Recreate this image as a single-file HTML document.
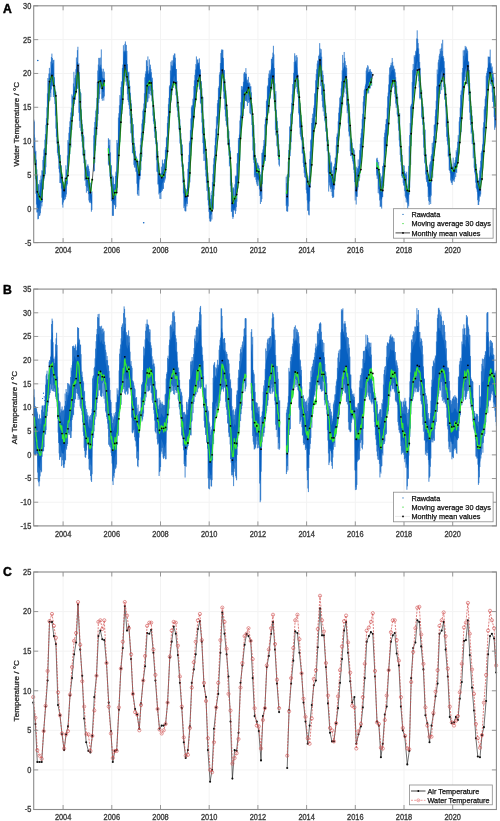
<!DOCTYPE html>
<html><head><meta charset="utf-8"><title>Temperature time series</title>
<style>html,body{margin:0;padding:0;background:#fff;}body{width:500px;height:821px;overflow:hidden;font-family:"Liberation Sans",sans-serif;}svg{display:block;filter:blur(0.35px);}</style>
</head><body>
<svg width="500" height="821" viewBox="0 0 500 821">
<rect width="500" height="821" fill="#fff"/>
<line x1="63.10" y1="5.80" x2="63.10" y2="242.60" stroke="#f3f3f3" stroke-width="1"/>
<line x1="111.80" y1="5.80" x2="111.80" y2="242.60" stroke="#f3f3f3" stroke-width="1"/>
<line x1="160.50" y1="5.80" x2="160.50" y2="242.60" stroke="#f3f3f3" stroke-width="1"/>
<line x1="209.20" y1="5.80" x2="209.20" y2="242.60" stroke="#f3f3f3" stroke-width="1"/>
<line x1="257.90" y1="5.80" x2="257.90" y2="242.60" stroke="#f3f3f3" stroke-width="1"/>
<line x1="306.60" y1="5.80" x2="306.60" y2="242.60" stroke="#f3f3f3" stroke-width="1"/>
<line x1="355.30" y1="5.80" x2="355.30" y2="242.60" stroke="#f3f3f3" stroke-width="1"/>
<line x1="404.00" y1="5.80" x2="404.00" y2="242.60" stroke="#f3f3f3" stroke-width="1"/>
<line x1="452.70" y1="5.80" x2="452.70" y2="242.60" stroke="#f3f3f3" stroke-width="1"/>
<line x1="33.70" y1="242.60" x2="496.40" y2="242.60" stroke="#f3f3f3" stroke-width="1"/>
<line x1="33.70" y1="208.77" x2="496.40" y2="208.77" stroke="#f3f3f3" stroke-width="1"/>
<line x1="33.70" y1="174.94" x2="496.40" y2="174.94" stroke="#f3f3f3" stroke-width="1"/>
<line x1="33.70" y1="141.11" x2="496.40" y2="141.11" stroke="#f3f3f3" stroke-width="1"/>
<line x1="33.70" y1="107.29" x2="496.40" y2="107.29" stroke="#f3f3f3" stroke-width="1"/>
<line x1="33.70" y1="73.46" x2="496.40" y2="73.46" stroke="#f3f3f3" stroke-width="1"/>
<line x1="33.70" y1="39.63" x2="496.40" y2="39.63" stroke="#f3f3f3" stroke-width="1"/>
<line x1="33.70" y1="5.80" x2="496.40" y2="5.80" stroke="#f3f3f3" stroke-width="1"/>
<line x1="63.10" y1="289.10" x2="63.10" y2="525.90" stroke="#f3f3f3" stroke-width="1"/>
<line x1="111.80" y1="289.10" x2="111.80" y2="525.90" stroke="#f3f3f3" stroke-width="1"/>
<line x1="160.50" y1="289.10" x2="160.50" y2="525.90" stroke="#f3f3f3" stroke-width="1"/>
<line x1="209.20" y1="289.10" x2="209.20" y2="525.90" stroke="#f3f3f3" stroke-width="1"/>
<line x1="257.90" y1="289.10" x2="257.90" y2="525.90" stroke="#f3f3f3" stroke-width="1"/>
<line x1="306.60" y1="289.10" x2="306.60" y2="525.90" stroke="#f3f3f3" stroke-width="1"/>
<line x1="355.30" y1="289.10" x2="355.30" y2="525.90" stroke="#f3f3f3" stroke-width="1"/>
<line x1="404.00" y1="289.10" x2="404.00" y2="525.90" stroke="#f3f3f3" stroke-width="1"/>
<line x1="452.70" y1="289.10" x2="452.70" y2="525.90" stroke="#f3f3f3" stroke-width="1"/>
<line x1="33.70" y1="525.90" x2="496.40" y2="525.90" stroke="#f3f3f3" stroke-width="1"/>
<line x1="33.70" y1="502.22" x2="496.40" y2="502.22" stroke="#f3f3f3" stroke-width="1"/>
<line x1="33.70" y1="478.54" x2="496.40" y2="478.54" stroke="#f3f3f3" stroke-width="1"/>
<line x1="33.70" y1="454.86" x2="496.40" y2="454.86" stroke="#f3f3f3" stroke-width="1"/>
<line x1="33.70" y1="431.18" x2="496.40" y2="431.18" stroke="#f3f3f3" stroke-width="1"/>
<line x1="33.70" y1="407.50" x2="496.40" y2="407.50" stroke="#f3f3f3" stroke-width="1"/>
<line x1="33.70" y1="383.82" x2="496.40" y2="383.82" stroke="#f3f3f3" stroke-width="1"/>
<line x1="33.70" y1="360.14" x2="496.40" y2="360.14" stroke="#f3f3f3" stroke-width="1"/>
<line x1="33.70" y1="336.46" x2="496.40" y2="336.46" stroke="#f3f3f3" stroke-width="1"/>
<line x1="33.70" y1="312.78" x2="496.40" y2="312.78" stroke="#f3f3f3" stroke-width="1"/>
<line x1="33.70" y1="289.10" x2="496.40" y2="289.10" stroke="#f3f3f3" stroke-width="1"/>
<line x1="63.10" y1="572.00" x2="63.10" y2="809.50" stroke="#f3f3f3" stroke-width="1"/>
<line x1="111.80" y1="572.00" x2="111.80" y2="809.50" stroke="#f3f3f3" stroke-width="1"/>
<line x1="160.50" y1="572.00" x2="160.50" y2="809.50" stroke="#f3f3f3" stroke-width="1"/>
<line x1="209.20" y1="572.00" x2="209.20" y2="809.50" stroke="#f3f3f3" stroke-width="1"/>
<line x1="257.90" y1="572.00" x2="257.90" y2="809.50" stroke="#f3f3f3" stroke-width="1"/>
<line x1="306.60" y1="572.00" x2="306.60" y2="809.50" stroke="#f3f3f3" stroke-width="1"/>
<line x1="355.30" y1="572.00" x2="355.30" y2="809.50" stroke="#f3f3f3" stroke-width="1"/>
<line x1="404.00" y1="572.00" x2="404.00" y2="809.50" stroke="#f3f3f3" stroke-width="1"/>
<line x1="452.70" y1="572.00" x2="452.70" y2="809.50" stroke="#f3f3f3" stroke-width="1"/>
<line x1="33.70" y1="809.50" x2="496.40" y2="809.50" stroke="#f3f3f3" stroke-width="1"/>
<line x1="33.70" y1="769.92" x2="496.40" y2="769.92" stroke="#f3f3f3" stroke-width="1"/>
<line x1="33.70" y1="730.33" x2="496.40" y2="730.33" stroke="#f3f3f3" stroke-width="1"/>
<line x1="33.70" y1="690.75" x2="496.40" y2="690.75" stroke="#f3f3f3" stroke-width="1"/>
<line x1="33.70" y1="651.17" x2="496.40" y2="651.17" stroke="#f3f3f3" stroke-width="1"/>
<line x1="33.70" y1="611.58" x2="496.40" y2="611.58" stroke="#f3f3f3" stroke-width="1"/>
<line x1="33.70" y1="572.00" x2="496.40" y2="572.00" stroke="#f3f3f3" stroke-width="1"/>
<path d="M33.90,134.02 34.40,134.75 34.90,144.16 35.40,153.56 35.90,163.17 36.40,173.52 36.90,182.66 37.40,188.35 37.90,193.19 38.40,194.61 38.90,193.96 39.40,192.17 39.90,190.19 40.40,188.19 40.90,185.03 41.40,181.59 41.90,178.22 42.40,175.56 42.90,172.67 43.40,166.56 43.90,160.45 44.40,154.37 44.90,147.92 45.40,140.86 45.90,134.32 46.40,127.79 46.90,117.05 47.40,104.06 47.90,91.98 48.40,84.77 48.90,78.23 49.40,77.92 49.90,77.60 50.40,77.73 50.90,72.18 51.40,65.94 51.90,64.26 52.40,63.32 52.90,64.69 53.40,68.37 53.90,74.58 54.40,82.72 54.90,90.87 55.40,95.50 55.90,101.61 56.40,111.17 56.90,121.82 57.40,131.90 57.90,139.17 58.40,146.29 58.90,150.54 59.40,154.61 59.90,159.16 60.40,164.11 60.90,168.70 61.40,171.86 61.90,175.72 62.40,180.72 62.90,184.98 63.40,189.24 63.90,189.76 64.40,186.62 64.90,183.45 65.40,181.78 65.90,180.10 66.40,175.44 66.90,169.63 67.40,163.72 67.90,156.80 68.40,149.77 68.90,143.40 69.40,137.32 69.90,131.14 70.40,125.41 70.90,120.21 71.40,115.58 71.90,110.89 72.40,104.79 72.90,97.28 73.40,90.13 73.90,89.22 74.40,88.31 74.90,86.52 75.40,81.35 75.90,75.76 76.40,69.09 76.90,62.47 77.40,61.46 77.90,62.16 78.40,68.04 78.90,75.61 79.40,84.76 79.90,93.85 80.40,102.94 80.90,110.02 81.40,117.24 81.90,123.57 82.40,129.33 82.90,134.95 83.40,140.43 83.90,146.00 84.40,151.78 84.90,157.23 85.40,162.31 85.90,164.90 86.40,167.25 86.90,168.85 87.40,170.56 87.90,172.53 88.40,174.56 88.90,176.59 89.40,180.34 89.90,184.30 90.40,188.13 90.90,190.89 91.40,193.65 91.90,195.11 91.90,204.47 91.40,203.85 90.90,202.38 90.40,200.91 89.90,197.12 89.40,193.27 88.90,189.91 88.40,187.90 87.90,185.89 87.40,183.28 86.90,180.78 86.40,179.04 85.90,177.43 85.40,175.28 84.90,170.24 84.40,165.05 83.90,158.98 83.40,152.81 82.90,146.86 82.40,141.54 81.90,136.17 81.40,130.55 80.90,124.55 80.40,118.85 79.90,112.64 79.40,106.44 78.90,95.54 78.40,85.32 77.90,79.03 77.40,77.40 76.90,79.76 76.40,84.85 75.90,90.04 75.40,94.53 74.90,98.49 74.40,100.99 73.90,103.12 73.40,105.25 72.90,111.09 72.40,117.79 71.90,123.61 71.40,127.78 70.90,131.92 70.40,137.79 69.90,144.89 69.40,151.95 68.90,158.03 68.40,164.24 67.90,169.81 67.40,175.11 66.90,180.20 66.40,185.60 65.90,190.50 65.40,191.75 64.90,192.99 64.40,195.36 63.90,198.44 63.40,199.96 62.90,198.13 62.40,196.31 61.90,189.52 61.40,183.22 60.90,179.67 60.40,177.13 59.90,173.74 59.40,167.72 58.90,161.90 58.40,157.12 57.90,151.39 57.40,145.32 56.90,136.95 56.40,128.34 55.90,117.38 55.40,107.19 54.90,100.43 54.40,96.37 53.90,92.30 53.40,85.57 52.90,79.92 52.40,77.02 51.90,79.22 51.40,83.15 50.90,87.45 50.40,90.40 49.90,90.92 49.40,91.65 48.90,92.38 48.40,100.86 47.90,110.91 47.40,122.58 46.90,133.96 46.40,144.37 45.90,151.45 45.40,158.54 44.90,165.07 44.40,170.17 43.90,175.10 43.40,181.20 42.90,187.30 42.40,191.33 41.90,194.80 41.40,198.34 40.90,200.99 40.40,203.51 39.90,205.44 39.40,207.34 38.90,208.95 38.40,209.23 37.90,208.62 37.40,206.55 36.90,204.11 36.40,194.16 35.90,182.17 35.40,171.91 34.90,163.83 34.40,155.75 33.90,154.03Z M93.80,144.41 94.30,139.36 94.80,132.67 95.30,126.63 95.80,121.21 96.30,115.88 96.80,106.89 97.30,95.23 97.80,84.54 98.30,79.27 98.80,74.11 99.30,70.58 99.80,67.32 100.30,66.72 100.80,67.52 101.30,68.99 101.80,73.16 102.30,77.33 102.80,78.03 103.30,78.73 103.80,78.99 104.30,78.53 104.30,89.18 103.80,91.53 103.30,92.25 102.80,91.95 102.30,91.65 101.80,88.69 101.30,85.74 100.80,83.37 100.30,81.51 99.80,82.92 99.30,87.79 98.80,92.78 98.30,99.42 97.80,106.35 97.30,115.01 96.80,123.22 96.30,130.28 95.80,136.46 95.30,142.86 94.80,150.27 94.30,159.10 93.80,161.26Z M108.40,145.46 108.90,146.93 109.40,150.79 109.90,156.33 110.40,163.72 110.90,171.11 111.40,175.03 111.90,179.20 112.40,183.35 112.90,186.18 113.40,188.73 113.90,188.63 114.40,189.34 114.90,189.53 115.40,184.93 115.90,180.24 116.40,171.93 116.90,162.99 117.40,151.81 117.90,140.43 118.40,130.03 118.90,123.22 119.40,116.40 119.90,109.40 120.40,102.70 120.90,96.11 121.40,89.39 121.90,82.80 122.40,75.70 122.90,67.88 123.40,60.07 123.90,55.62 124.40,51.47 124.90,49.95 125.40,51.11 125.90,53.21 126.40,55.79 126.90,62.81 127.40,71.97 127.90,79.42 128.40,80.67 128.90,82.07 129.40,86.69 129.90,92.42 130.40,98.37 130.90,105.94 131.40,113.69 131.90,121.51 132.40,128.73 132.90,135.38 133.40,140.55 133.90,145.73 134.40,149.26 134.90,152.65 135.40,155.55 135.90,158.45 136.40,161.36 136.90,164.79 137.40,168.96 137.90,172.51 138.40,172.91 138.90,170.05 139.40,164.76 139.90,159.46 140.40,153.71 140.90,146.66 141.40,139.44 141.90,132.14 142.40,124.89 142.90,119.14 143.40,115.18 143.90,111.47 144.40,103.15 144.90,94.82 145.40,86.89 145.90,79.25 146.40,72.96 146.90,71.14 147.40,71.02 147.90,73.15 148.40,74.54 148.90,73.53 149.40,72.40 149.90,71.44 150.40,72.94 150.90,75.28 151.40,78.42 151.90,82.08 152.40,87.45 152.90,96.00 153.40,104.56 153.90,111.94 154.40,119.04 154.90,124.29 155.40,129.02 155.90,133.76 156.40,140.18 156.90,146.61 157.40,152.72 157.90,159.02 158.40,165.61 158.90,172.09 159.40,178.26 159.90,179.89 160.40,179.21 160.90,177.89 161.40,175.36 161.90,172.94 162.40,171.89 162.90,171.19 163.40,170.24 163.90,168.20 164.40,166.16 164.90,162.35 165.40,157.55 165.90,151.59 166.40,144.24 166.90,136.69 167.40,128.66 167.90,120.63 168.40,111.72 168.90,102.07 169.40,92.70 169.90,87.31 170.40,81.91 170.90,77.39 171.40,73.43 171.90,70.35 172.40,68.30 172.90,66.20 173.40,64.21 173.90,62.30 174.40,61.90 174.90,62.85 175.40,64.62 175.90,72.85 176.40,81.14 176.90,88.57 177.40,95.78 177.90,102.14 178.40,107.53 178.90,112.91 179.40,119.08 179.90,125.31 180.40,131.75 180.90,138.18 181.40,144.61 181.90,150.37 182.40,156.38 182.90,163.42 183.40,171.76 183.90,180.24 184.40,186.72 184.90,192.55 185.40,194.83 185.90,195.27 186.40,193.76 186.90,189.39 187.40,184.43 187.90,178.27 188.40,171.46 188.90,164.64 189.40,156.39 189.90,148.14 190.40,139.00 190.90,129.87 191.40,121.68 191.90,115.98 192.40,110.35 192.90,105.18 193.40,100.07 193.90,95.10 194.40,89.44 194.90,83.81 195.40,78.30 195.90,72.79 196.40,68.47 196.90,66.24 197.40,64.14 197.90,62.93 198.40,63.55 198.90,64.75 199.40,66.16 199.90,70.72 200.40,77.50 200.90,84.27 201.40,91.51 201.90,99.24 202.40,107.44 202.90,116.18 203.40,124.78 203.90,130.87 204.40,136.47 204.90,142.03 205.40,148.26 205.90,154.63 206.40,161.09 206.90,167.51 207.40,174.11 207.90,180.59 208.40,186.23 208.90,191.23 209.40,196.23 209.90,201.15 210.40,205.41 210.90,207.97 211.40,204.25 211.90,198.75 212.40,191.37 212.90,183.71 213.40,175.43 213.90,167.34 214.40,158.98 214.90,150.27 215.40,141.56 215.90,134.48 216.40,127.67 216.90,120.53 217.40,112.70 217.90,104.88 218.40,98.98 218.90,93.56 219.40,87.87 219.90,79.77 220.40,71.52 220.90,64.95 221.40,58.95 221.90,57.07 222.40,56.82 222.90,58.05 223.40,64.77 223.90,71.50 224.40,79.17 224.90,86.54 225.40,94.04 225.90,101.16 226.40,108.28 226.90,112.90 227.40,117.89 227.90,124.03 228.40,130.54 228.90,136.34 229.40,140.97 229.90,146.03 230.40,157.84 230.90,171.20 231.40,182.92 231.90,189.97 232.40,196.39 232.90,196.63 233.40,196.63 233.90,197.35 234.40,198.48 234.90,193.89 235.40,189.57 235.90,185.83 236.40,181.33 236.90,174.41 237.40,167.26 237.90,159.46 238.40,151.75 238.90,144.10 239.40,136.17 239.90,128.19 240.40,120.65 240.90,113.25 241.40,105.84 241.90,98.42 242.40,91.36 242.90,88.41 243.40,85.45 243.90,82.79 244.40,79.91 244.90,77.24 245.40,76.72 245.90,77.34 246.40,80.22 246.90,83.05 247.40,82.79 247.90,82.60 248.40,82.91 248.90,85.38 249.40,88.02 249.90,90.29 250.40,92.01 250.90,94.72 251.40,100.66 251.90,107.03 252.40,114.03 252.90,121.64 253.40,129.82 253.90,137.94 254.40,146.07 254.90,154.07 255.40,161.18 255.90,164.89 256.40,166.96 256.90,168.88 257.40,169.12 257.90,169.21 258.40,170.55 258.90,172.50 259.40,174.77 259.90,179.03 260.40,183.28 260.90,180.71 261.40,173.62 261.90,165.81 262.40,159.39 262.90,153.64 263.40,150.72 263.90,147.84 264.40,143.62 264.90,134.67 265.40,125.47 265.90,118.06 266.40,111.36 266.90,104.62 267.40,97.49 267.90,90.61 268.40,86.96 268.90,83.30 269.40,79.95 269.90,76.40 270.40,72.89 270.90,69.92 271.40,66.95 271.90,64.77 272.40,63.16 272.90,62.42 273.40,64.62 273.90,68.37 274.40,79.18 274.90,90.05 275.40,99.81 275.90,108.61 276.40,116.66 276.90,123.71 277.40,130.78 277.90,136.83 278.40,142.31 278.90,147.80 279.40,152.09 279.40,160.38 278.90,158.54 278.40,153.86 277.90,149.17 277.40,143.56 276.90,137.06 276.40,130.61 275.90,123.95 275.40,116.97 274.90,108.02 274.40,97.55 273.90,87.23 273.40,80.38 272.90,75.25 272.40,76.96 271.90,79.39 271.40,82.07 270.90,84.94 270.40,87.82 269.90,90.98 269.40,94.24 268.90,97.42 268.40,101.89 267.90,106.36 267.40,112.91 266.90,120.04 266.40,127.11 265.90,134.63 265.40,142.44 264.90,149.04 264.40,155.03 263.90,158.91 263.40,161.88 262.90,164.87 262.40,174.18 261.90,185.05 261.40,191.65 260.90,194.68 260.40,195.79 259.90,189.92 259.40,184.04 258.90,181.91 258.40,179.90 257.90,178.86 257.40,178.82 256.90,178.43 256.40,176.15 255.90,174.04 255.40,172.45 254.90,169.40 254.40,164.29 253.90,156.16 253.40,148.04 252.90,138.15 252.40,128.51 251.90,120.17 251.40,112.80 250.90,106.43 250.40,104.71 249.90,103.43 249.40,100.85 248.90,97.41 248.40,94.39 247.90,93.66 247.40,94.09 246.90,94.21 246.40,93.00 245.90,91.65 245.40,90.22 244.90,91.43 244.40,93.91 243.90,96.89 243.40,99.76 242.90,103.94 242.40,108.11 241.90,115.08 241.40,122.90 240.90,130.72 240.40,138.53 239.90,146.41 239.40,154.19 238.90,161.87 238.40,169.51 237.90,177.46 237.40,185.44 236.90,191.30 236.40,196.60 235.90,200.62 235.40,203.96 234.90,207.55 234.40,210.09 233.90,210.18 233.40,209.87 232.90,209.87 232.40,209.31 231.90,205.42 231.40,200.19 230.90,188.73 230.40,176.57 229.90,164.74 229.40,155.60 228.90,147.45 228.40,142.06 227.90,136.36 227.40,129.91 226.90,123.73 226.40,118.39 225.90,113.00 225.40,107.62 224.90,101.19 224.40,94.83 223.90,87.76 223.40,80.23 222.90,72.71 222.40,69.85 221.90,70.42 221.40,74.02 220.90,81.23 220.40,88.69 219.90,95.72 219.40,102.41 218.90,108.22 218.40,114.62 217.90,121.22 217.40,128.64 216.90,136.07 216.40,142.96 215.90,149.36 215.40,155.87 214.90,165.41 214.40,174.95 213.90,183.57 213.40,191.57 212.90,199.22 212.40,204.93 211.90,210.52 211.40,213.84 210.90,216.03 210.40,214.93 209.90,213.11 209.40,209.73 208.90,203.51 208.40,197.30 207.90,191.98 207.40,186.29 206.90,180.22 206.40,173.99 205.90,167.69 205.40,161.20 204.90,154.77 204.40,150.19 203.90,146.62 203.40,141.91 202.90,132.42 202.40,122.87 201.90,114.02 201.40,105.49 200.90,98.10 200.40,92.29 199.90,86.48 199.40,81.85 198.90,78.56 198.40,75.74 197.90,74.31 197.40,77.14 196.90,80.70 196.40,84.56 195.90,89.20 195.40,93.90 194.90,98.59 194.40,103.62 193.90,108.73 193.40,113.70 192.90,119.36 192.40,125.05 191.90,131.42 191.40,137.93 190.90,145.97 190.40,155.10 189.90,164.23 189.40,171.27 188.90,178.30 188.40,184.71 187.90,191.11 187.40,196.79 186.90,200.26 186.40,203.48 185.90,204.49 185.40,204.30 184.90,203.32 184.40,200.53 183.90,196.25 183.40,186.24 182.90,176.29 182.40,168.26 181.90,161.02 181.40,154.36 180.90,148.13 180.40,141.89 179.90,135.38 179.40,128.95 178.90,122.66 178.40,116.87 177.90,111.09 177.40,105.46 176.90,99.46 176.40,93.38 175.90,86.92 175.40,80.60 174.90,77.54 174.40,75.30 173.90,76.25 173.40,78.80 172.90,81.40 172.40,83.58 171.90,85.62 171.40,89.03 170.90,94.20 170.40,99.62 169.90,105.43 169.40,111.24 168.90,119.55 168.40,128.49 167.90,137.13 167.40,144.64 166.90,152.15 166.40,158.92 165.90,165.24 165.40,170.39 164.90,174.18 164.40,177.55 163.90,179.60 163.40,181.64 162.90,182.51 162.40,182.81 161.90,183.90 161.40,188.15 160.90,192.44 160.40,193.01 159.90,193.30 159.40,192.50 158.90,187.54 158.40,181.87 157.90,173.81 157.40,165.87 156.90,158.95 156.40,152.12 155.90,145.31 155.40,139.23 154.90,133.15 154.40,128.22 153.90,122.50 153.40,116.10 152.90,108.36 152.40,100.62 151.90,95.41 151.40,90.94 150.90,87.39 150.40,84.65 149.90,83.87 149.40,86.12 148.90,88.76 148.40,90.69 147.90,90.09 147.40,89.18 146.90,89.44 146.40,93.70 145.90,99.41 145.40,105.02 144.90,110.75 144.40,116.63 143.90,122.51 143.40,127.11 142.90,132.28 142.40,138.39 141.90,145.80 141.40,153.24 140.90,160.14 140.40,166.64 139.90,172.81 139.40,179.72 138.90,186.64 138.40,187.86 137.90,187.69 137.40,182.93 136.90,175.93 136.40,170.63 135.90,167.65 135.40,164.66 134.90,162.35 134.40,159.81 133.90,156.96 133.40,153.00 132.90,149.05 132.40,143.27 131.90,137.25 131.40,129.60 130.90,121.06 130.40,112.95 129.90,106.92 129.40,100.99 128.90,96.17 128.40,92.89 127.90,89.97 127.40,85.62 126.90,80.52 126.40,74.50 125.90,69.92 125.40,65.67 124.90,62.95 124.40,66.51 123.90,73.51 123.40,81.23 122.90,89.13 122.40,95.17 121.90,100.89 121.40,107.49 120.90,114.42 120.40,121.54 119.90,129.08 119.40,136.74 118.90,143.14 118.40,149.54 117.90,160.26 117.40,173.25 116.90,184.97 116.40,190.96 115.90,196.67 115.40,198.84 114.90,200.81 114.40,200.73 113.90,201.81 113.40,204.76 112.90,203.67 112.40,202.46 111.90,197.09 111.40,190.09 110.90,183.65 110.40,176.41 109.90,169.17 109.40,164.12 108.90,159.78 108.40,156.35Z M286.20,189.25 286.70,191.46 287.20,189.99 287.70,182.90 288.20,172.26 288.70,160.35 289.20,148.93 289.70,138.03 290.20,130.58 290.70,124.03 291.20,117.11 291.70,109.00 292.20,100.88 292.70,93.88 293.20,87.18 293.70,80.61 294.20,73.01 294.70,64.92 295.20,62.48 295.70,61.17 296.20,62.64 296.70,64.50 297.20,68.09 297.70,74.91 298.20,81.72 298.70,89.97 299.20,98.70 299.70,106.64 300.20,112.82 300.70,118.71 301.20,123.44 301.70,128.16 302.20,133.75 302.70,139.75 303.20,145.40 303.70,150.62 304.20,155.85 304.70,160.31 305.20,164.20 305.70,167.51 306.20,171.48 306.70,175.59 307.20,181.21 307.70,187.08 308.20,189.27 308.70,186.05 309.20,182.12 309.70,172.27 310.20,161.78 310.70,152.13 311.20,143.39 311.70,134.89 312.20,128.88 312.70,122.87 313.20,117.91 313.70,113.23 314.20,108.43 314.70,101.97 315.20,95.47 315.70,89.41 316.20,83.74 316.70,77.88 317.20,73.32 317.70,68.93 318.20,65.84 318.70,62.88 319.20,60.14 319.70,57.83 320.20,56.61 320.70,58.29 321.20,59.98 321.70,66.97 322.20,74.04 322.70,79.87 323.20,82.61 323.70,85.36 324.20,92.20 324.70,99.42 325.20,106.27 325.70,113.09 326.20,119.77 326.70,125.86 327.20,131.94 327.70,139.01 328.20,147.52 328.70,155.63 329.20,158.91 329.70,162.20 330.20,163.84 330.70,165.85 331.20,169.67 331.70,172.83 332.20,175.99 332.70,178.82 333.20,178.25 333.70,174.67 334.20,170.50 334.70,166.42 335.20,162.10 335.70,157.41 336.20,152.02 336.70,145.24 337.20,138.45 337.70,132.78 338.20,127.38 338.70,121.40 339.20,114.20 339.70,106.99 340.20,102.18 340.70,97.37 341.20,92.28 341.70,86.58 342.20,81.09 342.70,75.21 343.20,69.34 343.70,67.82 344.20,66.29 344.70,65.27 345.20,67.89 345.70,71.45 346.20,74.24 346.70,77.41 347.20,85.56 347.70,94.80 348.20,102.25 348.70,107.03 349.20,111.80 349.70,120.38 350.20,128.82 350.70,135.07 351.20,138.65 351.70,142.41 352.20,147.52 352.70,152.12 353.20,153.22 353.70,154.63 354.20,157.09 354.70,164.99 355.20,173.52 355.70,178.25 356.20,180.82 356.70,179.40 357.20,176.66 357.70,173.92 358.20,171.59 358.70,168.12 359.20,163.94 359.70,158.14 360.20,152.24 360.70,146.59 361.20,141.35 361.70,135.58 362.20,128.03 362.70,120.24 363.20,111.51 363.70,102.78 364.20,96.25 364.70,92.41 365.20,89.43 365.70,84.51 366.20,79.59 366.70,75.70 367.20,74.12 367.70,72.77 368.20,72.47 368.70,72.17 369.20,71.86 369.70,71.54 370.20,72.71 370.70,74.87 371.20,76.48 371.70,75.88 371.70,81.72 371.20,83.12 370.70,82.66 370.20,81.73 369.70,81.47 369.20,82.20 368.70,82.93 368.20,83.63 367.70,84.33 367.20,86.10 366.70,88.38 366.20,91.65 365.70,94.36 365.20,97.06 364.70,101.36 364.20,107.65 363.70,115.32 363.20,124.85 362.70,134.37 362.20,141.67 361.70,148.41 361.20,154.26 360.70,159.72 360.20,165.35 359.70,170.38 359.20,175.20 358.70,178.86 358.20,181.52 357.70,183.68 357.20,190.07 356.70,196.46 356.20,197.07 355.70,195.97 355.20,190.80 354.70,178.42 354.20,167.53 353.70,163.79 353.20,160.51 352.70,157.95 352.20,154.29 351.70,150.74 351.20,149.08 350.70,147.50 350.20,142.03 349.70,134.93 349.20,127.53 348.70,121.39 348.20,115.25 347.70,108.01 347.20,100.00 346.70,92.10 346.20,86.10 345.70,80.96 345.20,78.31 344.70,78.93 344.20,81.57 343.70,85.13 343.20,88.69 342.70,92.94 342.20,97.20 341.70,101.86 341.20,106.98 340.70,111.84 340.20,116.81 339.70,121.78 339.20,127.76 338.70,133.72 338.20,139.29 337.70,145.11 337.20,151.04 336.70,157.43 336.20,163.81 335.70,169.07 335.20,173.23 334.70,177.23 334.20,181.74 333.70,186.43 333.20,189.48 332.70,189.72 332.20,188.51 331.70,186.58 331.20,184.66 330.70,179.52 330.20,177.49 329.70,177.05 329.20,175.64 328.70,174.23 328.20,162.71 327.70,151.02 327.20,142.69 326.70,136.61 326.20,130.52 325.70,124.15 325.20,117.73 324.70,111.77 324.20,105.77 323.70,100.63 323.20,98.29 322.70,95.94 322.20,89.97 321.70,83.46 321.20,77.15 320.70,73.22 320.20,69.29 319.70,68.07 319.20,69.41 318.70,72.56 318.20,76.73 317.70,80.96 317.20,87.14 316.70,93.74 316.20,100.10 315.70,105.21 315.20,110.49 314.70,115.66 314.20,120.74 313.70,125.57 313.20,131.06 312.70,136.66 312.20,143.90 311.70,151.14 311.20,160.14 310.70,169.69 310.20,179.76 309.70,190.67 309.20,201.31 308.70,203.00 308.20,204.38 307.70,202.53 307.20,194.23 306.70,186.49 306.20,181.23 305.70,176.03 305.20,173.45 304.70,171.22 304.20,167.65 303.70,162.13 303.20,156.60 302.70,151.08 302.20,145.42 301.70,140.38 301.20,136.03 300.70,131.67 300.20,126.81 299.70,121.83 299.20,113.31 298.70,103.76 298.20,95.35 297.70,88.95 297.20,82.55 296.70,78.70 296.20,75.60 295.70,73.40 295.20,76.45 294.70,82.14 294.20,88.85 293.70,94.41 293.20,100.01 292.70,107.55 292.20,115.21 291.70,123.32 291.20,131.42 290.70,138.88 290.20,146.00 289.70,153.50 289.20,166.46 288.70,180.63 288.20,192.91 287.70,201.47 287.20,204.51 286.70,205.14 286.20,200.00Z M376.70,163.26 377.20,163.88 377.70,165.95 378.20,168.52 378.70,171.78 379.20,175.03 379.70,178.37 380.20,181.80 380.70,185.03 381.20,187.05 381.70,186.23 382.20,183.40 382.70,176.46 383.20,168.95 383.70,159.95 384.20,150.57 384.70,142.17 385.20,137.66 385.70,133.15 386.20,127.79 386.70,121.42 387.20,114.77 387.70,107.66 388.20,100.54 388.70,92.58 389.20,84.27 389.70,77.77 390.20,75.60 390.70,73.38 391.20,71.82 391.70,70.48 392.20,70.06 392.70,69.86 393.20,69.80 393.70,70.25 394.20,71.81 394.70,75.94 395.20,80.33 395.70,84.65 396.20,88.72 396.70,93.07 397.20,98.55 397.70,104.03 398.20,109.37 398.70,115.17 399.20,121.40 399.70,128.17 400.20,134.91 400.70,141.93 401.20,149.01 401.70,156.10 402.20,162.02 402.70,167.93 403.20,169.18 403.70,170.18 404.20,171.42 404.70,173.56 405.20,176.07 405.70,179.79 406.20,183.32 406.70,186.90 407.20,190.22 407.70,193.11 408.20,186.13 408.70,175.49 409.20,163.69 409.70,152.55 410.20,140.62 410.70,129.48 411.20,118.35 411.70,107.61 412.20,95.68 412.70,83.89 413.20,78.01 413.70,72.13 414.20,68.62 414.70,65.66 415.20,62.51 415.70,57.34 416.20,52.17 416.70,48.68 417.20,47.77 417.70,47.51 418.20,51.32 418.70,57.83 419.20,64.24 419.70,70.66 420.20,77.28 420.70,83.79 421.20,90.30 421.70,96.82 422.20,103.33 422.70,109.29 423.20,115.86 423.70,123.58 424.20,131.56 424.70,139.44 425.20,146.66 425.70,153.71 426.20,160.81 426.70,167.14 427.20,172.61 427.70,175.62 428.20,178.88 428.70,181.74 429.20,182.94 429.70,182.45 430.20,178.49 430.70,174.53 431.20,167.65 431.70,161.86 432.20,157.06 432.70,152.28 433.20,147.51 433.70,142.01 434.20,136.23 434.70,129.97 435.20,121.83 435.70,113.80 436.20,106.91 436.70,100.18 437.20,91.85 437.70,83.01 438.20,74.55 438.70,71.30 439.20,68.04 439.70,64.55 440.20,60.49 440.70,57.52 441.20,56.92 441.70,56.32 442.20,56.40 442.70,56.49 443.20,58.63 443.70,62.49 444.20,68.92 444.70,78.97 445.20,89.03 445.70,97.24 446.20,105.57 446.70,113.53 447.20,120.93 447.70,128.33 448.20,136.08 448.70,143.60 449.20,150.07 449.70,155.24 450.20,160.12 450.70,163.86 451.20,167.61 451.70,169.64 452.20,171.07 452.70,171.92 453.20,170.22 453.70,168.22 454.20,166.73 454.70,165.73 455.20,164.72 455.70,162.28 456.20,159.84 456.70,156.69 457.20,153.26 457.70,149.17 458.20,143.69 458.70,138.09 459.20,130.15 459.70,121.76 460.20,113.66 460.70,106.32 461.20,98.83 461.70,91.28 462.20,83.87 462.70,76.46 463.20,69.06 463.70,62.16 464.20,60.94 464.70,59.73 465.20,57.84 465.70,55.10 466.20,53.30 466.70,52.88 467.20,53.45 467.70,57.75 468.20,62.80 468.70,70.90 469.20,80.85 469.70,90.36 470.20,98.17 470.70,105.99 471.20,112.42 471.70,118.20 472.20,123.98 472.70,130.37 473.20,136.75 473.70,142.87 474.20,148.81 474.70,154.95 475.20,160.75 475.70,166.55 476.20,171.33 476.70,176.10 477.20,179.63 477.70,182.56 478.20,185.78 478.70,188.63 479.20,184.40 479.70,179.61 480.20,174.46 480.70,168.79 481.20,162.62 481.70,156.52 482.20,150.93 482.70,144.76 483.20,138.10 483.70,129.97 484.20,121.84 484.70,114.33 485.20,106.82 485.70,98.95 486.20,90.87 486.70,82.78 487.20,76.05 487.70,69.65 488.20,64.80 488.70,63.11 489.20,61.77 489.70,62.98 490.20,64.33 490.70,66.32 491.20,68.64 491.70,71.25 492.20,74.92 492.70,78.60 493.20,83.49 493.70,88.76 494.20,94.84 494.70,101.35 495.20,108.06 495.70,113.31 495.70,127.99 495.20,125.74 494.70,118.58 494.20,111.50 493.70,104.32 493.20,97.43 492.70,91.39 492.20,86.93 491.70,82.48 491.20,79.62 490.70,76.89 490.20,74.64 489.70,72.90 489.20,71.44 488.70,74.59 488.20,78.52 487.70,84.09 487.20,91.48 486.70,99.01 486.20,107.10 485.70,115.18 485.20,122.71 484.70,129.41 484.20,136.10 483.70,144.23 483.20,152.36 482.70,158.45 482.20,163.41 481.70,168.62 481.20,176.07 480.70,183.55 480.20,189.30 479.70,193.81 479.20,197.13 478.70,198.95 478.20,197.72 477.70,193.44 477.20,189.28 476.70,185.34 476.20,180.98 475.70,176.62 475.20,171.80 474.70,166.98 474.20,161.14 473.70,155.38 473.20,149.22 472.70,142.43 472.20,135.65 471.70,130.27 471.20,124.88 470.70,118.54 470.20,111.14 469.70,103.75 469.20,95.62 468.70,87.31 468.20,79.31 467.70,72.51 467.20,67.45 466.70,66.13 466.20,67.12 465.70,69.05 465.20,71.39 464.70,73.37 464.20,76.20 463.70,79.03 463.20,85.70 462.70,93.51 462.20,101.32 461.70,109.12 461.20,116.97 460.70,123.67 460.20,130.03 459.70,136.76 459.20,143.84 458.70,150.71 458.20,155.68 457.70,160.36 457.20,163.97 456.70,166.58 456.20,169.07 455.70,170.72 455.20,172.36 454.70,173.37 454.20,174.37 453.70,175.68 453.20,177.61 452.70,179.42 452.20,179.05 451.70,178.44 451.20,176.96 450.70,173.62 450.20,170.28 449.70,166.44 449.20,162.49 448.70,156.59 448.20,149.89 447.70,142.63 447.20,134.81 446.70,127.00 446.20,118.95 445.70,110.73 445.20,102.80 444.70,94.22 444.20,85.65 443.70,78.25 443.20,71.95 442.70,69.42 442.20,70.55 441.70,71.67 441.20,73.08 440.70,74.48 440.20,77.37 439.70,81.44 439.20,85.27 438.70,90.15 438.20,95.02 437.70,103.21 437.20,112.28 436.70,120.42 436.20,125.02 435.70,129.69 435.20,135.79 434.70,142.19 434.20,147.77 433.70,153.16 433.20,158.42 432.70,162.77 432.20,167.13 431.70,174.29 431.20,183.74 430.70,193.66 430.20,195.35 429.70,197.05 429.20,195.52 428.70,193.27 428.20,189.26 427.70,184.39 427.20,180.09 426.70,176.57 426.20,172.70 425.70,166.64 425.20,160.14 424.70,153.24 424.20,145.55 423.70,137.83 423.20,129.02 422.70,120.43 422.20,113.24 421.70,107.54 421.20,101.84 420.70,96.15 420.20,90.45 419.70,84.37 419.20,78.14 418.70,71.97 418.20,65.95 417.70,61.08 417.20,61.68 416.70,63.81 416.20,67.04 415.70,70.99 415.20,74.95 414.70,78.50 414.20,82.67 413.70,87.08 413.20,95.41 412.70,103.74 412.20,114.99 411.70,126.54 411.20,137.58 410.70,151.04 410.20,164.50 409.70,176.06 409.20,185.79 408.70,194.63 408.20,199.19 407.70,202.18 407.20,200.06 406.70,197.76 406.20,194.66 405.70,191.41 405.20,187.70 404.70,183.94 404.20,180.34 403.70,178.82 403.20,177.82 402.70,176.24 402.20,171.94 401.70,167.64 401.20,160.56 400.70,153.47 400.20,146.40 399.70,139.44 399.20,132.43 398.70,125.47 398.20,118.70 397.70,113.30 397.20,108.62 396.70,103.94 396.20,99.76 395.70,95.71 395.20,91.07 394.70,86.29 394.20,82.08 393.70,79.67 393.20,79.85 392.70,80.67 392.20,81.14 391.70,82.11 391.20,85.07 390.70,88.12 390.20,91.07 389.70,93.90 389.20,99.70 388.70,107.93 388.20,116.00 387.70,123.10 387.20,130.20 386.70,136.28 386.20,141.69 385.70,146.66 385.20,150.93 384.70,155.20 384.20,163.92 383.70,174.91 383.20,185.04 382.70,191.74 382.20,198.19 381.70,199.40 381.20,199.76 380.70,198.65 380.20,196.10 379.70,193.08 379.20,189.51 378.70,185.99 378.20,181.36 377.70,176.77 377.20,173.31 376.70,171.88Z" fill="#0962c2"/><path d="M33.90,119.66V163.49M34.40,121.45V160.69M34.90,137.66V154.33M35.40,151.91V179.10M35.90,150.88V193.75M36.40,159.65V204.54M36.90,169.37V212.41M37.40,175.26V212.36M37.90,186.24V219.34M38.40,183.94V218.88M38.90,184.74V211.23M39.40,196.03V215.98M39.90,179.97V215.39M40.40,182.61V213.26M40.90,175.54V208.48M41.40,179.25V202.84M41.90,170.30V206.35M42.40,170.76V202.21M42.90,159.95V180.95M43.40,156.36V189.43M43.90,149.46V180.64M44.40,148.04V178.51M44.90,139.66V175.50M45.40,134.05V173.98M45.90,124.83V167.20M46.40,118.21V155.10M46.90,107.37V144.35M47.40,93.41V127.86M47.90,78.02V119.16M48.40,83.11V104.66M48.90,73.62V98.40M49.40,67.89V101.41M49.90,73.44V100.52M50.40,79.87V93.07M50.90,61.67V97.10M51.40,57.04V89.46M51.90,53.61V85.58M52.40,58.09V86.22M52.90,62.99V85.59M53.40,60.15V97.06M53.90,59.76V95.05M54.40,77.23V94.46M54.90,85.87V104.04M55.40,92.95V115.78M55.90,91.62V128.63M56.40,108.81V136.98M56.90,129.38V143.61M57.40,122.62V152.92M57.90,138.73V155.52M58.40,140.49V158.42M58.90,143.78V168.82M59.40,145.59V172.50M59.90,161.91V183.00M60.40,154.84V182.76M60.90,165.30V183.34M61.40,165.42V188.53M61.90,175.80V197.68M62.40,174.44V204.68M62.90,191.56V207.64M63.40,181.86V202.47M63.90,183.73V200.36M64.40,184.79V200.14M64.90,177.56V196.60M65.40,182.50V199.22M65.90,165.30V196.91M66.40,169.50V194.43M66.90,172.43V185.72M67.40,155.45V184.24M67.90,140.05V172.00M68.40,142.40V158.60M68.90,132.78V158.30M69.40,127.02V157.08M69.90,121.35V154.05M70.40,117.35V143.24M70.90,112.53V147.40M71.40,107.69V124.23M71.90,94.35V129.82M72.40,95.82V119.23M72.90,97.01V115.64M73.40,83.49V116.25M73.90,71.80V106.04M74.40,86.53V104.09M74.90,77.86V99.68M75.40,75.23V99.77M75.90,69.17V91.57M76.40,57.48V92.47M76.90,66.92V88.95M77.40,50.13V88.75M77.90,46.77V84.25M78.40,71.20V87.73M78.90,63.27V112.84M79.40,72.10V120.80M79.90,88.96V127.88M80.40,91.83V116.18M80.90,93.16V130.86M81.40,109.36V136.24M81.90,119.62V141.67M82.40,124.23V147.54M82.90,128.89V155.43M83.40,134.87V155.17M83.90,136.52V163.20M84.40,150.17V158.41M84.90,149.84V180.64M85.40,163.48V179.89M85.90,159.77V185.96M86.40,167.13V192.68M86.90,170.60V187.13M87.40,165.64V191.02M87.90,164.31V187.71M88.40,166.21V194.16M88.90,168.84V200.46M89.40,171.24V202.03M89.90,182.73V203.06M90.40,194.52V196.37M90.90,182.72V203.07M91.40,198.75V211.71M91.90,191.30V209.96M93.80,135.37V171.66M94.30,127.35V171.00M94.80,121.98V162.71M95.30,117.21V150.77M95.80,110.67V145.66M96.30,108.66V134.65M96.80,97.92V135.03M97.30,82.17V126.74M97.80,70.56V120.41M98.30,64.58V114.03M98.80,57.87V102.99M99.30,58.14V98.86M99.80,65.75V94.24M100.30,57.55V86.80M100.80,64.73V88.65M101.30,49.43V88.02M101.80,68.63V98.88M102.30,71.52V100.78M102.80,78.88V97.94M103.30,68.75V97.69M103.80,78.10V100.65M104.30,71.65V96.44M108.40,138.20V164.63M108.90,139.68V165.67M109.40,145.26V157.45M109.90,139.70V176.62M110.40,152.40V181.03M110.90,165.01V186.53M111.40,165.45V201.14M111.90,174.54V188.86M112.40,184.45V215.83M112.90,175.84V215.53M113.40,177.42V215.86M113.90,184.40V203.73M114.40,183.95V205.18M114.90,187.94V205.15M115.40,175.94V209.03M115.90,171.67V206.97M116.40,172.96V181.74M116.90,140.00V192.06M117.40,142.98V187.74M117.90,147.43V173.33M118.40,117.59V163.63M118.90,113.22V155.09M119.40,105.27V149.89M119.90,95.10V142.07M120.40,99.46V130.65M120.90,87.06V123.11M121.40,81.33V113.60M121.90,90.62V113.95M122.40,68.01V109.51M122.90,64.53V103.84M123.40,45.22V95.14M123.90,51.39V75.48M124.40,51.88V76.22M124.90,43.84V72.20M125.40,41.44V76.73M125.90,51.31V81.77M126.40,44.88V85.65M126.90,50.90V81.13M127.40,64.15V94.23M127.90,71.99V100.08M128.40,72.70V102.04M128.90,71.68V105.22M129.40,80.44V109.00M129.90,85.85V115.66M130.40,92.74V123.63M130.90,99.82V133.32M131.40,103.42V132.83M131.90,113.95V142.59M132.40,118.10V153.17M132.90,130.44V153.09M133.40,124.22V154.36M133.90,137.89V164.89M134.40,143.07V166.85M134.90,146.57V168.01M135.40,150.90V160.10M135.90,155.67V171.74M136.40,156.74V171.58M136.90,159.08V183.71M137.40,171.07V194.10M137.90,162.66V195.50M138.40,171.46V190.28M138.90,160.89V195.85M139.40,160.90V172.24M139.90,153.55V179.49M140.40,144.80V175.81M140.90,138.17V170.08M141.40,132.64V161.19M141.90,123.60V156.88M142.40,119.49V139.81M142.90,110.64V140.39M143.40,108.67V134.80M143.90,103.50V130.86M144.40,93.25V124.97M144.90,77.35V123.00M145.40,73.73V111.80M145.90,71.21V101.09M146.40,60.06V108.21M146.90,61.14V98.70M147.40,66.05V102.30M147.90,56.45V101.57M148.40,73.66V93.68M148.90,70.44V98.32M149.40,59.45V94.04M149.90,67.22V77.65M150.40,64.67V90.81M150.90,68.96V95.30M151.40,72.23V95.32M151.90,80.74V101.35M152.40,77.70V97.63M152.90,89.76V115.65M153.40,101.00V121.37M153.90,107.18V124.11M154.40,112.55V131.52M154.90,118.93V137.88M155.40,121.50V138.08M155.90,129.18V144.08M156.40,131.39V160.21M156.90,140.22V171.64M157.40,142.37V172.08M157.90,150.92V184.52M158.40,163.08V184.13M158.90,162.80V194.43M159.40,170.28V192.89M159.90,173.90V198.88M160.40,173.46V191.60M160.90,175.19V199.05M161.40,166.68V191.90M161.90,172.90V189.76M162.40,159.64V190.81M162.90,163.35V188.81M163.40,163.54V188.91M163.90,173.90V174.20M164.40,159.46V182.69M164.90,159.07V180.44M165.40,149.74V178.52M165.90,147.08V173.33M166.40,137.76V168.11M166.90,136.73V152.65M167.40,122.97V148.11M167.90,116.35V133.74M168.40,104.20V140.00M168.90,97.88V128.17M169.40,86.34V117.23M169.90,85.07V106.36M170.40,70.46V110.87M170.90,61.73V102.56M171.40,65.43V100.42M171.90,60.44V95.24M172.40,65.74V90.05M172.90,60.35V80.95M173.40,55.28V87.97M173.90,57.37V83.32M174.40,53.54V82.58M174.90,53.60V84.08M175.40,57.72V88.63M175.90,69.13V95.28M176.40,68.97V88.86M176.90,81.02V107.27M177.40,92.30V110.76M177.90,96.17V117.19M178.40,105.76V119.92M178.90,106.25V129.40M179.40,116.85V131.75M179.90,119.31V143.49M180.40,125.82V141.18M180.90,133.07V154.55M181.40,139.47V161.31M181.90,148.19V166.81M182.40,144.54V169.12M182.90,163.50V182.74M183.40,164.63V193.38M183.90,171.42V208.07M184.40,178.92V206.28M184.90,184.68V210.80M185.40,188.20V211.35M185.90,189.68V211.33M186.40,195.01V201.16M186.90,188.97V206.43M187.40,190.61V203.88M187.90,168.80V193.26M188.40,162.07V194.60M188.90,154.87V187.61M189.40,142.67V180.68M189.90,140.92V182.37M190.40,130.18V162.85M190.90,118.45V155.76M191.40,107.28V142.51M191.90,105.46V140.25M192.40,105.39V133.29M192.90,98.75V127.67M193.40,104.16V119.50M193.90,86.12V118.91M194.40,80.36V105.63M194.90,74.83V106.94M195.40,69.53V97.86M195.90,64.05V99.23M196.40,56.45V95.99M196.90,65.26V92.20M197.40,59.74V80.67M197.90,59.28V76.92M198.40,62.84V82.31M198.90,62.62V78.29M199.40,58.34V89.55M199.90,70.66V89.17M200.40,69.27V102.84M200.90,82.63V104.16M201.40,81.17V112.82M201.90,88.26V122.44M202.40,96.31V133.49M202.90,97.00V143.08M203.40,118.85V153.79M203.90,119.27V160.96M204.40,128.10V151.62M204.90,138.80V160.60M205.40,141.00V169.78M205.90,151.33V176.40M206.40,152.32V182.81M206.90,158.13V190.91M207.40,166.39V187.39M207.90,172.57V200.24M208.40,181.76V205.47M208.90,187.92V211.87M209.40,187.05V218.60M209.90,192.58V221.27M210.40,198.74V221.66M210.90,202.21V221.26M211.40,195.09V214.37M211.90,190.81V219.47M212.40,182.10V208.39M212.90,173.87V207.87M213.40,164.44V209.49M213.90,158.20V196.31M214.40,156.07V186.77M214.90,145.31V182.38M215.40,137.80V165.73M215.90,128.76V160.28M216.40,116.36V138.05M216.90,128.30V144.51M217.40,103.25V123.46M217.90,100.02V125.21M218.40,88.06V122.77M218.90,86.35V119.27M219.40,74.58V107.83M219.90,72.23V107.69M220.40,63.06V93.84M220.90,53.05V89.64M221.40,50.35V84.22M221.90,49.17V79.16M222.40,49.99V78.19M222.90,49.82V65.64M223.40,57.95V91.59M223.90,70.55V98.76M224.40,69.96V98.63M224.90,79.24V109.52M225.40,91.01V116.53M225.90,90.56V120.95M226.40,101.58V125.29M226.90,105.35V126.82M227.40,109.71V137.81M227.90,117.42V145.27M228.40,129.41V143.96M228.90,131.06V155.63M229.40,139.55V166.39M229.90,147.18V163.38M230.40,150.75V185.74M230.90,168.84V191.95M231.40,191.56V211.80M231.90,182.73V211.51M232.40,195.63V216.72M232.90,187.95V218.93M233.40,187.33V217.17M233.90,188.74V206.98M234.40,196.18V210.63M234.90,184.30V208.25M235.40,175.66V213.93M235.90,176.86V211.10M236.40,175.65V207.17M236.90,163.34V201.71M237.40,153.28V192.28M237.90,152.99V188.41M238.40,138.00V180.27M238.90,140.33V166.81M239.40,134.65V164.26M239.90,120.53V160.95M240.40,115.54V139.84M240.90,102.24V137.70M241.40,86.05V126.98M241.90,89.72V117.08M242.40,86.38V120.39M242.90,89.71V104.25M243.40,81.78V116.38M243.90,73.59V106.76M244.40,72.03V108.81M244.90,72.78V99.36M245.40,73.73V100.94M245.90,68.12V100.91M246.40,73.78V100.75M246.90,80.56V101.95M247.40,79.58V105.96M247.90,83.21V88.13M248.40,76.87V102.97M248.90,88.49V99.91M249.40,82.42V101.66M249.90,83.66V113.16M250.40,86.50V114.29M250.90,86.23V108.53M251.40,92.38V107.25M251.90,103.11V125.06M252.40,109.00V136.56M252.90,115.84V150.47M253.40,122.20V159.82M253.90,124.83V162.83M254.40,138.06V177.33M254.90,143.23V175.20M255.40,155.06V176.88M255.90,160.44V179.79M256.40,158.29V182.28M256.90,166.43V184.40M257.40,162.64V186.08M257.90,163.38V180.11M258.40,165.26V176.07M258.90,165.71V185.73M259.40,168.23V189.36M259.90,171.88V196.00M260.40,174.74V203.99M260.90,174.30V192.43M261.40,176.29V201.90M261.90,152.99V199.08M262.40,152.51V184.23M262.90,149.48V166.13M263.40,145.91V170.23M263.90,140.01V166.11M264.40,144.15V156.96M264.90,124.34V159.32M265.40,119.18V160.97M265.90,117.10V146.22M266.40,101.02V135.12M266.90,99.45V125.39M267.40,86.44V123.60M267.90,85.35V111.77M268.40,77.92V110.95M268.90,73.61V113.18M269.40,70.43V104.58M269.90,74.80V93.87M270.40,77.01V98.42M270.90,69.44V90.42M271.40,58.93V87.49M271.90,58.77V89.84M272.40,56.91V83.88M272.90,52.70V83.24M273.40,45.80V89.49M273.90,54.43V99.35M274.40,68.02V103.58M274.90,83.41V110.83M275.40,94.15V129.83M275.90,91.08V135.45M276.40,109.72V134.68M276.90,117.49V146.26M277.40,121.12V145.59M277.90,128.10V155.98M278.40,134.20V159.75M278.90,144.24V164.74M279.40,150.12V166.47M286.20,176.71V205.90M286.70,183.11V211.09M287.20,175.21V211.65M287.70,173.98V211.54M288.20,161.64V206.43M288.70,149.93V181.07M289.20,144.14V177.37M289.70,126.72V153.38M290.20,125.97V156.14M290.70,113.81V149.58M291.20,112.25V142.13M291.70,102.85V130.28M292.20,94.29V124.15M292.70,84.09V109.18M293.20,90.50V109.43M293.70,72.87V102.29M294.20,61.88V93.19M294.70,53.26V87.12M295.20,55.70V88.55M295.70,61.32V80.79M296.20,60.23V79.59M296.70,55.10V86.94M297.20,57.29V92.23M297.70,78.85V93.88M298.20,74.65V96.98M298.70,80.03V113.32M299.20,91.31V114.97M299.70,109.14V127.68M300.20,103.18V134.33M300.70,116.53V136.66M301.20,115.06V139.38M301.70,122.36V140.28M302.20,130.36V153.44M302.70,137.48V153.32M303.20,137.39V163.06M303.70,143.65V167.03M304.20,151.05V173.20M304.70,153.14V177.24M305.20,165.12V171.87M305.70,162.47V178.14M306.20,168.54V189.83M306.70,173.35V193.39M307.20,187.72V200.31M307.70,177.92V210.71M308.20,184.49V210.73M308.70,180.21V214.68M309.20,175.79V215.43M309.70,159.14V201.40M310.20,151.38V187.89M310.70,140.18V181.66M311.20,138.89V165.90M311.70,122.99V160.17M312.20,118.06V150.47M312.70,113.72V146.78M313.20,122.80V139.22M313.70,107.92V133.22M314.20,105.39V128.79M314.70,93.24V125.43M315.20,94.06V116.91M315.70,80.34V116.49M316.20,73.99V109.63M316.70,69.25V101.99M317.20,63.51V92.84M317.70,60.47V82.76M318.20,61.06V84.37M318.70,55.93V86.82M319.20,54.68V75.97M319.70,43.14V76.97M320.20,48.54V76.01M320.70,52.66V86.15M321.20,49.24V76.59M321.70,56.68V94.81M322.20,79.92V101.16M322.70,70.55V107.20M323.20,74.96V111.51M323.70,85.19V108.26M324.20,83.82V115.89M324.70,93.47V120.70M325.20,107.55V122.52M325.70,105.43V131.62M326.20,113.05V129.01M326.70,118.85V141.49M327.20,128.41V151.16M327.70,136.86V149.28M328.20,139.99V172.48M328.70,152.51V191.59M329.20,153.53V182.51M329.70,152.59V185.46M330.20,155.42V187.40M330.70,162.85V189.12M331.20,161.49V192.04M331.70,162.76V187.29M332.20,170.32V196.08M332.70,177.05V197.89M333.20,176.54V197.72M333.70,166.57V196.95M334.20,166.45V189.60M334.70,163.69V185.67M335.20,157.72V181.21M335.70,157.88V170.00M336.20,145.41V171.53M336.70,136.79V162.98M337.20,133.50V146.71M337.70,135.12V153.28M338.20,121.40V153.21M338.70,112.72V140.63M339.20,107.58V136.33M339.70,97.62V128.73M340.20,103.80V126.20M340.70,96.25V120.04M341.20,88.34V111.15M341.70,81.41V113.20M342.20,70.36V94.29M342.70,54.92V105.21M343.20,62.81V93.68M343.70,76.47V97.31M344.20,51.99V92.55M344.70,57.90V87.31M345.20,61.16V88.57M345.70,67.16V83.84M346.20,65.03V94.05M346.70,68.11V105.41M347.20,79.12V113.25M347.70,88.00V110.82M348.20,101.72V123.25M348.70,106.28V131.60M349.20,103.74V136.47M349.70,112.18V135.47M350.20,128.60V151.19M350.70,127.10V156.10M351.20,138.13V155.79M351.70,139.21V153.55M352.20,142.67V158.65M352.70,147.92V161.31M353.20,148.08V163.70M353.70,148.76V169.78M354.20,150.18V173.13M354.70,155.53V182.02M355.20,167.30V200.44M355.70,181.93V190.49M356.20,172.28V204.53M356.70,166.74V195.98M357.20,168.17V196.95M357.70,168.51V189.84M358.20,159.43V187.20M358.70,166.13V180.08M359.20,169.57V181.19M359.70,150.15V177.68M360.20,143.80V173.13M360.70,137.77V166.36M361.20,133.17V159.03M361.70,128.75V156.90M362.20,119.17V149.15M362.70,113.75V143.87M363.20,101.76V130.68M363.70,96.05V127.59M364.20,90.20V112.49M364.70,88.78V105.74M365.20,86.28V102.39M365.70,84.49V100.01M366.20,70.67V85.62M366.70,67.66V91.06M367.20,69.35V91.27M367.70,65.17V93.43M368.20,66.43V91.45M368.70,71.86V93.37M369.20,75.21V87.86M369.70,69.54V88.81M370.20,69.04V88.34M370.70,70.95V85.25M371.20,71.95V83.00M371.70,72.11V85.80M376.70,158.50V175.51M377.20,157.75V178.89M377.70,160.04V171.36M378.20,166.03V193.11M378.70,161.92V189.25M379.20,171.59V194.42M379.70,173.83V200.49M380.20,173.18V206.97M380.70,178.77V206.20M381.20,181.03V206.68M381.70,176.59V208.63M382.20,175.44V196.93M382.70,166.15V197.05M383.20,165.79V188.15M383.70,163.19V185.95M384.20,136.99V172.43M384.70,132.76V162.01M385.20,129.65V155.34M385.70,124.17V150.95M386.20,119.30V151.57M386.70,118.90V146.82M387.20,107.89V140.60M387.70,96.31V131.58M388.20,92.59V134.60M388.70,84.42V119.23M389.20,74.55V109.13M389.70,67.63V93.74M390.20,67.10V106.04M390.70,65.25V95.01M391.20,62.74V90.51M391.70,65.37V89.44M392.20,57.97V88.07M392.70,61.87V84.44M393.20,66.45V87.00M393.70,65.63V83.43M394.20,68.55V80.78M394.70,69.11V93.95M395.20,72.33V97.26M395.70,77.15V103.57M396.20,81.42V107.86M396.70,85.76V105.11M397.20,93.73V114.49M397.70,96.60V116.59M398.20,105.29V123.38M398.70,108.92V130.65M399.20,120.50V140.35M399.70,113.13V146.54M400.20,139.32V154.93M400.70,135.17V161.79M401.20,154.78V165.39M401.70,149.14V176.12M402.20,154.96V177.77M402.70,169.89V177.72M403.20,169.31V182.91M403.70,165.03V185.33M404.20,165.84V185.94M404.70,171.05V191.19M405.20,173.29V196.27M405.70,173.68V197.70M406.20,174.91V202.25M406.70,171.75V199.36M407.20,185.64V202.84M407.70,190.03V208.38M408.20,183.87V204.41M408.70,165.90V206.34M409.20,146.19V194.62M409.70,135.02V187.62M410.20,123.03V152.56M410.70,106.32V164.90M411.20,104.71V146.09M411.70,103.86V132.84M412.20,82.06V124.86M412.70,70.14V118.05M413.20,63.99V107.07M413.70,69.03V97.76M414.20,55.42V93.06M414.70,57.08V86.06M415.20,55.04V84.81M415.70,50.79V75.29M416.20,52.15V73.29M416.70,38.51V70.12M417.20,30.33V69.72M417.70,38.95V67.82M418.20,43.08V75.95M418.70,48.43V81.25M419.20,53.85V87.45M419.70,61.97V98.28M420.20,67.84V99.54M420.70,82.62V97.99M421.20,90.58V96.07M421.70,89.95V117.42M422.20,98.24V119.01M422.70,103.95V124.79M423.20,106.71V134.76M423.70,116.27V147.66M424.20,122.43V155.17M424.70,138.99V162.77M425.20,129.64V163.88M425.70,148.90V174.44M426.20,154.28V179.52M426.70,165.55V182.12M427.20,167.16V181.26M427.70,171.51V186.56M428.20,175.82V197.05M428.70,174.25V200.83M429.20,182.83V204.85M429.70,164.50V202.02M430.20,162.45V197.12M430.70,161.24V204.04M431.20,155.92V195.67M431.70,154.24V182.04M432.20,143.01V167.21M432.70,147.06V177.64M433.20,141.70V165.76M433.70,136.13V156.88M434.20,124.86V156.01M434.70,124.42V147.71M435.20,116.19V140.57M435.70,109.46V130.89M436.20,100.73V138.61M436.70,86.30V130.85M437.20,69.53V126.11M437.70,74.16V112.46M438.20,62.35V108.90M438.70,59.65V98.58M439.20,55.71V97.66M439.70,53.78V93.48M440.20,49.04V94.09M440.70,51.08V85.58M441.20,47.92V71.22M441.70,43.47V90.19M442.20,51.06V78.72M442.70,39.80V77.73M443.20,55.98V81.51M443.70,57.78V87.01M444.20,61.23V89.41M444.70,67.96V99.52M445.20,84.26V99.88M445.70,87.57V106.54M446.20,97.02V126.85M446.70,104.78V136.88M447.20,118.25V140.94M447.70,119.00V144.76M448.20,128.13V156.57M448.70,135.08V155.94M449.20,137.81V170.14M449.70,147.49V170.79M450.20,152.57V173.11M450.70,158.06V180.55M451.20,163.50V182.47M451.70,164.02V182.95M452.20,166.48V184.91M452.70,166.74V181.29M453.20,157.67V180.54M453.70,166.87V180.29M454.20,162.63V181.89M454.70,163.27V178.77M455.20,159.91V171.81M455.70,157.23V177.00M456.20,150.25V171.99M456.70,152.10V172.99M457.20,147.88V167.06M457.70,141.84V160.96M458.20,135.17V160.87M458.70,144.40V155.34M459.20,121.49V153.59M459.70,117.05V142.71M460.20,107.77V121.85M460.70,94.80V135.33M461.20,90.50V132.09M461.70,98.50V120.08M462.20,72.37V112.28M462.70,68.00V94.82M463.20,50.41V97.51M463.70,55.82V90.67M464.20,49.75V80.88M464.70,50.60V80.21M465.20,45.93V76.96M465.70,47.82V68.57M466.20,46.74V78.68M466.70,48.62V75.88M467.20,49.51V82.27M467.70,51.09V84.08M468.20,61.48V86.32M468.70,61.62V94.80M469.20,69.94V101.12M469.70,83.00V112.64M470.20,91.60V119.95M470.70,100.63V125.05M471.20,106.06V133.65M471.70,109.92V131.96M472.20,115.75V144.02M472.70,132.85V141.65M473.20,130.53V158.25M473.70,133.49V149.13M474.20,142.02V167.68M474.70,143.30V172.40M475.20,157.00V174.41M475.70,159.24V182.66M476.20,163.91V187.92M476.70,170.41V189.36M477.20,173.33V191.79M477.70,180.86V200.21M478.20,180.29V205.02M478.70,183.47V204.97M479.20,177.79V201.60M479.70,170.51V195.91M480.20,167.53V196.71M480.70,160.79V194.43M481.20,152.96V176.89M481.70,151.31V173.23M482.20,149.50V169.32M482.70,144.35V168.23M483.20,127.52V157.72M483.70,122.29V154.34M484.20,109.31V145.18M484.70,106.39V122.61M485.20,98.78V132.11M485.70,96.26V114.37M486.20,75.75V119.19M486.70,72.95V110.73M487.20,71.08V101.93M487.70,67.77V91.36M488.20,56.51V85.97M488.70,56.95V77.54M489.20,56.86V73.02M489.70,56.79V76.16M490.20,49.59V80.66M490.70,63.24V84.00M491.20,63.30V85.91M491.70,67.63V84.26M492.20,66.52V92.42M492.70,71.42V101.98M493.20,73.48V99.68M493.70,77.43V108.42M494.20,93.36V117.01M494.70,95.38V129.86M495.20,95.68V127.55M495.70,103.19V125.26" stroke="#0962c2" stroke-width="0.75" fill="none"/>
<circle cx="37.8" cy="60.5" r="0.8" fill="#0962c2"/>
<circle cx="143.7" cy="222.7" r="0.8" fill="#0962c2"/>
<path d="M34.00,153.69 L34.25,154.01 L34.50,155.80 L34.75,158.73 L35.00,162.25 L35.25,164.08 L35.50,166.72 L35.75,168.89 L36.00,173.80 L36.25,176.21 L36.50,180.43 L36.75,182.02 L37.00,186.02 L37.25,188.62 L37.50,190.72 L37.75,191.59 L38.00,192.54 L38.25,193.58 L38.50,194.22 L38.75,195.21 L39.00,196.63 L39.25,197.30 L39.50,197.61 L39.75,198.29 L40.00,199.48 L40.25,199.68 L40.50,199.50 L40.75,200.26 L41.00,200.14 L41.25,198.47 L41.50,196.90 L41.75,196.24 L42.00,194.93 L42.25,192.17 L42.50,189.28 L42.75,186.22 L43.00,183.04 L43.25,180.04 L43.50,178.03 L43.75,175.59 L44.00,172.39 L44.25,168.22 L44.50,166.46 L44.75,164.23 L45.00,162.62 L45.25,159.87 L45.50,156.17 L45.75,151.94 L46.00,147.85 L46.25,143.45 L46.50,139.58 L46.75,134.93 L47.00,131.72 L47.25,127.47 L47.50,124.38 L47.75,119.54 L48.00,114.82 L48.25,109.88 L48.50,104.56 L48.75,99.53 L49.00,92.91 L49.25,89.26 L49.50,85.64 L49.75,83.19 L50.00,81.45 L50.25,79.71 L50.50,79.40 L50.75,77.86 L51.00,78.01 L51.25,76.60 L51.50,76.19 L51.75,75.91 L52.00,76.44 L52.25,76.50 L52.50,75.94 L52.75,78.49 L53.00,80.08 L53.25,82.31 L53.50,82.63 L53.75,85.22 L54.00,85.99 L54.25,88.07 L54.50,88.29 L54.75,89.54 L55.00,91.04 L55.25,93.14 L55.50,97.03 L55.75,98.52 L56.00,100.64 L56.25,102.35 L56.50,108.30 L56.75,114.90 L57.00,121.35 L57.25,124.64 L57.50,129.08 L57.75,134.73 L58.00,139.82 L58.25,143.90 L58.50,146.88 L58.75,150.47 L59.00,152.65 L59.25,154.76 L59.50,156.70 L59.75,159.42 L60.00,162.74 L60.25,165.16 L60.50,166.29 L60.75,167.57 L61.00,170.16 L61.25,172.01 L61.50,173.41 L61.75,172.84 L62.00,175.47 L62.25,177.85 L62.50,181.90 L62.75,182.64 L63.00,182.12 L63.25,183.22 L63.50,185.82 L63.75,187.99 L64.00,188.39 L64.25,188.10 L64.50,188.26 L64.75,186.66 L65.00,184.39 L65.25,182.62 L65.50,180.70 L65.75,180.47 L66.00,179.17 L66.25,180.32 L66.50,180.26 L66.75,179.36 L67.00,177.89 L67.25,176.16 L67.50,175.47 L67.75,172.81 L68.00,170.78 L68.25,168.08 L68.50,166.17 L68.75,163.81 L69.00,161.10 L69.25,157.47 L69.50,154.00 L69.75,150.25 L70.00,146.49 L70.25,142.20 L70.50,138.83 L70.75,136.98 L71.00,134.24 L71.25,130.90 L71.50,125.94 L71.75,122.63 L72.00,120.39 L72.25,118.82 L72.50,115.11 L72.75,111.46 L73.00,107.07 L73.25,104.34 L73.50,102.90 L73.75,101.63 L74.00,100.78 L74.25,98.12 L74.50,96.55 L74.75,95.51 L75.00,94.82 L75.25,95.36 L75.50,94.54 L75.75,93.72 L76.00,90.79 L76.25,88.80 L76.50,85.31 L76.75,81.89 L77.00,78.04 L77.25,74.78 L77.50,72.89 L77.75,72.10 L78.00,72.22 L78.25,73.51 L78.50,74.91 L78.75,77.86 L79.00,81.28 L79.25,86.59 L79.50,90.15 L79.75,95.16 L80.00,98.83 L80.25,103.60 L80.50,107.46 L80.75,110.72 L81.00,114.89 L81.25,119.13 L81.50,123.76 L81.75,126.19 L82.00,129.00 L82.25,132.63 L82.50,136.78 L82.75,140.98 L83.00,141.95 L83.25,145.83 L83.50,147.29 L83.75,150.95 L84.00,153.69 L84.25,156.58 L84.50,159.01 L84.75,160.44 L85.00,163.17 L85.25,165.89 L85.50,168.79 L85.75,171.12 L86.00,173.85 L86.25,175.14 L86.50,177.24 L86.75,177.46 L87.00,178.69 L87.25,178.87 L87.50,179.16 L87.75,177.77 L88.00,176.74 L88.25,177.94 L88.50,179.48 L88.75,181.55 L89.00,182.66 L89.25,184.69 L89.50,187.73 L89.75,189.10 L90.00,190.94 L90.25,190.43 L90.50,191.65 L90.75,191.57 L91.00,190.84 L91.25,187.89 L91.50,184.04 L91.75,181.62 L92.00,179.48 L92.25,178.69 M93.75,163.60 L94.00,161.02 L94.25,159.24 L94.50,156.71 L94.75,153.10 L95.00,149.07 L95.25,144.89 L95.50,140.19 L95.75,136.85 L96.00,133.29 L96.25,129.67 L96.50,124.38 L96.75,119.23 L97.00,114.84 L97.25,109.15 L97.50,102.44 L97.75,95.91 L98.00,91.96 L98.25,88.88 L98.50,85.37 L98.75,82.35 L99.00,81.63 L99.25,80.77 L99.50,81.69 L99.75,80.87 L100.00,81.98 L100.25,82.17 L100.50,82.07 L100.75,82.38 L101.00,83.08 L101.25,84.38 L101.50,85.88 L101.75,87.14 L102.00,88.50 L102.25,88.25 L102.50,86.47 L102.75,85.56 L103.00,85.11 L103.25,84.35 L103.50,83.67 L103.75,82.56 L104.00,83.15 L104.25,83.91 L104.50,86.17 M108.25,148.28 L108.50,151.90 L108.75,154.22 L109.00,158.11 L109.25,160.61 L109.50,161.06 L109.75,163.77 L110.00,166.42 L110.25,171.71 L110.50,173.36 L110.75,177.47 L111.00,180.73 L111.25,183.25 L111.50,184.78 L111.75,185.64 L112.00,189.19 L112.25,191.40 L112.50,192.39 L112.75,193.78 L113.00,195.36 L113.25,197.70 L113.50,197.06 L113.75,195.21 L114.00,194.34 L114.25,194.15 L114.50,194.01 L114.75,191.86 L115.00,190.14 L115.25,191.92 L115.50,193.67 L115.75,195.10 L116.00,192.68 L116.25,191.98 L116.50,188.75 L116.75,186.61 L117.00,183.35 L117.25,181.39 L117.50,178.30 L117.75,174.44 L118.00,169.47 L118.25,164.85 L118.50,161.11 L118.75,156.92 L119.00,152.97 L119.25,148.61 L119.50,145.84 L119.75,142.20 L120.00,138.44 L120.25,135.71 L120.50,130.72 L120.75,126.15 L121.00,120.80 L121.25,117.34 L121.50,114.14 L121.75,110.62 L122.00,109.98 L122.25,107.27 L122.50,103.82 L122.75,97.55 L123.00,92.47 L123.25,88.02 L123.50,85.87 L123.75,84.41 L124.00,80.76 L124.25,76.36 L124.50,71.41 L124.75,69.87 L125.00,68.52 L125.25,69.75 L125.50,69.72 L125.75,71.32 L126.00,71.37 L126.25,72.67 L126.50,73.77 L126.75,75.14 L127.00,76.81 L127.25,77.60 L127.50,78.86 L127.75,80.63 L128.00,82.97 L128.25,83.61 L128.50,84.96 L128.75,85.70 L129.00,88.57 L129.25,91.01 L129.50,94.47 L129.75,97.10 L130.00,99.08 L130.25,100.70 L130.50,104.36 L130.75,107.96 L131.00,111.78 L131.25,113.49 L131.50,118.64 L131.75,122.55 L132.00,128.57 L132.25,131.21 L132.50,135.96 L132.75,139.04 L133.00,141.55 L133.25,143.83 L133.50,146.22 L133.75,149.05 L134.00,151.56 L134.25,153.26 L134.50,155.29 L134.75,156.75 L135.00,158.35 L135.25,159.35 L135.50,159.07 L135.75,159.63 L136.00,160.17 L136.25,159.95 L136.50,159.62 L136.75,158.95 L137.00,160.25 L137.25,161.91 L137.50,164.15 L137.75,166.03 L138.00,166.78 L138.25,167.96 L138.50,170.31 L138.75,171.97 L139.00,173.33 L139.25,171.87 L139.50,171.63 L139.75,169.82 L140.00,167.48 L140.25,163.67 L140.50,160.87 L140.75,157.49 L141.00,153.13 L141.25,150.28 L141.50,146.95 L141.75,146.38 L142.00,143.33 L142.25,142.30 L142.50,140.41 L142.75,136.75 L143.00,133.80 L143.25,130.77 L143.50,129.23 L143.75,127.93 L144.00,124.94 L144.25,121.36 L144.50,118.69 L144.75,115.89 L145.00,113.49 L145.25,108.63 L145.50,104.37 L145.75,101.65 L146.00,99.67 L146.25,97.07 L146.50,94.04 L146.75,91.20 L147.00,88.64 L147.25,85.53 L147.50,83.84 L147.75,83.81 L148.00,84.09 L148.25,85.24 L148.50,84.82 L148.75,85.65 L149.00,82.53 L149.25,81.84 L149.50,80.89 L149.75,82.54 L150.00,84.68 L150.25,84.28 L150.50,83.12 L150.75,82.36 L151.00,83.20 L151.25,85.01 L151.50,87.13 L151.75,88.90 L152.00,90.79 L152.25,92.20 L152.50,95.49 L152.75,98.50 L153.00,102.33 L153.25,104.87 L153.50,107.34 L153.75,109.81 L154.00,111.89 L154.25,115.59 L154.50,118.86 L154.75,122.34 L155.00,125.54 L155.25,126.83 L155.50,130.55 L155.75,132.27 L156.00,136.15 L156.25,138.37 L156.50,142.79 L156.75,145.81 L157.00,148.47 L157.25,151.00 L157.50,153.99 L157.75,158.44 L158.00,160.45 L158.25,162.20 L158.50,163.95 L158.75,166.88 L159.00,170.11 L159.25,172.34 L159.50,174.55 L159.75,174.83 L160.00,174.88 L160.25,175.48 L160.50,175.61 L160.75,175.66 L161.00,175.41 L161.25,175.46 L161.50,176.34 L161.75,176.59 L162.00,176.93 L162.25,176.60 L162.50,175.73 L162.75,176.56 L163.00,175.23 L163.25,175.89 L163.50,174.70 L163.75,176.08 L164.00,174.59 L164.25,173.00 L164.50,170.67 L164.75,169.80 L165.00,170.87 L165.25,171.05 L165.50,170.63 L165.75,168.69 L166.00,165.66 L166.25,163.25 L166.50,160.44 L166.75,158.59 L167.00,156.89 L167.25,154.70 L167.50,152.54 L167.75,148.16 L168.00,143.60 L168.25,138.59 L168.50,133.86 L168.75,130.55 L169.00,126.86 L169.25,123.20 L169.50,119.13 L169.75,115.26 L170.00,111.04 L170.25,105.97 L170.50,101.68 L170.75,99.35 L171.00,97.36 L171.25,94.77 L171.50,92.74 L171.75,90.35 L172.00,88.45 L172.25,87.00 L172.50,86.48 L172.75,86.46 L173.00,84.90 L173.25,83.40 L173.50,82.68 L173.75,82.24 L174.00,83.33 L174.25,83.83 L174.50,84.06 L174.75,83.69 L175.00,84.10 L175.25,85.36 L175.50,86.02 L175.75,86.21 L176.00,87.39 L176.25,88.24 L176.50,88.92 L176.75,90.60 L177.00,92.23 L177.25,95.57 L177.50,98.76 L177.75,102.46 L178.00,106.12 L178.25,107.79 L178.50,111.47 L178.75,113.13 L179.00,116.56 L179.25,120.45 L179.50,124.13 L179.75,126.79 L180.00,129.30 L180.25,132.52 L180.50,138.15 L180.75,140.82 L181.00,145.99 L181.25,147.82 L181.50,152.56 L181.75,156.57 L182.00,159.96 L182.25,160.53 L182.50,162.47 L182.75,165.47 L183.00,170.24 L183.25,173.22 L183.50,176.34 L183.75,178.10 L184.00,181.33 L184.25,183.81 L184.50,186.95 L184.75,189.16 L185.00,190.44 L185.25,191.04 L185.50,192.10 L185.75,193.09 L186.00,195.14 L186.25,195.08 L186.50,195.40 L186.75,195.21 L187.00,194.80 L187.25,194.56 L187.50,193.20 L187.75,191.78 L188.00,192.32 L188.25,192.42 L188.50,190.03 L188.75,187.07 L189.00,183.03 L189.25,181.55 L189.50,177.84 L189.75,175.36 L190.00,169.84 L190.25,166.49 L190.50,161.54 L190.75,158.38 L191.00,152.33 L191.25,148.88 L191.50,144.70 L191.75,141.86 L192.00,136.99 L192.25,133.37 L192.50,130.52 L192.75,127.96 L193.00,125.82 L193.25,122.53 L193.50,120.16 L193.75,117.80 L194.00,115.64 L194.25,112.89 L194.50,108.53 L194.75,106.52 L195.00,104.25 L195.25,102.52 L195.50,101.35 L195.75,100.53 L196.00,100.15 L196.25,96.69 L196.50,91.75 L196.75,88.61 L197.00,85.64 L197.25,85.44 L197.50,85.58 L197.75,86.37 L198.00,84.13 L198.25,81.14 L198.50,79.46 L198.75,78.60 L199.00,79.09 L199.25,76.97 L199.50,76.79 L199.75,76.83 L200.00,79.43 L200.25,81.43 L200.50,83.77 L200.75,85.06 L201.00,89.38 L201.25,91.17 L201.50,94.94 L201.75,97.85 L202.00,102.59 L202.25,106.27 L202.50,111.20 L202.75,114.90 L203.00,119.48 L203.25,121.89 L203.50,126.39 L203.75,128.48 L204.00,132.36 L204.25,135.17 L204.50,137.97 L204.75,138.89 L205.00,140.19 L205.25,143.68 L205.50,147.06 L205.75,149.98 L206.00,152.50 L206.25,154.68 L206.50,157.49 L206.75,161.04 L207.00,166.05 L207.25,170.47 L207.50,173.96 L207.75,177.41 L208.00,181.26 L208.25,185.25 L208.50,187.54 L208.75,190.18 L209.00,193.45 L209.25,196.77 L209.50,199.88 L209.75,202.93 L210.00,205.89 L210.25,208.13 L210.50,208.94 L210.75,209.99 L211.00,209.89 L211.25,210.32 L211.50,210.86 L211.75,210.59 L212.00,208.19 L212.25,206.69 L212.50,204.54 L212.75,201.29 L213.00,198.01 L213.25,193.23 L213.50,190.33 L213.75,186.68 L214.00,185.26 L214.25,182.47 L214.50,178.52 L214.75,173.53 L215.00,170.40 L215.25,166.66 L215.50,163.01 L215.75,160.52 L216.00,157.23 L216.25,155.01 L216.50,151.76 L216.75,150.12 L217.00,146.26 L217.25,142.59 L217.50,140.92 L217.75,139.25 L218.00,136.91 L218.25,132.49 L218.50,129.36 L218.75,126.49 L219.00,121.81 L219.25,117.95 L219.50,113.06 L219.75,109.93 L220.00,105.74 L220.25,101.00 L220.50,96.43 L220.75,92.56 L221.00,89.93 L221.25,86.82 L221.50,82.06 L221.75,78.26 L222.00,75.43 L222.25,74.67 L222.50,74.01 L222.75,73.82 L223.00,75.37 L223.25,75.34 L223.50,77.41 L223.75,77.93 L224.00,79.69 L224.25,80.78 L224.50,82.33 L224.75,85.79 L225.00,89.35 L225.25,91.79 L225.50,93.33 L225.75,95.62 L226.00,97.76 L226.25,102.61 L226.50,106.10 L226.75,110.62 L227.00,114.13 L227.25,117.77 L227.50,123.56 L227.75,129.33 L228.00,135.66 L228.25,140.11 L228.50,143.80 L228.75,146.69 L229.00,148.39 L229.25,150.35 L229.50,152.51 L229.75,152.81 L230.00,155.30 L230.25,157.78 L230.50,162.19 L230.75,165.01 L231.00,169.71 L231.25,176.91 L231.50,184.34 L231.75,188.39 L232.00,192.27 L232.25,195.87 L232.50,199.46 L232.75,200.31 L233.00,201.65 L233.25,201.91 L233.50,203.13 L233.75,200.18 L234.00,198.15 L234.25,196.04 L234.50,197.08 L234.75,197.34 L235.00,198.89 L235.25,198.09 L235.50,198.94 L235.75,197.90 L236.00,197.96 L236.25,196.54 L236.50,194.34 L236.75,192.32 L237.00,190.68 L237.25,190.32 L237.50,188.80 L237.75,187.46 L238.00,183.86 L238.25,182.22 L238.50,180.74 L238.75,178.03 L239.00,171.57 L239.25,164.44 L239.50,158.76 L239.75,154.12 L240.00,148.99 L240.25,143.83 L240.50,140.45 L240.75,136.81 L241.00,133.44 L241.25,130.38 L241.50,128.42 L241.75,125.72 L242.00,121.89 L242.25,117.99 L242.50,115.06 L242.75,112.71 L243.00,108.75 L243.25,106.28 L243.50,103.30 L243.75,101.11 L244.00,98.84 L244.25,97.29 L244.50,96.17 L244.75,93.67 L245.00,92.57 L245.25,92.31 L245.50,93.00 L245.75,93.77 L246.00,92.98 L246.25,92.87 L246.50,92.83 L246.75,93.24 L247.00,93.74 L247.25,92.71 L247.50,91.99 L247.75,90.82 L248.00,89.05 L248.25,89.97 L248.50,89.33 L248.75,90.12 L249.00,88.83 L249.25,89.35 L249.50,90.80 L249.75,92.96 L250.00,94.88 L250.25,95.62 L250.50,97.57 L250.75,98.73 L251.00,101.23 L251.25,102.38 L251.50,104.77 L251.75,105.21 L252.00,107.86 L252.25,110.07 L252.50,114.40 L252.75,117.12 L253.00,121.08 L253.25,125.58 L253.50,130.43 L253.75,137.28 L254.00,142.75 L254.25,148.89 L254.50,151.81 L254.75,156.17 L255.00,158.99 L255.25,161.64 L255.50,161.81 L255.75,162.46 L256.00,163.91 L256.25,165.41 L256.50,167.72 L256.75,170.38 L257.00,172.44 L257.25,172.58 L257.50,170.69 L257.75,169.08 L258.00,169.88 L258.25,169.36 L258.50,170.36 L258.75,169.81 L259.00,172.44 L259.25,173.36 L259.50,175.67 L259.75,178.34 L260.00,182.04 L260.25,185.17 L260.50,185.92 L260.75,186.71 L261.00,185.41 L261.25,184.58 L261.50,183.55 L261.75,180.44 L262.00,178.17 L262.25,173.76 L262.50,172.91 L262.75,169.43 L263.00,168.32 L263.25,165.23 L263.50,164.21 L263.75,163.69 L264.00,163.21 L264.25,161.25 L264.50,157.37 L264.75,155.13 L265.00,153.63 L265.25,151.15 L265.50,146.30 L265.75,140.78 L266.00,135.94 L266.25,130.77 L266.50,125.68 L266.75,121.07 L267.00,119.16 L267.25,117.09 L267.50,115.50 L267.75,114.05 L268.00,111.81 L268.25,109.90 L268.50,107.49 L268.75,105.32 L269.00,103.01 L269.25,100.21 L269.50,98.43 L269.75,96.48 L270.00,95.93 L270.25,95.02 L270.50,92.88 L270.75,90.67 L271.00,88.57 L271.25,87.24 L271.50,84.07 L271.75,81.60 L272.00,79.73 L272.25,79.31 L272.50,78.72 L272.75,78.79 L273.00,79.25 L273.25,80.09 L273.50,81.91 L273.75,84.78 L274.00,87.97 L274.25,91.61 L274.50,93.92 L274.75,99.13 L275.00,102.39 L275.25,106.95 L275.50,110.19 L275.75,115.18 L276.00,116.90 L276.25,120.15 L276.50,122.37 L276.75,126.62 L277.00,130.02 L277.25,133.12 L277.50,137.95 L277.75,140.76 L278.00,144.29 L278.25,145.93 L278.50,148.70 L278.75,151.88 L279.00,155.76 L279.25,158.62 L279.50,159.00 M286.25,193.76 L286.50,193.00 L286.75,191.00 L287.00,193.03 L287.25,192.86 L287.50,189.42 L287.75,186.74 L288.00,181.83 L288.25,177.17 L288.50,170.33 L288.75,164.94 L289.00,161.16 L289.25,155.39 L289.50,152.56 L289.75,149.55 L290.00,147.35 L290.25,142.13 L290.50,137.75 L290.75,133.82 L291.00,131.83 L291.25,129.37 L291.50,125.99 L291.75,121.52 L292.00,116.73 L292.25,115.05 L292.50,113.97 L292.75,112.85 L293.00,109.74 L293.25,105.56 L293.50,101.40 L293.75,99.16 L294.00,96.34 L294.25,93.57 L294.50,89.49 L294.75,86.97 L295.00,84.81 L295.25,82.53 L295.50,80.86 L295.75,79.37 L296.00,79.41 L296.25,78.69 L296.50,78.38 L296.75,78.99 L297.00,79.02 L297.25,79.66 L297.50,78.60 L297.75,80.49 L298.00,82.27 L298.25,85.11 L298.50,87.63 L298.75,90.53 L299.00,94.64 L299.25,96.24 L299.50,99.96 L299.75,102.03 L300.00,105.99 L300.25,107.91 L300.50,110.60 L300.75,113.83 L301.00,116.50 L301.25,119.88 L301.50,121.57 L301.75,126.18 L302.00,129.24 L302.25,134.39 L302.50,136.94 L302.75,139.75 L303.00,141.24 L303.25,143.94 L303.50,147.08 L303.75,149.91 L304.00,151.26 L304.25,151.53 L304.50,153.27 L304.75,155.43 L305.00,158.94 L305.25,161.47 L305.50,163.75 L305.75,166.47 L306.00,168.65 L306.25,170.71 L306.50,172.01 L306.75,174.39 L307.00,175.16 L307.25,176.36 L307.50,177.05 L307.75,180.02 L308.00,182.39 L308.25,184.21 L308.50,184.42 L308.75,184.59 L309.00,184.88 L309.25,184.31 L309.50,183.36 L309.75,182.93 L310.00,182.47 L310.25,181.27 L310.50,178.20 L310.75,176.24 L311.00,173.46 L311.25,170.45 L311.50,166.72 L311.75,164.05 L312.00,161.52 L312.25,157.78 L312.50,152.91 L312.75,147.75 L313.00,143.70 L313.25,141.07 L313.50,137.31 L313.75,134.12 L314.00,130.54 L314.25,129.36 L314.50,128.80 L314.75,128.31 L315.00,127.46 L315.25,124.96 L315.50,123.07 L315.75,123.18 L316.00,121.34 L316.25,117.90 L316.50,111.14 L316.75,106.19 L317.00,100.11 L317.25,95.56 L317.50,90.86 L317.75,87.83 L318.00,85.86 L318.25,82.53 L318.50,79.30 L318.75,75.45 L319.00,72.40 L319.25,69.29 L319.50,66.85 L319.75,65.78 L320.00,65.52 L320.25,65.16 L320.50,66.31 L320.75,67.55 L321.00,71.63 L321.25,74.15 L321.50,78.09 L321.75,79.35 L322.00,80.84 L322.25,81.52 L322.50,82.91 L322.75,84.65 L323.00,84.85 L323.25,86.89 L323.50,88.01 L323.75,92.08 L324.00,93.93 L324.25,97.01 L324.50,99.46 L324.75,102.20 L325.00,105.20 L325.25,108.81 L325.50,112.37 L325.75,116.47 L326.00,120.32 L326.25,123.73 L326.50,127.33 L326.75,128.42 L327.00,132.19 L327.25,133.80 L327.50,138.40 L327.75,139.84 L328.00,144.00 L328.25,146.73 L328.50,150.92 L328.75,154.11 L329.00,156.94 L329.25,159.78 L329.50,163.63 L329.75,167.98 L330.00,173.05 L330.25,174.70 L330.50,174.52 L330.75,173.17 L331.00,173.08 L331.25,174.08 L331.50,175.17 L331.75,175.98 L332.00,176.16 L332.25,177.74 L332.50,178.01 L332.75,180.37 L333.00,180.53 L333.25,182.53 L333.50,182.43 L333.75,183.25 L334.00,183.38 L334.25,182.64 L334.50,181.59 L334.75,177.64 L335.00,175.99 L335.25,173.94 L335.50,174.10 L335.75,172.49 L336.00,171.47 L336.25,168.86 L336.50,165.33 L336.75,161.91 L337.00,158.78 L337.25,156.78 L337.50,152.79 L337.75,149.59 L338.00,145.52 L338.25,142.31 L338.50,140.17 L338.75,137.08 L339.00,134.89 L339.25,131.38 L339.50,128.75 L339.75,125.93 L340.00,124.36 L340.25,121.77 L340.50,119.71 L340.75,116.87 L341.00,115.50 L341.25,111.63 L341.50,108.60 L341.75,106.83 L342.00,104.34 L342.25,100.27 L342.50,94.97 L342.75,93.28 L343.00,92.05 L343.25,90.35 L343.50,86.95 L343.75,84.86 L344.00,84.10 L344.25,82.64 L344.50,80.97 L344.75,80.14 L345.00,80.20 L345.25,79.84 L345.50,78.66 L345.75,78.29 L346.00,78.69 L346.25,79.59 L346.50,81.81 L346.75,85.56 L347.00,88.33 L347.25,90.33 L347.50,91.10 L347.75,94.53 L348.00,98.49 L348.25,101.81 L348.50,103.77 L348.75,106.45 L349.00,109.87 L349.25,114.28 L349.50,117.05 L349.75,121.13 L350.00,123.83 L350.25,127.52 L350.50,130.58 L350.75,135.30 L351.00,139.25 L351.25,142.26 L351.50,144.33 L351.75,147.01 L352.00,149.43 L352.25,150.92 L352.50,151.59 L352.75,153.45 L353.00,154.45 L353.25,155.40 L353.50,155.61 L353.75,157.04 L354.00,157.93 L354.25,159.62 L354.50,159.48 L354.75,162.44 L355.00,165.61 L355.25,171.58 L355.50,174.88 L355.75,179.27 L356.00,182.11 L356.25,186.00 L356.50,186.65 L356.75,186.86 L357.00,184.99 L357.25,184.35 L357.50,182.65 L357.75,180.61 L358.00,178.45 L358.25,177.17 L358.50,177.62 L358.75,177.96 L359.00,176.98 L359.25,174.80 L359.50,172.71 L359.75,173.25 L360.00,173.23 L360.25,172.09 L360.50,169.05 L360.75,167.16 L361.00,165.60 L361.25,163.87 L361.50,163.23 L361.75,159.47 L362.00,156.58 L362.25,151.55 L362.50,148.42 L362.75,145.50 L363.00,143.03 L363.25,140.95 L363.50,138.69 L363.75,135.14 L364.00,130.90 L364.25,126.66 L364.50,122.49 L364.75,118.90 L365.00,114.20 L365.25,111.53 L365.50,109.08 L365.75,105.13 L366.00,100.55 L366.25,96.28 L366.50,94.43 L366.75,92.86 L367.00,91.20 L367.25,90.07 L367.50,90.54 L367.75,89.61 L368.00,89.97 L368.25,88.51 L368.50,88.89 L368.75,87.29 L369.00,87.71 L369.25,86.20 L369.50,85.41 L369.75,83.23 L370.00,82.59 L370.25,82.96 L370.50,84.93 L370.75,84.84 L371.00,82.63 L371.25,78.88 L371.50,78.58 L371.75,78.58 L372.00,78.19 M376.75,162.23 L377.00,163.96 L377.25,165.88 L377.50,166.87 L377.75,167.34 L378.00,166.47 L378.25,166.25 L378.50,167.19 L378.75,170.12 L379.00,171.59 L379.25,173.86 L379.50,174.86 L379.75,178.75 L380.00,182.59 L380.25,185.65 L380.50,186.98 L380.75,188.40 L381.00,189.55 L381.25,190.95 L381.50,190.35 L381.75,190.30 L382.00,190.07 L382.25,189.35 L382.50,188.65 L382.75,186.98 L383.00,186.98 L383.25,184.48 L383.50,182.30 L383.75,178.51 L384.00,176.01 L384.25,173.77 L384.50,171.12 L384.75,168.19 L385.00,163.91 L385.25,160.24 L385.50,157.93 L385.75,155.44 L386.00,153.62 L386.25,149.74 L386.50,147.75 L386.75,145.68 L387.00,142.58 L387.25,139.23 L387.50,136.35 L387.75,135.61 L388.00,133.54 L388.25,130.64 L388.50,126.59 L388.75,122.65 L389.00,117.56 L389.25,114.12 L389.50,110.03 L389.75,106.55 L390.00,102.91 L390.25,101.41 L390.50,98.40 L390.75,94.81 L391.00,89.54 L391.25,86.94 L391.50,84.95 L391.75,83.86 L392.00,84.21 L392.25,83.42 L392.50,83.75 L392.75,81.06 L393.00,80.20 L393.25,81.67 L393.50,81.69 L393.75,82.64 L394.00,80.05 L394.25,81.55 L394.50,81.34 L394.75,82.33 L395.00,83.08 L395.25,85.41 L395.50,86.74 L395.75,88.76 L396.00,90.34 L396.25,93.00 L396.50,95.78 L396.75,96.62 L397.00,99.03 L397.25,100.48 L397.50,103.54 L397.75,106.31 L398.00,109.35 L398.25,111.54 L398.50,113.07 L398.75,114.01 L399.00,116.77 L399.25,120.93 L399.50,124.94 L399.75,128.41 L400.00,130.89 L400.25,134.88 L400.50,140.08 L400.75,143.72 L401.00,148.13 L401.25,150.54 L401.50,155.96 L401.75,158.45 L402.00,162.84 L402.25,164.20 L402.50,166.30 L402.75,167.35 L403.00,170.86 L403.25,174.29 L403.50,176.87 L403.75,176.45 L404.00,176.31 L404.25,176.35 L404.50,177.37 L404.75,178.06 L405.00,178.65 L405.25,178.70 L405.50,180.19 L405.75,181.63 L406.00,185.23 L406.25,187.32 L406.50,189.16 L406.75,189.81 L407.00,189.70 L407.25,189.30 L407.50,189.40 L407.75,190.32 L408.00,191.66 L408.25,191.39 L408.50,191.52 L408.75,190.10 L409.00,188.10 L409.25,184.52 L409.50,180.23 L409.75,175.25 L410.00,169.13 L410.25,161.11 L410.50,153.72 L410.75,146.46 L411.00,141.41 L411.25,136.12 L411.50,132.01 L411.75,128.27 L412.00,124.24 L412.25,121.13 L412.50,117.68 L412.75,113.80 L413.00,110.55 L413.25,106.70 L413.50,104.67 L413.75,101.46 L414.00,100.24 L414.25,98.01 L414.50,94.50 L414.75,91.22 L415.00,88.34 L415.25,87.65 L415.50,85.32 L415.75,84.48 L416.00,82.90 L416.25,80.88 L416.50,77.22 L416.75,74.86 L417.00,73.54 L417.25,72.92 L417.50,71.67 L417.75,71.57 L418.00,71.83 L418.25,71.61 L418.50,71.89 L418.75,71.86 L419.00,72.99 L419.25,73.73 L419.50,74.56 L419.75,76.53 L420.00,78.44 L420.25,82.31 L420.50,85.62 L420.75,88.29 L421.00,90.39 L421.25,93.20 L421.50,96.26 L421.75,99.29 L422.00,101.75 L422.25,103.76 L422.50,107.01 L422.75,109.78 L423.00,113.78 L423.25,117.13 L423.50,121.93 L423.75,125.73 L424.00,129.63 L424.25,133.31 L424.50,138.42 L424.75,143.08 L425.00,147.85 L425.25,151.43 L425.50,156.06 L425.75,158.49 L426.00,162.34 L426.25,163.63 L426.50,165.18 L426.75,166.29 L427.00,168.17 L427.25,169.97 L427.50,171.50 L427.75,172.83 L428.00,174.69 L428.25,174.59 L428.50,174.95 L428.75,175.43 L429.00,178.18 L429.25,178.99 L429.50,180.80 L429.75,180.14 L430.00,181.62 L430.25,179.58 L430.50,181.04 L430.75,179.46 L431.00,179.86 L431.25,179.16 L431.50,179.01 L431.75,177.05 L432.00,173.17 L432.25,171.84 L432.50,170.50 L432.75,169.43 L433.00,166.45 L433.25,164.06 L433.50,159.64 L433.75,156.56 L434.00,154.07 L434.25,153.42 L434.50,150.98 L434.75,148.29 L435.00,146.59 L435.25,143.92 L435.50,142.97 L435.75,140.35 L436.00,138.83 L436.25,134.70 L436.50,132.47 L436.75,130.30 L437.00,128.06 L437.25,124.51 L437.50,120.65 L437.75,117.16 L438.00,113.34 L438.25,109.23 L438.50,104.49 L438.75,99.70 L439.00,94.69 L439.25,92.94 L439.50,90.46 L439.75,88.12 L440.00,84.68 L440.25,83.32 L440.50,83.51 L440.75,82.52 L441.00,81.92 L441.25,81.06 L441.50,81.24 L441.75,80.26 L442.00,80.11 L442.25,78.51 L442.50,78.38 L442.75,77.73 L443.00,77.29 L443.25,77.11 L443.50,78.19 L443.75,79.02 L444.00,79.46 L444.25,80.25 L444.50,82.81 L444.75,86.14 L445.00,86.78 L445.25,90.32 L445.50,92.81 L445.75,98.66 L446.00,101.26 L446.25,102.99 L446.50,105.14 L446.75,107.61 L447.00,112.12 L447.25,114.17 L447.50,117.84 L447.75,121.88 L448.00,126.23 L448.25,130.36 L448.50,133.01 L448.75,137.47 L449.00,141.10 L449.25,145.21 L449.50,149.37 L449.75,153.67 L450.00,155.88 L450.25,157.79 L450.50,158.68 L450.75,161.41 L451.00,164.38 L451.25,166.97 L451.50,167.05 L451.75,167.35 L452.00,167.69 L452.25,170.37 L452.50,170.74 L452.75,171.08 L453.00,170.54 L453.25,170.55 L453.50,170.91 L453.75,171.21 L454.00,171.12 L454.25,170.30 L454.50,169.72 L454.75,168.12 L455.00,167.66 L455.25,166.92 L455.50,168.02 L455.75,166.94 L456.00,167.22 L456.25,167.35 L456.50,168.20 L456.75,166.57 L457.00,165.75 L457.25,163.58 L457.50,163.08 L457.75,162.08 L458.00,161.55 L458.25,158.46 L458.50,155.84 L458.75,154.09 L459.00,152.28 L459.25,148.10 L459.50,143.76 L459.75,141.51 L460.00,139.39 L460.25,136.93 L460.50,132.94 L460.75,128.58 L461.00,125.82 L461.25,122.64 L461.50,121.15 L461.75,117.44 L462.00,115.64 L462.25,112.54 L462.50,109.21 L462.75,105.66 L463.00,101.01 L463.25,98.12 L463.50,94.36 L463.75,92.33 L464.00,89.94 L464.25,88.08 L464.50,85.90 L464.75,82.61 L465.00,82.97 L465.25,82.87 L465.50,84.24 L465.75,82.98 L466.00,81.69 L466.25,80.64 L466.50,78.32 L466.75,75.69 L467.00,74.35 L467.25,72.34 L467.50,71.88 L467.75,70.96 L468.00,71.37 L468.25,72.83 L468.50,74.62 L468.75,77.14 L469.00,81.74 L469.25,84.54 L469.50,88.98 L469.75,92.28 L470.00,96.30 L470.25,99.84 L470.50,102.04 L470.75,106.39 L471.00,109.74 L471.25,114.06 L471.50,115.33 L471.75,119.17 L472.00,121.25 L472.25,126.48 L472.50,128.36 L472.75,131.91 L473.00,133.09 L473.25,136.42 L473.50,140.38 L473.75,144.52 L474.00,146.11 L474.25,147.70 L474.50,150.41 L474.75,153.96 L475.00,158.00 L475.25,161.19 L475.50,165.65 L475.75,167.12 L476.00,167.82 L476.25,169.91 L476.50,172.53 L476.75,174.95 L477.00,174.47 L477.25,177.81 L477.50,179.81 L477.75,182.13 L478.00,182.75 L478.25,183.71 L478.50,185.05 L478.75,184.50 L479.00,186.10 L479.25,186.87 L479.50,188.37 L479.75,187.84 L480.00,187.96 L480.25,187.43 L480.50,188.09 L480.75,186.06 L481.00,183.70 L481.25,180.79 L481.50,180.68 L481.75,179.66 L482.00,176.78 L482.25,173.16 L482.50,170.51 L482.75,168.29 L483.00,165.04 L483.25,161.01 L483.50,158.22 L483.75,154.14 L484.00,150.42 L484.25,146.87 L484.50,145.87 L484.75,143.89 L485.00,141.07 L485.25,136.72 L485.50,133.71 L485.75,129.80 L486.00,126.84 L486.25,123.35 L486.50,121.95 L486.75,118.51 L487.00,114.40 L487.25,107.87 L487.50,102.33 L487.75,96.22 L488.00,92.32 L488.25,89.88 L488.50,86.14 L488.75,83.19 L489.00,80.22 L489.25,79.76 L489.50,79.13 L489.75,77.23 L490.00,75.99 L490.25,73.65 L490.50,73.46 L490.75,73.72 L491.00,75.01 L491.25,77.00 L491.50,78.90 L491.75,80.74 L492.00,82.32 L492.25,82.99 L492.50,84.02 L492.75,83.51 L493.00,84.19 L493.25,86.03 L493.50,87.50 L493.75,88.03 L494.00,89.94 L494.25,92.89 L494.50,96.71 L494.75,99.70 L495.00,103.35 L495.25,107.29 L495.50,110.69 L495.75,112.96 L496.00,115.23" stroke="#34e834" stroke-width="1.25" fill="none" stroke-linejoin="round"/>
<path d="M33.20,146.53 L35.40,164.12 L37.30,191.86 L39.50,196.59 L41.70,199.30 L43.70,175.62 L45.60,153.97 L47.60,124.20 L49.50,81.58 L52.00,75.49 L53.90,85.64 L55.90,95.78 L58.00,142.47 L60.00,162.09 L62.00,177.65 L64.10,190.50 L66.10,178.33 L68.00,175.62 L70.00,144.50 L72.00,120.82 L74.10,98.49 L76.10,91.72 L78.00,65.34 L80.20,101.87 L82.20,133.00 L84.10,154.65 L86.30,178.33 L88.40,178.33 L90.40,192.53 L92.30,179.68 L94.30,158.03 L96.50,128.26 L98.40,82.25 L100.40,80.90 L102.30,88.34 L104.30,80.90 M108.70,154.65 L110.90,177.65 L112.80,198.62 L114.80,192.53 L116.70,192.53 L118.90,155.32 L120.90,122.17 L122.80,99.17 L124.80,65.34 L127.00,76.84 L128.90,87.67 L131.10,109.99 L132.90,143.82 L135.10,159.38 L137.10,161.41 L139.30,174.94 L141.00,153.29 L143.20,132.32 L145.10,111.35 L147.10,85.64 L149.30,82.93 L151.20,82.93 L153.40,105.93 L155.40,127.58 L157.60,156.68 L159.50,174.27 L161.70,177.65 L163.70,174.94 L165.60,169.53 L167.60,151.26 L169.80,112.02 L171.70,89.69 L173.70,82.25 L175.80,82.93 L177.90,102.55 L179.90,128.94 L181.80,154.65 L183.80,181.03 L185.70,196.59 L187.90,195.92 L189.90,172.91 L191.80,138.41 L193.80,116.76 L195.70,99.17 L197.90,80.90 L199.90,75.49 L201.80,97.81 L204.00,134.35 L206.00,149.91 L207.90,181.71 L210.10,208.77 L212.10,210.80 L214.00,185.09 L216.20,155.32 L218.20,134.35 L220.40,97.81 L222.30,70.07 L224.50,82.25 L226.60,105.26 L228.50,143.82 L230.50,158.03 L232.40,203.36 L234.60,198.62 L236.60,194.56 L238.50,182.39 L240.50,138.41 L242.40,117.43 L244.60,94.43 L246.60,92.40 L248.50,87.67 L250.70,98.49 L252.70,114.05 L254.60,156.00 L256.80,170.88 L258.80,171.56 L261.00,190.50 L262.90,166.15 L264.90,156.00 L266.80,119.46 L268.80,105.93 L271.10,87.67 L273.00,76.16 L275.00,101.20 L277.00,131.64 L279.10,156.00 M287.20,196.59 L289.10,158.71 L291.10,130.29 L293.30,104.58 L295.20,80.90 L297.40,76.16 L299.40,97.14 L301.60,126.23 L303.50,147.88 L305.50,163.44 L307.70,181.71 L309.60,186.44 L311.80,164.79 L313.80,130.97 L315.90,123.52 L317.80,88.34 L320.00,59.93 L322.00,80.90 L323.90,90.37 L325.90,117.43 L328.00,145.17 L330.00,172.91 L332.00,174.94 L333.90,184.41 L336.10,168.85 L338.00,145.85 L340.00,123.52 L342.00,103.23 L344.10,81.58 L346.10,76.84 L348.00,99.84 L350.20,125.55 L352.20,153.97 L354.40,155.32 L356.30,190.50 L358.50,175.62 L360.90,169.53 L362.80,146.53 L364.80,118.11 L366.70,89.69 L368.90,86.99 L370.90,82.25 L372.80,74.81 M377.00,168.18 L378.90,169.53 L380.90,189.83 L382.80,190.50 L384.80,166.15 L386.70,145.17 L388.70,123.52 L390.90,91.05 L392.80,80.90 L394.80,80.90 L396.70,97.81 L398.90,115.40 L400.90,146.53 L402.80,172.91 L405.10,179.68 L407.30,190.50 L409.30,191.18 L411.20,133.67 L413.20,107.96 L415.40,87.67 L417.30,70.07 L419.30,69.40 L421.20,93.08 L423.40,118.11 L425.40,155.32 L427.30,170.88 L429.50,180.36 L431.50,180.36 L433.40,160.06 L435.60,141.79 L437.60,123.52 L439.50,85.64 L441.70,80.90 L443.70,74.13 L445.60,94.43 L447.80,122.17 L449.80,154.65 L451.80,168.18 L454.00,170.88 L455.90,166.82 L457.90,162.76 L459.80,142.47 L461.80,118.11 L464.00,86.99 L465.90,82.93 L467.90,66.01 L469.80,92.40 L472.00,122.85 L474.00,143.82 L475.90,169.53 L477.80,181.71 L480.00,189.83 L482.00,179.00 L483.90,151.26 L486.10,127.58 L488.10,89.69 L490.00,72.78 L491.90,80.90 L494.10,87.67 L496.10,119.46" stroke="#111" stroke-width="0.65" fill="none"/>
<circle cx="33.20" cy="146.53" r="0.9" fill="#000"/>
<circle cx="35.40" cy="164.12" r="0.9" fill="#000"/>
<circle cx="37.30" cy="191.86" r="0.9" fill="#000"/>
<circle cx="39.50" cy="196.59" r="0.9" fill="#000"/>
<circle cx="41.70" cy="199.30" r="0.9" fill="#000"/>
<circle cx="43.70" cy="175.62" r="0.9" fill="#000"/>
<circle cx="45.60" cy="153.97" r="0.9" fill="#000"/>
<circle cx="47.60" cy="124.20" r="0.9" fill="#000"/>
<circle cx="49.50" cy="81.58" r="0.9" fill="#000"/>
<circle cx="52.00" cy="75.49" r="0.9" fill="#000"/>
<circle cx="53.90" cy="85.64" r="0.9" fill="#000"/>
<circle cx="55.90" cy="95.78" r="0.9" fill="#000"/>
<circle cx="58.00" cy="142.47" r="0.9" fill="#000"/>
<circle cx="60.00" cy="162.09" r="0.9" fill="#000"/>
<circle cx="62.00" cy="177.65" r="0.9" fill="#000"/>
<circle cx="64.10" cy="190.50" r="0.9" fill="#000"/>
<circle cx="66.10" cy="178.33" r="0.9" fill="#000"/>
<circle cx="68.00" cy="175.62" r="0.9" fill="#000"/>
<circle cx="70.00" cy="144.50" r="0.9" fill="#000"/>
<circle cx="72.00" cy="120.82" r="0.9" fill="#000"/>
<circle cx="74.10" cy="98.49" r="0.9" fill="#000"/>
<circle cx="76.10" cy="91.72" r="0.9" fill="#000"/>
<circle cx="78.00" cy="65.34" r="0.9" fill="#000"/>
<circle cx="80.20" cy="101.87" r="0.9" fill="#000"/>
<circle cx="82.20" cy="133.00" r="0.9" fill="#000"/>
<circle cx="84.10" cy="154.65" r="0.9" fill="#000"/>
<circle cx="86.30" cy="178.33" r="0.9" fill="#000"/>
<circle cx="88.40" cy="178.33" r="0.9" fill="#000"/>
<circle cx="90.40" cy="192.53" r="0.9" fill="#000"/>
<circle cx="92.30" cy="179.68" r="0.9" fill="#000"/>
<circle cx="94.30" cy="158.03" r="0.9" fill="#000"/>
<circle cx="96.50" cy="128.26" r="0.9" fill="#000"/>
<circle cx="98.40" cy="82.25" r="0.9" fill="#000"/>
<circle cx="100.40" cy="80.90" r="0.9" fill="#000"/>
<circle cx="102.30" cy="88.34" r="0.9" fill="#000"/>
<circle cx="104.30" cy="80.90" r="0.9" fill="#000"/>
<circle cx="108.70" cy="154.65" r="0.9" fill="#000"/>
<circle cx="110.90" cy="177.65" r="0.9" fill="#000"/>
<circle cx="112.80" cy="198.62" r="0.9" fill="#000"/>
<circle cx="114.80" cy="192.53" r="0.9" fill="#000"/>
<circle cx="116.70" cy="192.53" r="0.9" fill="#000"/>
<circle cx="118.90" cy="155.32" r="0.9" fill="#000"/>
<circle cx="120.90" cy="122.17" r="0.9" fill="#000"/>
<circle cx="122.80" cy="99.17" r="0.9" fill="#000"/>
<circle cx="124.80" cy="65.34" r="0.9" fill="#000"/>
<circle cx="127.00" cy="76.84" r="0.9" fill="#000"/>
<circle cx="128.90" cy="87.67" r="0.9" fill="#000"/>
<circle cx="131.10" cy="109.99" r="0.9" fill="#000"/>
<circle cx="132.90" cy="143.82" r="0.9" fill="#000"/>
<circle cx="135.10" cy="159.38" r="0.9" fill="#000"/>
<circle cx="137.10" cy="161.41" r="0.9" fill="#000"/>
<circle cx="139.30" cy="174.94" r="0.9" fill="#000"/>
<circle cx="141.00" cy="153.29" r="0.9" fill="#000"/>
<circle cx="143.20" cy="132.32" r="0.9" fill="#000"/>
<circle cx="145.10" cy="111.35" r="0.9" fill="#000"/>
<circle cx="147.10" cy="85.64" r="0.9" fill="#000"/>
<circle cx="149.30" cy="82.93" r="0.9" fill="#000"/>
<circle cx="151.20" cy="82.93" r="0.9" fill="#000"/>
<circle cx="153.40" cy="105.93" r="0.9" fill="#000"/>
<circle cx="155.40" cy="127.58" r="0.9" fill="#000"/>
<circle cx="157.60" cy="156.68" r="0.9" fill="#000"/>
<circle cx="159.50" cy="174.27" r="0.9" fill="#000"/>
<circle cx="161.70" cy="177.65" r="0.9" fill="#000"/>
<circle cx="163.70" cy="174.94" r="0.9" fill="#000"/>
<circle cx="165.60" cy="169.53" r="0.9" fill="#000"/>
<circle cx="167.60" cy="151.26" r="0.9" fill="#000"/>
<circle cx="169.80" cy="112.02" r="0.9" fill="#000"/>
<circle cx="171.70" cy="89.69" r="0.9" fill="#000"/>
<circle cx="173.70" cy="82.25" r="0.9" fill="#000"/>
<circle cx="175.80" cy="82.93" r="0.9" fill="#000"/>
<circle cx="177.90" cy="102.55" r="0.9" fill="#000"/>
<circle cx="179.90" cy="128.94" r="0.9" fill="#000"/>
<circle cx="181.80" cy="154.65" r="0.9" fill="#000"/>
<circle cx="183.80" cy="181.03" r="0.9" fill="#000"/>
<circle cx="185.70" cy="196.59" r="0.9" fill="#000"/>
<circle cx="187.90" cy="195.92" r="0.9" fill="#000"/>
<circle cx="189.90" cy="172.91" r="0.9" fill="#000"/>
<circle cx="191.80" cy="138.41" r="0.9" fill="#000"/>
<circle cx="193.80" cy="116.76" r="0.9" fill="#000"/>
<circle cx="195.70" cy="99.17" r="0.9" fill="#000"/>
<circle cx="197.90" cy="80.90" r="0.9" fill="#000"/>
<circle cx="199.90" cy="75.49" r="0.9" fill="#000"/>
<circle cx="201.80" cy="97.81" r="0.9" fill="#000"/>
<circle cx="204.00" cy="134.35" r="0.9" fill="#000"/>
<circle cx="206.00" cy="149.91" r="0.9" fill="#000"/>
<circle cx="207.90" cy="181.71" r="0.9" fill="#000"/>
<circle cx="210.10" cy="208.77" r="0.9" fill="#000"/>
<circle cx="212.10" cy="210.80" r="0.9" fill="#000"/>
<circle cx="214.00" cy="185.09" r="0.9" fill="#000"/>
<circle cx="216.20" cy="155.32" r="0.9" fill="#000"/>
<circle cx="218.20" cy="134.35" r="0.9" fill="#000"/>
<circle cx="220.40" cy="97.81" r="0.9" fill="#000"/>
<circle cx="222.30" cy="70.07" r="0.9" fill="#000"/>
<circle cx="224.50" cy="82.25" r="0.9" fill="#000"/>
<circle cx="226.60" cy="105.26" r="0.9" fill="#000"/>
<circle cx="228.50" cy="143.82" r="0.9" fill="#000"/>
<circle cx="230.50" cy="158.03" r="0.9" fill="#000"/>
<circle cx="232.40" cy="203.36" r="0.9" fill="#000"/>
<circle cx="234.60" cy="198.62" r="0.9" fill="#000"/>
<circle cx="236.60" cy="194.56" r="0.9" fill="#000"/>
<circle cx="238.50" cy="182.39" r="0.9" fill="#000"/>
<circle cx="240.50" cy="138.41" r="0.9" fill="#000"/>
<circle cx="242.40" cy="117.43" r="0.9" fill="#000"/>
<circle cx="244.60" cy="94.43" r="0.9" fill="#000"/>
<circle cx="246.60" cy="92.40" r="0.9" fill="#000"/>
<circle cx="248.50" cy="87.67" r="0.9" fill="#000"/>
<circle cx="250.70" cy="98.49" r="0.9" fill="#000"/>
<circle cx="252.70" cy="114.05" r="0.9" fill="#000"/>
<circle cx="254.60" cy="156.00" r="0.9" fill="#000"/>
<circle cx="256.80" cy="170.88" r="0.9" fill="#000"/>
<circle cx="258.80" cy="171.56" r="0.9" fill="#000"/>
<circle cx="261.00" cy="190.50" r="0.9" fill="#000"/>
<circle cx="262.90" cy="166.15" r="0.9" fill="#000"/>
<circle cx="264.90" cy="156.00" r="0.9" fill="#000"/>
<circle cx="266.80" cy="119.46" r="0.9" fill="#000"/>
<circle cx="268.80" cy="105.93" r="0.9" fill="#000"/>
<circle cx="271.10" cy="87.67" r="0.9" fill="#000"/>
<circle cx="273.00" cy="76.16" r="0.9" fill="#000"/>
<circle cx="275.00" cy="101.20" r="0.9" fill="#000"/>
<circle cx="277.00" cy="131.64" r="0.9" fill="#000"/>
<circle cx="279.10" cy="156.00" r="0.9" fill="#000"/>
<circle cx="287.20" cy="196.59" r="0.9" fill="#000"/>
<circle cx="289.10" cy="158.71" r="0.9" fill="#000"/>
<circle cx="291.10" cy="130.29" r="0.9" fill="#000"/>
<circle cx="293.30" cy="104.58" r="0.9" fill="#000"/>
<circle cx="295.20" cy="80.90" r="0.9" fill="#000"/>
<circle cx="297.40" cy="76.16" r="0.9" fill="#000"/>
<circle cx="299.40" cy="97.14" r="0.9" fill="#000"/>
<circle cx="301.60" cy="126.23" r="0.9" fill="#000"/>
<circle cx="303.50" cy="147.88" r="0.9" fill="#000"/>
<circle cx="305.50" cy="163.44" r="0.9" fill="#000"/>
<circle cx="307.70" cy="181.71" r="0.9" fill="#000"/>
<circle cx="309.60" cy="186.44" r="0.9" fill="#000"/>
<circle cx="311.80" cy="164.79" r="0.9" fill="#000"/>
<circle cx="313.80" cy="130.97" r="0.9" fill="#000"/>
<circle cx="315.90" cy="123.52" r="0.9" fill="#000"/>
<circle cx="317.80" cy="88.34" r="0.9" fill="#000"/>
<circle cx="320.00" cy="59.93" r="0.9" fill="#000"/>
<circle cx="322.00" cy="80.90" r="0.9" fill="#000"/>
<circle cx="323.90" cy="90.37" r="0.9" fill="#000"/>
<circle cx="325.90" cy="117.43" r="0.9" fill="#000"/>
<circle cx="328.00" cy="145.17" r="0.9" fill="#000"/>
<circle cx="330.00" cy="172.91" r="0.9" fill="#000"/>
<circle cx="332.00" cy="174.94" r="0.9" fill="#000"/>
<circle cx="333.90" cy="184.41" r="0.9" fill="#000"/>
<circle cx="336.10" cy="168.85" r="0.9" fill="#000"/>
<circle cx="338.00" cy="145.85" r="0.9" fill="#000"/>
<circle cx="340.00" cy="123.52" r="0.9" fill="#000"/>
<circle cx="342.00" cy="103.23" r="0.9" fill="#000"/>
<circle cx="344.10" cy="81.58" r="0.9" fill="#000"/>
<circle cx="346.10" cy="76.84" r="0.9" fill="#000"/>
<circle cx="348.00" cy="99.84" r="0.9" fill="#000"/>
<circle cx="350.20" cy="125.55" r="0.9" fill="#000"/>
<circle cx="352.20" cy="153.97" r="0.9" fill="#000"/>
<circle cx="354.40" cy="155.32" r="0.9" fill="#000"/>
<circle cx="356.30" cy="190.50" r="0.9" fill="#000"/>
<circle cx="358.50" cy="175.62" r="0.9" fill="#000"/>
<circle cx="360.90" cy="169.53" r="0.9" fill="#000"/>
<circle cx="362.80" cy="146.53" r="0.9" fill="#000"/>
<circle cx="364.80" cy="118.11" r="0.9" fill="#000"/>
<circle cx="366.70" cy="89.69" r="0.9" fill="#000"/>
<circle cx="368.90" cy="86.99" r="0.9" fill="#000"/>
<circle cx="370.90" cy="82.25" r="0.9" fill="#000"/>
<circle cx="372.80" cy="74.81" r="0.9" fill="#000"/>
<circle cx="377.00" cy="168.18" r="0.9" fill="#000"/>
<circle cx="378.90" cy="169.53" r="0.9" fill="#000"/>
<circle cx="380.90" cy="189.83" r="0.9" fill="#000"/>
<circle cx="382.80" cy="190.50" r="0.9" fill="#000"/>
<circle cx="384.80" cy="166.15" r="0.9" fill="#000"/>
<circle cx="386.70" cy="145.17" r="0.9" fill="#000"/>
<circle cx="388.70" cy="123.52" r="0.9" fill="#000"/>
<circle cx="390.90" cy="91.05" r="0.9" fill="#000"/>
<circle cx="392.80" cy="80.90" r="0.9" fill="#000"/>
<circle cx="394.80" cy="80.90" r="0.9" fill="#000"/>
<circle cx="396.70" cy="97.81" r="0.9" fill="#000"/>
<circle cx="398.90" cy="115.40" r="0.9" fill="#000"/>
<circle cx="400.90" cy="146.53" r="0.9" fill="#000"/>
<circle cx="402.80" cy="172.91" r="0.9" fill="#000"/>
<circle cx="405.10" cy="179.68" r="0.9" fill="#000"/>
<circle cx="407.30" cy="190.50" r="0.9" fill="#000"/>
<circle cx="409.30" cy="191.18" r="0.9" fill="#000"/>
<circle cx="411.20" cy="133.67" r="0.9" fill="#000"/>
<circle cx="413.20" cy="107.96" r="0.9" fill="#000"/>
<circle cx="415.40" cy="87.67" r="0.9" fill="#000"/>
<circle cx="417.30" cy="70.07" r="0.9" fill="#000"/>
<circle cx="419.30" cy="69.40" r="0.9" fill="#000"/>
<circle cx="421.20" cy="93.08" r="0.9" fill="#000"/>
<circle cx="423.40" cy="118.11" r="0.9" fill="#000"/>
<circle cx="425.40" cy="155.32" r="0.9" fill="#000"/>
<circle cx="427.30" cy="170.88" r="0.9" fill="#000"/>
<circle cx="429.50" cy="180.36" r="0.9" fill="#000"/>
<circle cx="431.50" cy="180.36" r="0.9" fill="#000"/>
<circle cx="433.40" cy="160.06" r="0.9" fill="#000"/>
<circle cx="435.60" cy="141.79" r="0.9" fill="#000"/>
<circle cx="437.60" cy="123.52" r="0.9" fill="#000"/>
<circle cx="439.50" cy="85.64" r="0.9" fill="#000"/>
<circle cx="441.70" cy="80.90" r="0.9" fill="#000"/>
<circle cx="443.70" cy="74.13" r="0.9" fill="#000"/>
<circle cx="445.60" cy="94.43" r="0.9" fill="#000"/>
<circle cx="447.80" cy="122.17" r="0.9" fill="#000"/>
<circle cx="449.80" cy="154.65" r="0.9" fill="#000"/>
<circle cx="451.80" cy="168.18" r="0.9" fill="#000"/>
<circle cx="454.00" cy="170.88" r="0.9" fill="#000"/>
<circle cx="455.90" cy="166.82" r="0.9" fill="#000"/>
<circle cx="457.90" cy="162.76" r="0.9" fill="#000"/>
<circle cx="459.80" cy="142.47" r="0.9" fill="#000"/>
<circle cx="461.80" cy="118.11" r="0.9" fill="#000"/>
<circle cx="464.00" cy="86.99" r="0.9" fill="#000"/>
<circle cx="465.90" cy="82.93" r="0.9" fill="#000"/>
<circle cx="467.90" cy="66.01" r="0.9" fill="#000"/>
<circle cx="469.80" cy="92.40" r="0.9" fill="#000"/>
<circle cx="472.00" cy="122.85" r="0.9" fill="#000"/>
<circle cx="474.00" cy="143.82" r="0.9" fill="#000"/>
<circle cx="475.90" cy="169.53" r="0.9" fill="#000"/>
<circle cx="477.80" cy="181.71" r="0.9" fill="#000"/>
<circle cx="480.00" cy="189.83" r="0.9" fill="#000"/>
<circle cx="482.00" cy="179.00" r="0.9" fill="#000"/>
<circle cx="483.90" cy="151.26" r="0.9" fill="#000"/>
<circle cx="486.10" cy="127.58" r="0.9" fill="#000"/>
<circle cx="488.10" cy="89.69" r="0.9" fill="#000"/>
<circle cx="490.00" cy="72.78" r="0.9" fill="#000"/>
<circle cx="491.90" cy="80.90" r="0.9" fill="#000"/>
<circle cx="494.10" cy="87.67" r="0.9" fill="#000"/>
<circle cx="496.10" cy="119.46" r="0.9" fill="#000"/>
<path d="M33.60,403.12 34.10,403.12 34.60,407.50 35.10,418.43 35.60,419.19 36.10,419.80 36.60,420.30 37.10,424.71 37.60,428.34 38.10,430.90 38.60,431.26 39.10,431.63 39.60,431.66 40.10,430.36 40.60,428.25 41.10,425.94 41.60,423.63 42.10,418.97 42.60,415.99 43.10,416.40 43.60,416.81 44.10,415.88 44.60,412.93 45.10,404.56 45.60,396.19 46.10,387.82 46.60,382.82 47.10,382.10 47.60,384.27 48.10,386.44 48.60,378.02 49.10,369.06 49.60,368.45 50.10,367.84 50.60,362.80 51.10,351.13 51.60,339.45 52.10,332.45 52.60,332.45 53.10,353.68 53.60,366.42 54.10,366.42 54.60,366.42 55.10,362.92 55.60,357.98 56.10,352.06 56.60,349.99 57.10,356.25 57.60,385.60 58.10,397.07 58.60,404.28 59.10,412.40 59.60,414.58 60.10,415.41 60.60,416.42 61.10,418.69 61.60,420.65 62.10,421.66 62.60,422.67 63.10,423.69 63.60,424.70 64.10,418.94 64.60,413.18 65.10,408.26 65.60,406.66 66.10,405.53 66.60,404.26 67.10,401.26 67.60,398.25 68.10,395.65 68.60,394.65 69.10,394.23 69.60,390.75 70.10,387.83 70.60,386.53 71.10,385.22 71.60,380.89 72.10,364.44 72.60,361.15 73.10,361.15 73.60,361.15 74.10,357.51 74.60,355.85 75.10,357.15 75.60,358.46 76.10,359.77 76.60,361.07 77.10,347.90 77.60,342.62 78.10,342.62 78.60,342.62 79.10,347.57 79.60,354.81 80.10,357.97 80.60,360.36 81.10,364.52 81.60,376.57 82.10,382.14 82.60,386.54 83.10,391.63 83.60,396.71 84.10,401.14 84.60,404.57 85.10,411.83 85.60,416.92 86.10,420.57 86.60,419.48 87.10,420.58 87.60,422.54 88.10,422.14 88.60,425.21 89.10,428.27 89.60,427.87 90.10,427.47 90.60,427.96 91.10,429.78 91.60,430.15 92.10,420.02 92.60,394.70 93.10,389.83 93.60,384.97 94.10,380.10 94.60,378.05 95.10,373.24 95.60,366.60 96.10,359.96 96.60,353.31 97.10,346.12 97.60,336.71 98.10,334.42 98.60,333.92 99.10,333.41 99.60,339.00 100.10,342.89 100.60,341.92 101.10,340.27 101.60,340.42 102.10,343.52 102.60,343.78 103.10,344.04 103.60,344.29 104.10,345.90 104.60,351.72 105.10,359.20 105.60,362.18 106.10,365.16 106.60,368.14 107.10,371.11 107.60,374.09 108.10,377.99 108.60,385.54 109.10,390.14 109.60,393.99 110.10,398.51 110.60,406.54 111.10,414.56 111.60,421.46 112.10,426.24 112.60,428.74 113.10,430.45 113.60,431.31 114.10,428.52 114.60,426.52 115.10,425.72 115.60,423.84 116.10,417.65 116.60,411.46 117.10,400.83 117.60,396.57 118.10,396.57 118.60,396.57 119.10,383.26 119.60,365.10 120.10,363.12 120.60,361.14 121.10,355.78 121.60,345.34 122.10,341.79 122.60,340.55 123.10,340.19 123.60,331.95 124.10,327.36 124.60,328.25 125.10,328.25 125.60,334.21 126.10,344.15 126.60,346.11 127.10,348.06 127.60,348.84 128.10,344.93 128.60,345.29 129.10,346.94 129.60,349.56 130.10,361.04 130.60,369.43 131.10,369.84 131.60,375.14 132.10,383.12 132.60,393.30 133.10,394.29 133.60,395.28 134.10,396.27 134.60,398.25 135.10,401.99 135.60,406.36 136.10,408.60 136.60,412.11 137.10,415.86 137.60,417.10 138.10,420.09 138.60,421.67 139.10,415.92 139.60,414.37 140.10,413.87 140.60,413.37 141.10,401.84 141.60,392.91 142.10,391.99 142.60,389.40 143.10,377.73 143.60,359.99 144.10,357.80 144.60,355.62 145.10,351.95 145.60,342.34 146.10,338.32 146.60,338.02 147.10,337.73 147.60,339.08 148.10,340.60 148.60,341.13 149.10,341.65 149.60,342.30 150.10,344.87 150.60,353.15 151.10,355.36 151.60,358.64 152.10,366.21 152.60,368.99 153.10,370.57 153.60,372.15 154.10,373.73 154.60,380.00 155.10,393.30 155.60,395.53 156.10,397.77 156.60,400.00 157.10,404.32 157.60,407.46 158.10,409.35 158.60,409.35 159.10,417.38 159.60,417.38 160.10,417.38 160.60,417.15 161.10,413.12 161.60,413.88 162.10,414.62 162.60,415.38 163.10,416.12 163.60,416.88 164.10,417.02 164.60,416.27 165.10,410.79 165.60,405.30 166.10,399.81 166.60,388.84 167.10,379.97 167.60,373.03 168.10,368.13 168.60,363.24 169.10,356.93 169.60,344.95 170.10,341.35 170.60,339.86 171.10,338.37 171.60,336.87 172.10,334.86 172.60,332.08 173.10,331.72 173.60,331.36 174.10,331.00 174.60,330.64 175.10,338.70 175.60,349.91 176.10,351.37 176.60,352.81 177.10,356.32 177.60,368.05 178.10,373.36 178.60,376.93 179.10,379.96 179.60,387.48 180.10,393.60 180.60,395.93 181.10,399.69 181.60,403.15 182.10,405.64 182.60,413.65 183.10,418.00 183.60,419.91 184.10,425.52 184.60,428.31 185.10,429.22 185.60,430.13 186.10,423.46 186.60,414.17 187.10,414.67 187.60,415.17 188.10,414.18 188.60,407.23 189.10,400.28 189.60,393.57 190.10,385.61 190.60,378.58 191.10,377.01 191.60,375.23 192.10,372.62 192.60,370.81 193.10,369.21 193.60,367.60 194.10,359.93 194.60,353.81 195.10,350.02 195.60,347.28 196.10,344.55 196.60,341.81 197.10,343.12 197.60,342.83 198.10,341.49 198.60,340.14 199.10,333.49 199.60,325.35 200.10,325.35 200.60,325.35 201.10,329.42 201.60,349.78 202.10,357.60 202.60,362.29 203.10,366.98 203.60,383.87 204.10,394.58 204.60,396.02 205.10,397.46 205.60,398.15 206.10,398.35 206.60,407.63 207.10,412.93 207.60,416.90 208.10,426.20 208.60,429.65 209.10,432.22 209.60,437.07 210.10,442.12 210.60,444.98 211.10,444.48 211.60,443.98 212.10,435.27 212.60,414.25 213.10,395.98 213.60,383.93 214.10,381.23 214.60,377.58 215.10,375.62 215.60,375.42 216.10,377.81 216.60,377.22 217.10,374.62 217.60,371.85 218.10,369.12 218.60,366.37 219.10,363.48 219.60,358.15 220.10,352.22 220.60,346.29 221.10,329.07 221.60,328.19 222.10,328.34 222.60,342.96 223.10,349.19 223.60,349.84 224.10,350.49 224.60,351.13 225.10,353.06 225.60,360.09 226.10,364.41 226.60,366.92 227.10,369.43 227.60,371.94 228.10,374.45 228.60,376.96 229.10,380.41 229.60,387.60 230.10,394.37 230.60,399.45 231.10,404.53 231.60,409.99 232.10,416.97 232.60,422.35 233.10,425.66 233.60,427.23 234.10,424.73 234.60,423.67 235.10,424.75 235.60,425.84 236.10,422.27 236.60,416.35 237.10,406.87 237.60,399.70 238.10,392.90 238.60,384.87 239.10,377.40 239.60,371.36 240.10,369.53 240.60,367.10 241.10,364.52 241.60,361.94 242.10,358.77 242.60,353.35 243.10,349.01 243.60,347.49 244.10,345.96 244.60,344.44 245.10,335.35 245.60,335.19 246.10,335.12 246.10,374.38 245.60,374.56 245.10,375.05 244.60,378.92 244.10,380.27 243.60,381.62 243.10,382.96 242.60,385.25 242.10,390.30 241.60,395.82 241.10,399.56 240.60,403.30 240.10,406.99 239.60,410.48 239.10,414.17 238.60,419.05 238.10,425.61 237.60,431.77 237.10,442.60 236.60,461.05 236.10,460.81 235.60,459.79 235.10,457.21 234.60,454.64 234.10,458.51 233.60,466.67 233.10,466.15 232.60,465.05 232.10,462.42 231.60,455.90 231.10,448.05 230.60,439.87 230.10,431.69 229.60,425.35 229.10,419.48 228.60,414.85 228.10,410.54 227.60,406.23 227.10,401.91 226.60,397.60 226.10,393.29 225.60,388.06 225.10,381.47 224.60,379.65 224.10,379.03 223.60,378.41 223.10,377.78 222.60,375.30 222.10,370.02 221.60,369.56 221.10,372.20 220.60,381.55 220.10,384.82 219.60,388.09 219.10,391.15 218.60,393.40 218.10,395.61 217.60,397.84 217.10,400.19 216.60,402.04 216.10,403.12 215.60,403.20 215.10,404.14 214.60,408.66 214.10,418.21 213.60,424.96 213.10,434.82 212.60,446.75 212.10,466.95 211.60,475.12 211.10,475.29 210.60,475.46 210.10,474.11 209.60,471.89 209.10,470.27 208.60,469.42 208.10,464.37 207.60,441.80 207.10,435.18 206.60,431.68 206.10,426.85 205.60,425.58 205.10,422.81 204.60,417.81 204.10,412.80 203.60,400.12 203.10,382.32 202.60,380.76 202.10,379.20 201.60,376.59 201.10,369.81 200.60,368.45 200.10,368.45 199.60,368.45 199.10,371.16 198.60,373.64 198.10,374.75 197.60,375.86 197.10,376.61 196.60,376.83 196.10,378.40 195.60,379.97 195.10,381.54 194.60,386.28 194.10,391.04 193.60,395.81 193.10,398.55 192.60,401.30 192.10,405.06 191.60,412.89 191.10,416.14 190.60,418.25 190.10,421.87 189.60,424.52 189.10,427.51 188.60,431.69 188.10,435.88 187.60,438.08 187.10,439.78 186.60,441.48 186.10,453.30 185.60,461.78 185.10,461.47 184.60,461.17 184.10,455.23 183.60,440.84 183.10,437.55 182.60,433.45 182.10,428.13 181.60,424.64 181.10,418.26 180.60,411.00 180.10,408.01 179.60,403.76 179.10,399.04 178.60,395.82 178.10,390.99 177.60,386.02 177.10,382.11 176.60,380.94 176.10,380.45 175.60,379.97 175.10,376.23 174.60,373.55 174.10,373.67 173.60,373.79 173.10,373.91 172.60,374.02 172.10,373.95 171.60,374.62 171.10,375.79 170.60,376.95 170.10,378.12 169.60,381.24 169.10,392.19 168.60,398.33 168.10,403.28 167.60,408.23 167.10,413.87 166.60,424.66 166.10,442.94 165.60,444.77 165.10,446.60 164.60,448.43 164.10,446.53 163.60,445.02 163.10,443.77 162.60,442.52 162.10,441.27 161.60,440.02 161.10,438.77 160.60,453.94 160.10,457.53 159.60,457.53 159.10,457.53 158.60,433.45 158.10,433.45 157.60,432.82 157.10,429.55 156.60,422.53 156.10,421.79 155.60,421.04 155.10,420.30 154.60,407.53 154.10,400.78 153.60,398.04 153.10,395.30 152.60,392.57 152.10,389.18 151.60,383.17 151.10,380.85 150.60,379.45 150.10,375.96 149.60,374.27 149.10,374.52 148.60,375.14 148.10,375.75 147.60,376.04 147.10,376.38 146.60,377.27 146.10,378.16 145.60,381.43 145.10,388.26 144.60,391.55 144.10,393.96 143.60,396.36 143.10,403.95 142.60,409.52 142.10,412.06 141.60,409.61 141.10,413.07 140.60,419.56 140.10,422.38 139.60,425.20 139.10,431.17 138.60,449.76 138.10,452.56 137.60,451.57 137.10,451.15 136.60,443.24 136.10,436.00 135.60,432.61 135.10,428.50 134.60,424.60 134.10,421.29 133.60,420.96 133.10,420.63 132.60,420.30 132.10,416.91 131.60,403.82 131.10,387.93 130.60,386.68 130.10,382.78 129.60,377.85 129.10,375.87 128.60,376.76 128.10,378.31 127.60,379.61 127.10,379.35 126.60,378.70 126.10,378.05 125.60,374.74 125.10,372.75 124.60,372.75 124.10,370.07 123.60,371.24 123.10,374.96 122.60,376.06 122.10,379.78 121.60,385.29 121.10,390.98 120.60,394.98 120.10,397.85 119.60,400.73 119.10,414.46 118.60,424.32 118.10,424.32 117.60,424.32 117.10,431.02 116.60,447.75 116.10,451.15 115.60,454.55 115.10,456.50 114.60,458.11 114.10,463.31 113.60,470.90 113.10,467.50 112.60,463.81 112.10,458.33 111.60,445.97 111.10,440.08 110.60,435.62 110.10,431.54 109.60,430.23 109.10,428.98 108.60,425.50 108.10,413.27 107.60,408.34 107.10,405.24 106.60,402.14 106.10,399.04 105.60,395.94 105.10,392.84 104.60,388.24 104.10,383.59 103.60,379.43 103.10,379.35 102.60,379.26 102.10,379.18 101.60,378.14 101.10,378.09 100.60,378.18 100.10,376.21 99.60,374.53 99.10,373.54 98.60,374.59 98.10,375.64 97.60,378.35 97.10,387.73 96.60,393.32 96.10,397.98 95.60,402.63 95.10,407.28 94.60,411.74 94.10,415.90 93.60,420.77 93.10,425.63 92.60,430.50 92.10,456.32 91.60,466.65 91.10,465.55 90.60,460.07 90.10,457.96 89.60,458.09 89.10,458.22 88.60,447.97 88.10,437.71 87.60,437.85 87.10,437.19 86.60,440.71 86.10,450.79 85.60,446.66 85.10,442.05 84.60,436.73 84.10,433.48 83.60,427.28 83.10,419.09 82.60,410.91 82.10,404.76 81.60,399.93 81.10,394.93 80.60,392.57 80.10,390.28 79.60,385.65 79.10,382.52 78.60,380.88 78.10,380.88 77.60,380.88 77.10,382.12 76.60,385.23 76.10,385.90 75.60,386.57 75.10,387.24 74.60,387.91 74.10,392.55 73.60,399.85 73.10,399.85 72.60,399.85 72.10,403.03 71.60,418.94 71.10,421.63 70.60,421.02 70.10,420.39 69.60,420.25 69.10,420.70 68.60,421.72 68.10,426.91 67.60,430.52 67.10,433.73 66.60,436.95 66.10,439.58 65.60,442.99 65.10,447.77 64.60,450.26 64.10,452.18 63.60,454.10 63.10,453.76 62.60,453.42 62.10,453.09 61.60,452.75 61.10,449.58 60.60,445.47 60.10,445.14 59.60,444.86 59.10,442.32 58.60,430.57 58.10,421.52 57.60,410.78 57.10,390.57 56.60,385.37 56.10,384.77 55.60,385.45 55.10,383.21 54.60,383.48 54.10,383.48 53.60,383.48 53.10,379.23 52.60,372.15 52.10,372.15 51.60,374.49 51.10,378.38 50.60,382.27 50.10,384.93 49.60,386.76 49.10,388.59 48.60,394.77 48.10,401.04 47.60,403.10 47.10,405.16 46.60,409.85 46.10,418.48 45.60,421.91 45.10,425.34 44.60,428.77 44.10,438.09 43.60,441.35 43.10,440.57 42.60,439.79 42.10,446.38 41.60,456.13 41.10,458.83 40.60,461.54 40.10,464.48 39.60,468.39 39.10,468.30 38.60,467.19 38.10,466.10 37.60,458.42 37.10,451.70 36.60,448.90 36.10,447.40 35.60,445.58 35.10,443.27 34.60,439.63 34.10,438.18 33.60,438.18Z M251.20,346.52 251.70,350.71 252.20,354.98 252.70,362.25 253.20,388.07 253.70,390.19 254.20,392.09 254.70,393.06 255.20,404.26 255.70,412.50 256.20,412.46 256.70,412.43 257.20,412.73 257.70,413.54 258.20,413.84 258.70,414.13 259.20,414.43 259.70,430.34 260.20,436.70 260.70,436.70 261.20,429.95 261.70,422.82 262.20,419.69 262.70,406.52 263.20,401.00 263.70,397.39 264.20,393.77 264.70,389.62 265.20,380.67 265.70,364.71 266.20,360.19 266.70,358.52 267.20,356.86 267.70,355.20 268.20,353.38 268.70,351.32 269.20,350.50 269.70,349.74 270.20,349.07 270.70,347.96 271.20,346.84 271.70,342.15 272.20,332.08 272.70,332.08 273.20,332.08 273.70,334.00 274.20,343.61 274.70,351.68 275.20,358.12 275.70,362.10 276.20,372.66 276.70,382.68 277.20,383.93 277.70,385.43 278.20,392.94 278.70,409.34 279.20,412.62 279.70,412.62 279.70,437.47 279.20,437.47 278.70,436.38 278.20,430.91 277.70,425.90 277.20,421.38 276.70,417.65 276.20,410.99 275.70,404.15 275.20,399.50 274.70,387.47 274.20,377.87 273.70,374.67 273.20,374.02 272.70,374.02 272.20,374.02 271.70,377.10 271.20,378.99 270.70,380.11 270.20,381.23 269.70,378.92 269.20,379.49 268.70,381.98 268.20,386.14 267.70,389.59 267.20,392.58 266.70,395.57 266.20,398.56 265.70,402.50 265.20,410.25 264.70,416.29 264.20,420.79 263.70,423.68 263.20,426.56 262.70,430.08 262.20,436.14 261.70,438.87 261.20,460.25 260.70,480.50 260.20,480.50 259.70,468.09 259.20,437.07 258.70,436.98 258.20,436.88 257.70,436.78 257.20,435.13 256.70,435.00 256.20,435.89 255.70,436.78 255.20,434.92 254.70,431.89 254.20,431.56 253.70,428.48 253.20,424.70 252.70,413.02 252.20,407.52 251.70,394.72 251.20,382.18Z M286.40,427.60 286.90,425.16 287.40,422.73 287.90,420.29 288.40,409.06 288.90,384.66 289.40,379.57 289.90,379.31 290.40,379.05 290.90,371.07 291.40,364.85 291.90,361.29 292.40,357.73 292.90,354.16 293.40,350.60 293.90,343.90 294.40,341.07 294.90,340.82 295.40,340.56 295.90,340.30 296.40,340.26 296.90,341.06 297.40,342.82 297.90,344.81 298.40,346.81 298.90,353.73 299.40,362.83 299.90,373.34 300.40,374.38 300.90,375.41 301.40,376.45 301.90,395.50 302.40,403.72 302.90,404.72 303.40,405.71 303.90,406.70 304.40,408.34 304.90,412.51 305.40,413.35 305.90,413.35 306.40,413.35 306.90,418.98 307.40,422.11 307.90,419.39 308.40,418.85 308.90,414.29 309.40,405.25 309.90,398.37 310.40,391.21 310.90,388.19 311.40,385.99 311.90,379.52 312.40,374.60 312.90,373.61 313.40,372.61 313.90,370.80 314.40,368.45 314.90,363.91 315.40,360.00 315.90,356.51 316.40,353.03 316.90,349.14 317.40,345.77 317.90,345.52 318.40,345.27 318.90,344.29 319.40,340.36 319.90,339.58 320.40,339.58 320.90,339.58 321.40,346.77 321.90,352.17 322.40,352.17 322.90,352.17 323.40,352.17 323.90,352.17 324.40,366.16 324.90,373.94 325.40,377.60 325.90,381.25 326.40,384.90 326.90,390.48 327.40,403.77 327.90,409.26 328.40,412.81 328.90,416.36 329.40,417.05 329.90,417.45 330.40,418.52 330.90,422.96 331.40,425.14 331.90,423.94 332.40,422.74 332.90,419.57 333.40,415.09 333.90,413.23 334.40,409.94 334.90,405.82 335.40,402.23 335.90,397.46 336.40,392.64 336.90,388.77 337.40,379.99 337.90,373.01 338.40,370.55 338.90,368.10 339.40,364.85 339.90,360.42 340.40,358.10 340.90,349.01 341.40,329.77 341.90,329.28 342.40,328.78 342.90,329.11 343.40,332.69 343.90,334.57 344.40,335.47 344.90,336.96 345.40,338.45 345.90,341.20 346.40,348.95 346.90,351.73 347.40,353.26 347.90,354.79 348.40,358.44 348.90,361.27 349.40,363.66 349.90,372.86 350.40,381.29 350.90,388.40 351.40,395.50 351.90,398.38 352.40,399.54 352.90,399.70 353.40,399.86 353.90,400.02 354.40,400.17 354.90,420.53 355.40,428.23 355.90,427.49 356.40,426.75 356.90,425.13 357.40,419.96 357.90,417.96 358.40,416.76 358.90,413.98 359.40,404.89 359.90,394.52 360.40,388.15 360.90,388.27 361.40,388.40 361.90,388.52 362.40,388.65 362.90,379.45 363.40,370.98 363.90,363.00 364.40,363.00 364.90,363.00 365.40,360.15 365.90,348.89 366.40,349.10 366.90,349.20 367.40,350.10 367.90,350.99 368.40,352.69 368.90,355.62 369.40,356.37 369.90,356.57 370.40,356.77 370.90,357.23 371.40,365.64 371.90,386.00 372.40,388.18 372.90,390.35 373.40,392.52 373.90,396.69 374.40,400.03 374.90,402.82 375.40,405.61 375.90,408.40 376.40,411.19 376.90,413.99 377.40,416.13 377.90,418.97 378.40,423.10 378.90,423.11 379.40,425.61 379.90,425.47 380.40,424.45 380.90,422.91 381.40,420.58 381.90,418.64 382.40,416.70 382.90,412.59 383.40,399.81 383.90,392.24 384.40,388.13 384.90,384.02 385.40,379.92 385.90,375.72 386.40,371.18 386.90,365.06 387.40,360.64 387.90,359.38 388.40,358.11 388.90,356.84 389.40,355.58 389.90,351.33 390.40,348.67 390.90,349.55 391.40,350.42 391.90,350.40 392.40,350.25 392.90,350.25 393.40,350.25 393.90,350.64 394.40,351.30 394.90,357.94 395.40,363.75 395.90,368.26 396.40,369.78 396.90,371.89 397.40,375.14 397.90,381.38 398.40,391.86 398.90,401.52 399.40,403.60 399.90,405.68 400.40,408.81 400.90,413.51 401.40,414.17 401.90,413.82 402.40,413.47 402.90,413.12 403.40,413.53 403.90,414.45 404.40,413.56 404.90,413.59 405.40,414.25 405.90,414.91 406.40,418.45 406.90,423.22 407.40,425.22 407.90,427.21 408.40,427.02 408.90,423.54 409.40,409.70 409.90,394.52 410.40,381.22 410.90,366.85 411.40,356.11 411.90,350.81 412.40,349.16 412.90,347.50 413.40,345.85 413.90,345.08 414.40,344.03 414.90,342.78 415.40,341.54 415.90,340.30 416.40,337.41 416.90,327.99 417.40,326.10 417.90,326.10 418.40,326.10 418.90,337.37 419.40,346.23 419.90,347.23 420.40,348.97 420.90,350.71 421.40,352.46 421.90,357.36 422.40,362.68 422.90,368.00 423.40,372.22 423.90,376.45 424.40,382.90 424.90,398.23 425.40,404.93 425.90,408.94 426.40,410.85 426.90,412.76 427.40,415.86 427.90,420.77 428.40,426.80 428.90,430.93 429.40,430.78 429.90,425.70 430.40,418.76 430.90,409.42 431.40,400.07 431.90,390.19 432.40,383.54 432.90,381.96 433.40,380.38 433.90,378.80 434.40,377.23 434.90,373.31 435.40,367.91 435.90,361.51 436.40,355.12 436.90,348.72 437.40,341.16 437.90,328.94 438.40,327.39 438.90,328.51 439.40,329.63 439.90,330.74 440.40,331.00 440.90,329.98 441.40,332.45 441.90,335.14 442.40,336.87 442.90,338.60 443.40,339.81 443.90,340.69 444.40,344.60 444.90,348.50 445.40,352.36 445.90,356.03 446.40,363.50 446.90,372.42 447.40,377.09 447.90,381.75 448.40,386.18 448.90,390.26 449.40,397.46 449.90,403.63 450.40,407.07 450.90,410.51 451.40,412.69 451.90,412.98 452.40,412.60 452.90,412.23 453.40,411.85 453.90,409.40 454.40,408.35 454.90,408.30 455.40,408.55 455.90,409.59 456.40,410.83 456.90,412.07 457.40,412.69 457.90,405.85 458.40,388.03 458.90,381.16 459.40,377.33 459.90,373.96 460.40,370.86 460.90,367.76 461.40,364.66 461.90,354.69 462.40,348.12 462.90,346.11 463.40,344.05 463.90,343.31 464.40,343.95 464.90,345.78 465.40,347.61 465.90,344.95 466.40,335.33 466.90,335.80 467.40,336.20 467.90,337.24 468.40,340.95 468.90,343.58 469.40,346.10 469.90,351.04 470.40,368.29 470.90,384.75 471.40,385.65 471.90,386.56 472.40,388.22 472.90,390.99 473.40,405.04 473.90,415.39 474.40,415.99 474.90,416.59 475.40,418.69 475.90,423.05 476.40,423.73 476.90,424.72 477.40,425.92 477.90,426.42 478.40,432.85 478.90,428.94 479.40,409.39 479.90,407.21 480.40,408.19 480.90,404.34 481.40,390.87 481.90,381.43 482.40,381.68 482.90,381.93 483.40,381.44 483.90,379.85 484.40,374.21 484.90,369.70 485.40,366.89 485.90,362.84 486.40,351.92 486.90,336.41 487.40,336.00 487.90,335.58 488.40,338.75 488.90,356.25 489.40,357.49 489.90,354.67 490.40,351.85 490.90,353.62 491.40,355.37 491.90,355.38 492.40,355.39 492.90,356.02 493.40,357.57 493.90,368.05 494.40,375.30 494.90,377.71 495.40,380.12 495.90,382.54 496.40,384.95 496.40,412.65 495.90,409.41 495.40,406.18 494.90,402.94 494.40,399.70 493.90,394.85 493.40,388.93 492.90,384.93 492.40,383.72 491.90,384.38 491.40,385.03 490.90,385.11 490.40,385.18 489.90,386.77 489.40,388.37 488.90,389.18 488.40,386.82 487.90,387.35 487.40,388.59 486.90,389.83 486.40,396.11 485.90,402.64 485.40,409.56 484.90,412.79 484.40,416.58 483.90,420.75 483.40,426.85 482.90,429.64 482.40,430.20 481.90,430.77 481.40,434.57 480.90,442.79 480.40,460.12 479.90,463.00 479.40,463.73 478.90,470.25 478.40,471.55 477.90,452.27 477.40,450.77 476.90,449.04 476.40,447.38 475.90,445.82 475.40,433.22 474.90,427.40 474.40,426.09 473.90,424.79 473.40,420.23 472.90,413.45 472.40,406.44 471.90,402.79 471.40,401.38 470.90,399.97 470.40,393.38 469.90,385.36 469.40,376.76 468.90,375.41 468.40,375.64 467.90,375.51 467.40,376.27 466.90,377.13 466.40,377.79 465.90,381.65 465.40,382.53 464.90,381.93 464.40,381.32 463.90,381.33 463.40,382.68 462.90,384.48 462.40,386.11 461.90,388.63 461.40,392.77 460.90,396.55 460.40,400.34 459.90,404.12 459.40,408.72 458.90,414.69 458.40,422.50 457.90,433.95 457.40,439.26 456.90,440.02 456.40,438.94 455.90,437.86 455.40,436.85 454.90,436.10 454.40,435.45 453.90,437.61 453.40,443.95 452.90,444.07 452.40,444.20 451.90,444.32 451.40,441.47 450.90,439.37 450.40,437.79 449.90,436.20 449.40,433.71 448.90,430.10 448.40,424.49 447.90,417.84 447.40,410.49 446.90,403.14 446.40,394.37 445.90,388.48 445.40,387.42 444.90,385.80 444.40,384.03 443.90,382.27 443.40,381.51 442.90,380.64 442.40,379.60 441.90,378.57 441.40,374.62 440.90,370.19 440.40,371.51 439.90,372.40 439.40,373.00 438.90,373.61 438.40,374.22 437.90,377.46 437.40,391.24 436.90,396.59 436.40,399.83 435.90,403.07 435.40,406.31 434.90,412.94 434.40,424.67 433.90,424.10 433.40,423.52 432.90,422.94 432.40,422.36 431.90,427.47 431.40,436.36 430.90,445.17 430.40,453.98 429.90,460.57 429.40,464.93 428.90,464.98 428.40,454.83 427.90,441.43 427.40,441.34 426.90,441.85 426.40,442.76 425.90,443.67 425.40,438.28 424.90,431.01 424.40,422.58 423.90,417.12 423.40,412.39 422.90,407.66 422.40,399.66 421.90,392.66 421.40,388.37 420.90,385.14 420.40,381.91 419.90,378.67 419.40,377.67 418.90,374.46 418.40,370.70 417.90,370.70 417.40,370.70 416.90,371.33 416.40,374.47 415.90,375.43 415.40,375.85 414.90,376.26 414.40,376.68 413.90,377.85 413.40,380.15 412.90,382.25 412.40,384.34 411.90,386.44 411.40,389.75 410.90,399.42 410.40,413.34 409.90,424.03 409.40,435.36 408.90,447.90 408.40,463.64 407.90,469.54 407.40,468.87 406.90,468.21 406.40,458.27 405.90,450.13 405.40,448.16 404.90,446.18 404.40,444.41 403.90,442.95 403.40,440.18 402.90,438.95 402.40,440.00 401.90,441.05 401.40,442.11 400.90,440.93 400.40,430.82 399.90,425.43 399.40,423.19 398.90,420.95 398.40,416.19 397.90,409.37 397.40,396.86 396.90,393.35 396.40,392.20 395.90,391.26 395.40,389.31 394.90,385.46 394.40,379.10 393.90,378.88 393.40,378.75 392.90,378.75 392.40,378.75 391.90,379.20 391.40,379.89 390.90,380.34 390.40,380.79 389.90,384.06 389.40,388.68 388.90,391.22 388.40,393.76 387.90,396.30 387.40,398.83 386.90,405.33 386.40,413.26 385.90,416.45 385.40,419.53 384.90,422.58 384.40,425.62 383.90,428.67 383.40,434.14 382.90,443.23 382.40,447.53 381.90,450.63 381.40,453.73 380.90,457.98 380.40,459.88 379.90,460.22 379.40,457.92 378.90,447.70 378.40,447.70 377.90,446.32 377.40,444.15 376.90,440.96 376.40,435.83 375.90,430.70 375.40,425.58 374.90,420.45 374.40,415.33 373.90,408.91 373.40,400.58 372.90,399.85 372.40,399.12 371.90,398.40 371.40,391.61 370.90,388.08 370.40,386.73 369.90,386.11 369.40,385.50 368.90,384.70 368.40,383.18 367.90,382.06 367.40,381.22 366.90,380.38 366.40,381.91 365.90,383.10 365.40,386.85 364.90,387.80 364.40,387.80 363.90,387.80 363.40,411.75 362.90,427.22 362.40,429.95 361.90,429.57 361.40,429.20 360.90,428.82 360.40,428.45 359.90,433.75 359.40,441.88 358.90,446.14 358.40,448.30 357.90,449.93 357.40,453.95 356.90,467.48 356.40,470.38 355.90,470.63 355.40,470.88 354.90,455.80 354.40,417.73 353.90,416.57 353.40,415.41 352.90,414.25 352.40,413.09 351.90,415.60 351.40,419.25 350.90,417.62 350.40,416.00 349.90,412.66 349.40,408.49 348.90,407.69 348.40,401.32 347.90,392.47 347.40,389.99 346.90,387.50 346.40,384.60 345.90,380.05 345.40,377.16 344.90,374.69 344.40,372.22 343.90,371.52 343.40,371.42 342.90,371.54 342.40,372.75 341.90,374.23 341.40,375.71 340.90,383.44 340.40,387.79 339.90,389.87 339.40,398.30 338.90,403.17 338.40,405.67 337.90,408.17 337.40,412.17 336.90,416.78 336.40,419.74 335.90,425.59 335.40,431.26 334.90,433.38 334.40,435.67 333.90,437.69 333.40,439.23 332.90,448.64 332.40,454.11 331.90,453.67 331.40,453.23 330.90,451.67 330.40,449.35 329.90,448.15 329.40,448.94 328.90,448.89 328.40,440.24 327.90,431.59 327.40,421.70 326.90,406.85 326.40,402.02 325.90,399.69 325.40,397.37 324.90,395.04 324.40,389.39 323.90,378.73 323.40,378.73 322.90,378.73 322.40,378.73 321.90,378.73 321.40,376.92 320.90,374.52 320.40,374.52 319.90,374.52 319.40,374.60 318.90,374.95 318.40,375.62 317.90,376.36 317.40,377.10 316.90,378.88 316.40,380.83 315.90,382.65 315.40,384.47 314.90,387.56 314.40,392.55 313.90,395.99 313.40,399.24 312.90,402.22 312.40,405.21 311.90,412.51 311.40,421.17 310.90,423.78 310.40,426.66 309.90,433.19 309.40,438.88 308.90,454.06 308.40,467.75 307.90,467.93 307.40,468.84 306.90,456.54 306.40,439.65 305.90,439.65 305.40,439.65 304.90,439.23 304.40,437.12 303.90,434.31 303.40,431.33 302.90,428.35 302.40,425.36 301.90,418.25 301.40,404.95 300.90,405.71 300.40,406.47 299.90,407.23 299.40,404.83 298.90,392.39 298.40,376.94 297.90,376.27 297.40,375.61 296.90,375.02 296.40,374.75 295.90,374.77 295.40,374.85 294.90,374.94 294.40,375.02 293.90,376.43 293.40,379.80 292.90,382.53 292.40,385.27 291.90,388.00 291.40,390.73 290.90,400.72 290.40,415.55 289.90,416.33 289.40,417.10 288.90,422.52 288.40,446.49 287.90,456.56 287.40,457.38 286.90,458.19 286.40,459.00Z" fill="#0962c2"/><path d="M33.60,395.35V453.09M34.10,389.28V454.20M34.60,397.28V455.00M35.10,407.84V455.03M35.60,406.11V455.24M36.10,407.68V454.68M36.60,408.57V453.58M37.10,411.65V451.60M37.60,413.54V472.52M38.10,418.23V480.69M38.60,418.78V482.31M39.10,419.28V486.34M39.60,414.47V481.30M40.10,423.72V476.35M40.60,418.28V470.23M41.10,418.77V472.40M41.60,409.74V471.60M42.10,405.59V456.74M42.60,405.55V451.66M43.10,406.24V451.43M43.60,411.84V451.03M44.10,404.91V447.16M44.60,405.29V432.17M45.10,396.68V434.09M45.60,384.61V434.65M46.10,375.49V430.13M46.60,373.80V416.16M47.10,370.71V416.10M47.60,379.53V411.63M48.10,379.15V405.67M48.60,374.69V403.08M49.10,361.84V398.27M49.60,360.08V395.03M50.10,360.97V393.06M50.60,356.63V384.13M51.10,339.48V390.54M51.60,324.06V388.98M52.10,318.61V377.48M52.60,320.79V391.02M53.10,342.22V385.30M53.60,358.80V391.17M54.10,358.63V391.82M54.60,362.95V388.53M55.10,356.58V392.05M55.60,344.29V396.77M56.10,338.31V399.02M56.60,332.76V399.89M57.10,345.08V406.74M57.60,376.59V418.74M58.10,387.51V432.61M58.60,393.35V443.00M59.10,403.37V453.37M59.60,400.82V459.89M60.10,402.22V456.84M60.60,412.43V457.28M61.10,408.77V456.66M61.60,410.55V466.20M62.10,406.50V450.39M62.60,410.86V460.25M63.10,410.29V465.16M63.60,410.49V467.70M64.10,409.27V467.84M64.60,405.81V464.22M65.10,393.56V459.79M65.60,401.00V460.37M66.10,389.07V448.29M66.60,391.98V449.68M67.10,394.93V445.94M67.60,383.04V444.00M68.10,392.77V434.82M68.60,383.47V433.07M69.10,384.16V421.09M69.60,385.38V434.82M70.10,386.59V426.98M70.60,377.06V438.04M71.10,367.63V437.86M71.60,370.68V431.30M72.10,364.99V420.00M72.60,346.10V417.51M73.10,346.66V414.52M73.60,345.61V415.16M74.10,348.14V407.34M74.60,347.89V402.99M75.10,346.11V398.96M75.60,344.41V399.36M76.10,350.20V393.12M76.60,350.44V388.86M77.10,346.60V393.19M77.60,327.13V393.94M78.10,327.93V399.96M78.60,328.02V395.85M79.10,338.67V398.25M79.60,340.08V399.57M80.10,344.66V406.42M80.60,344.69V408.49M81.10,354.21V404.05M81.60,375.13V410.85M82.10,371.64V414.88M82.60,377.08V422.36M83.10,380.95V431.82M83.60,382.48V435.82M84.10,392.16V447.81M84.60,390.86V450.92M85.10,401.05V457.16M85.60,405.59V457.80M86.10,414.08V454.88M86.60,408.95V450.50M87.10,412.28V445.36M87.60,415.47V439.16M88.10,415.36V439.89M88.60,431.22V459.13M89.10,419.52V469.29M89.60,416.44V470.30M90.10,419.30V464.73M90.60,415.07V476.00M91.10,420.53V480.48M91.60,413.30V481.96M92.10,408.76V474.24M92.60,378.38V446.21M93.10,376.23V434.79M93.60,375.34V437.94M94.10,368.04V431.32M94.60,366.81V425.07M95.10,358.39V419.48M95.60,348.63V413.89M96.10,341.20V416.62M96.60,334.24V409.78M97.10,328.95V402.93M97.60,317.05V398.57M98.10,314.11V396.07M98.60,317.86V383.63M99.10,313.81V390.32M99.60,326.09V390.31M100.10,327.85V389.54M100.60,326.33V395.89M101.10,329.91V396.40M101.60,325.74V396.94M102.10,333.62V393.40M102.60,328.71V383.17M103.10,328.56V396.18M103.60,332.27V381.32M104.10,330.79V398.78M104.60,341.67V382.91M105.10,344.85V403.44M105.60,349.78V411.39M106.10,352.31V412.85M106.60,359.99V416.93M107.10,356.01V419.01M107.60,360.29V423.54M108.10,365.00V428.92M108.60,365.80V444.75M109.10,370.87V436.90M109.60,377.76V446.64M110.10,389.96V445.01M110.60,399.88V447.56M111.10,402.01V452.75M111.60,413.09V456.07M112.10,416.22V463.50M112.60,423.03V481.31M113.10,417.38V485.02M113.60,419.40V475.89M114.10,413.16V477.77M114.60,415.38V472.90M115.10,416.86V467.58M115.60,411.99V469.16M116.10,402.22V467.67M116.60,402.29V464.55M117.10,388.29V445.05M117.60,394.33V433.40M118.10,390.25V429.61M118.60,396.73V435.76M119.10,370.53V416.52M119.60,353.70V409.73M120.10,348.69V407.96M120.60,344.51V404.91M121.10,338.35V404.72M121.60,327.00V388.36M122.10,325.30V384.86M122.60,323.45V392.39M123.10,331.02V379.45M123.60,313.08V389.19M124.10,306.39V387.07M124.60,308.94V393.48M125.10,323.75V378.73M125.60,317.57V394.67M126.10,334.81V392.01M126.60,332.17V391.14M127.10,336.36V390.16M127.60,334.83V394.60M128.10,336.11V393.67M128.60,330.39V387.66M129.10,342.43V387.88M129.60,336.21V387.38M130.10,351.70V389.09M130.60,364.58V390.13M131.10,361.08V395.66M131.60,366.00V417.64M132.10,367.78V432.39M132.60,380.30V433.25M133.10,381.12V432.43M133.60,382.56V430.37M134.10,385.50V429.18M134.60,388.12V437.14M135.10,389.20V440.24M135.60,398.06V441.25M136.10,397.51V446.49M136.60,397.05V458.45M137.10,408.05V445.63M137.60,415.08V466.00M138.10,404.62V467.19M138.60,413.76V460.12M139.10,411.49V437.58M139.60,411.45V429.94M140.10,411.30V425.29M140.60,410.37V422.51M141.10,397.39V417.45M141.60,384.70V417.40M142.10,383.89V421.38M142.60,382.17V419.52M143.10,370.02V416.65M143.60,346.64V413.47M144.10,355.49V399.20M144.60,348.33V405.11M145.10,339.44V401.14M145.60,330.72V394.16M146.10,323.83V397.30M146.60,326.63V384.37M147.10,319.50V391.27M147.60,323.84V385.83M148.10,324.62V391.75M148.60,325.23V391.03M149.10,328.93V390.77M149.60,332.20V390.11M150.10,329.55V383.06M150.60,342.28V385.54M151.10,345.37V392.78M151.60,348.09V393.25M152.10,356.32V400.39M152.60,364.66V402.92M153.10,359.39V398.37M153.60,363.54V409.93M154.10,363.60V413.66M154.60,366.51V420.59M155.10,381.31V431.22M155.60,387.72V432.26M156.10,389.99V433.48M156.60,389.59V427.97M157.10,398.36V439.19M157.60,398.82V444.52M158.10,405.60V442.47M158.60,408.99V443.57M159.10,397.82V476.02M159.60,404.46V472.08M160.10,400.10V471.10M160.60,402.50V467.01M161.10,407.88V447.90M161.60,403.59V451.61M162.10,401.70V453.83M162.60,404.07V447.81M163.10,405.88V457.49M163.60,404.79V458.92M164.10,405.16V457.84M164.60,405.04V456.00M165.10,394.53V452.73M165.60,393.74V459.30M166.10,378.56V459.15M166.60,373.78V424.90M167.10,371.98V430.43M167.60,357.94V423.23M168.10,355.71V409.95M168.60,359.04V415.53M169.10,345.17V408.63M169.60,339.61V399.30M170.10,326.20V392.27M170.60,324.84V392.13M171.10,324.51V391.69M171.60,326.60V384.48M172.10,320.92V390.63M172.60,312.30V385.87M173.10,328.77V390.99M173.60,312.27V394.10M174.10,310.80V387.27M174.60,316.22V394.68M175.10,322.08V386.01M175.60,335.18V390.00M176.10,338.45V392.92M176.60,342.14V391.00M177.10,351.76V392.78M177.60,361.52V390.21M178.10,372.14V399.48M178.60,367.54V401.16M179.10,372.02V407.09M179.60,379.84V409.27M180.10,395.60V414.72M180.60,388.73V418.52M181.10,391.70V426.88M181.60,392.41V435.22M182.10,395.67V436.40M182.60,404.59V439.07M183.10,412.51V445.68M183.60,412.29V450.19M184.10,417.45V464.15M184.60,411.90V466.00M185.10,413.71V477.56M185.60,414.70V466.07M186.10,415.34V466.76M186.60,401.82V455.00M187.10,402.16V449.73M187.60,409.67V447.35M188.10,404.20V446.00M188.60,399.38V439.45M189.10,397.21V437.93M189.60,379.42V435.86M190.10,379.51V433.67M190.60,361.42V435.06M191.10,364.60V435.41M191.60,361.25V422.16M192.10,357.04V420.71M192.60,360.77V401.41M193.10,360.42V413.11M193.60,354.12V404.03M194.10,348.02V401.97M194.60,338.56V395.94M195.10,335.27V397.04M195.60,341.18V394.65M196.10,329.75V394.41M196.60,326.75V382.97M197.10,327.84V379.74M197.60,326.55V392.34M198.10,328.58V384.78M198.60,324.05V388.50M199.10,320.46V386.99M199.60,311.95V381.31M200.10,307.55V387.84M200.60,305.92V388.78M201.10,314.35V386.73M201.60,345.77V387.09M202.10,347.25V385.07M202.60,354.79V388.32M203.10,360.79V386.87M203.60,376.09V407.96M204.10,388.35V420.91M204.60,387.47V427.22M205.10,387.72V428.05M205.60,388.72V435.00M206.10,384.51V433.24M206.60,399.06V442.74M207.10,409.39V441.55M207.60,406.21V448.71M208.10,412.47V478.24M208.60,410.67V488.62M209.10,421.61V478.26M209.60,423.44V489.29M210.10,426.84V480.01M210.60,434.84V478.75M211.10,431.53V486.22M211.60,429.43V486.53M212.10,425.70V480.17M212.60,402.29V460.42M213.10,377.82V440.91M213.60,365.22V444.08M214.10,363.51V433.43M214.60,362.14V423.41M215.10,367.23V409.06M215.60,381.26V416.04M216.10,367.60V414.27M216.60,368.51V406.35M217.10,364.64V412.52M217.60,359.83V407.92M218.10,367.56V407.47M218.60,364.80V406.61M219.10,349.77V400.12M219.60,345.42V402.99M220.10,339.79V400.84M220.60,337.66V394.24M221.10,308.30V391.59M221.60,308.55V389.51M222.10,315.94V389.47M222.60,332.41V387.00M223.10,342.47V388.84M223.60,339.00V391.67M224.10,338.12V386.52M224.60,338.00V387.66M225.10,342.79V374.63M225.60,350.51V401.79M226.10,354.17V407.12M226.60,351.85V409.70M227.10,353.93V415.00M227.60,358.68V423.24M228.10,359.41V423.73M228.60,359.91V432.65M229.10,363.52V437.10M229.60,373.40V436.59M230.10,381.71V444.45M230.60,379.38V459.02M231.10,387.80V462.62M231.60,388.61V475.38M232.10,406.21V472.05M232.60,410.29V475.12M233.10,414.61V477.13M233.60,409.38V486.11M234.10,419.40V471.81M234.60,414.82V468.70M235.10,411.35V462.67M235.60,409.19V476.17M236.10,407.50V477.87M236.60,394.65V480.26M237.10,390.60V454.96M237.60,390.43V446.62M238.10,377.85V428.25M238.60,369.69V435.55M239.10,377.16V431.72M239.60,361.10V427.28M240.10,353.54V413.99M240.60,349.22V421.06M241.10,347.13V414.12M241.60,352.28V409.16M242.10,344.74V405.74M242.60,341.48V390.40M243.10,358.16V392.97M243.60,336.40V383.75M244.10,328.92V380.14M244.60,328.14V382.69M245.10,318.52V391.43M245.60,318.01V388.99M246.10,318.49V386.56M251.20,332.02V393.48M251.70,329.14V410.45M252.20,344.47V418.37M252.70,336.88V435.99M253.20,369.96V441.72M253.70,372.52V444.47M254.20,374.24V449.50M254.70,383.24V449.13M255.20,391.85V447.18M255.70,402.28V448.28M256.20,402.09V444.53M256.70,402.96V436.97M257.20,403.05V440.89M257.70,408.14V448.33M258.20,406.87V447.87M258.70,411.23V444.89M259.20,406.61V444.15M259.70,428.13V483.51M260.20,417.01V502.19M260.70,430.25V500.44M261.20,424.93V471.69M261.70,415.76V446.69M262.20,411.71V442.31M262.70,411.40V435.96M263.20,391.77V432.96M263.70,385.49V436.70M264.20,388.38V432.81M264.70,380.13V428.15M265.20,368.96V421.57M265.70,348.44V417.11M266.20,371.70V413.42M266.70,350.97V410.77M267.20,342.62V405.49M267.70,339.46V405.74M268.20,338.38V400.28M268.70,344.14V387.74M269.20,337.81V392.39M269.70,337.77V393.27M270.20,336.07V390.91M270.70,336.13V394.06M271.20,347.09V388.33M271.70,327.75V384.59M272.20,318.29V393.62M272.70,312.45V391.91M273.20,314.05V386.98M273.70,317.23V391.57M274.20,329.43V383.83M274.70,334.55V400.73M275.20,339.88V404.71M275.70,355.04V424.70M276.20,365.82V430.06M276.70,380.48V429.67M277.20,366.15V437.12M277.70,371.99V413.76M278.20,378.78V448.89M278.70,396.86V443.15M279.20,400.78V449.88M279.70,400.30V448.47M286.40,412.68V474.08M286.90,409.53V471.97M287.40,406.69V466.15M287.90,402.59V470.30M288.40,396.16V452.28M288.90,367.86V430.83M289.40,371.50V434.96M289.90,371.65V408.73M290.40,361.11V429.15M290.90,357.08V403.85M291.40,354.28V397.89M291.90,356.75V397.30M292.40,346.27V398.58M292.90,343.61V395.30M293.40,338.63V393.61M293.90,329.47V389.74M294.40,326.88V380.47M294.90,340.48V387.71M295.40,325.36V378.84M295.90,338.54V384.94M296.40,328.64V380.10M296.90,332.03V387.00M297.40,329.65V383.41M297.90,334.52V389.89M298.40,332.19V391.26M298.90,336.25V407.73M299.40,343.43V409.76M299.90,359.40V423.97M300.40,360.31V421.67M300.90,366.36V420.00M301.40,369.96V416.97M301.90,386.48V427.17M302.40,396.19V435.31M302.90,396.35V435.54M303.40,395.19V443.00M303.90,401.58V445.12M304.40,398.88V444.13M304.90,412.89V444.37M305.40,401.60V450.05M305.90,402.11V447.97M306.40,400.64V448.69M306.90,405.03V470.84M307.40,410.96V480.11M307.90,398.34V488.48M308.40,402.84V492.10M308.90,396.67V467.98M309.40,389.28V454.78M309.90,382.05V448.83M310.40,382.32V443.84M310.90,370.76V437.93M311.40,376.86V422.30M311.90,367.13V427.72M312.40,366.01V412.38M312.90,363.70V413.97M313.40,359.77V403.06M313.90,359.85V393.64M314.40,357.02V395.22M314.90,352.67V396.74M315.40,348.22V384.81M315.90,343.55V391.34M316.40,346.46V392.01M316.90,349.57V389.26M317.40,331.32V378.14M317.90,333.42V380.27M318.40,333.64V385.28M318.90,329.08V382.68M319.40,324.00V385.33M319.90,323.08V383.90M320.40,322.24V389.11M320.90,323.53V389.25M321.40,331.74V391.63M321.90,339.47V389.54M322.40,339.95V391.21M322.90,342.00V381.02M323.40,355.74V381.90M323.90,343.00V390.69M324.40,357.21V400.19M324.90,364.01V405.32M325.40,371.20V402.53M325.90,372.36V403.90M326.40,376.44V409.65M326.90,383.24V414.43M327.40,395.10V430.08M327.90,404.73V440.56M328.40,400.47V453.40M328.90,412.29V465.07M329.40,406.01V462.63M329.90,402.89V460.71M330.40,408.91V450.82M330.90,415.37V445.81M331.40,411.65V461.99M331.90,415.81V465.89M332.40,421.19V468.80M332.90,418.52V457.50M333.40,404.29V449.68M333.90,402.47V444.66M334.40,400.36V442.92M334.90,394.49V447.06M335.40,394.19V437.01M335.90,385.66V435.81M336.40,381.36V431.61M336.90,379.29V427.63M337.40,367.88V427.33M337.90,357.63V424.06M338.40,353.20V419.49M338.90,350.62V417.87M339.40,361.93V414.89M339.90,349.39V402.10M340.40,349.61V399.75M340.90,332.34V396.93M341.40,309.27V393.10M341.90,311.17V395.83M342.40,309.69V394.14M342.90,308.29V372.10M343.40,331.80V390.75M343.90,323.47V388.47M344.40,323.81V384.46M344.90,321.01V392.53M345.40,323.44V393.44M345.90,326.93V392.39M346.40,332.59V401.73M346.90,337.22V401.82M347.40,337.08V404.47M347.90,348.57V399.19M348.40,337.94V422.14M348.90,344.27V429.58M349.40,347.73V429.83M349.90,356.61V431.59M350.40,374.53V432.24M350.90,374.68V431.38M351.40,388.70V422.88M351.90,390.68V420.22M352.40,394.27V417.39M352.90,394.11V418.71M353.40,395.71V417.80M353.90,393.51V419.65M354.40,396.92V414.78M354.90,406.44V470.30M355.40,407.39V490.08M355.90,416.48V487.22M356.40,407.37V489.70M356.90,407.42V484.95M357.40,408.95V461.78M357.90,403.60V459.74M358.40,402.93V460.67M358.90,403.19V459.27M359.40,387.35V459.59M359.90,380.64V451.08M360.40,375.04V442.83M360.90,379.34V428.44M361.40,373.32V440.26M361.90,368.26V447.94M362.40,368.61V449.40M362.90,358.89V444.65M363.40,351.13V428.77M363.90,350.87V391.83M364.40,350.73V399.20M364.90,360.39V395.76M365.40,346.83V398.52M365.90,334.61V396.68M366.40,346.31V397.08M366.90,344.45V394.78M367.40,335.14V371.88M367.90,337.69V392.61M368.40,342.15V396.46M368.90,348.54V392.43M369.40,342.44V399.34M369.90,342.98V400.24M370.40,346.89V393.30M370.90,342.70V401.75M371.40,354.64V402.69M371.90,380.82V404.45M372.40,383.55V396.01M372.90,387.46V402.38M373.40,392.51V403.53M373.90,392.23V412.22M374.40,395.18V421.97M374.90,396.12V427.15M375.40,398.17V435.18M375.90,397.25V439.53M376.40,402.06V445.12M376.90,401.06V451.56M377.40,404.28V456.13M377.90,414.04V459.44M378.40,413.51V459.96M378.90,421.65V450.46M379.40,411.82V463.86M379.90,409.54V477.49M380.40,409.12V471.81M380.90,409.82V473.59M381.40,416.99V466.52M381.90,402.99V465.98M382.40,404.05V453.36M382.90,399.42V455.46M383.40,384.59V444.48M383.90,374.13V442.03M384.40,369.85V443.96M384.90,367.09V441.29M385.40,365.99V435.09M385.90,375.08V432.70M386.40,356.92V434.22M386.90,345.79V410.46M387.40,342.27V412.64M387.90,342.96V414.30M388.40,343.98V411.24M388.90,342.85V405.21M389.40,339.51V387.89M389.90,336.43V396.96M390.40,335.52V390.79M390.90,334.28V391.61M391.40,337.64V385.34M391.90,337.34V385.80M392.40,336.35V388.76M392.90,337.48V389.41M393.40,341.43V383.08M393.90,338.16V388.96M394.40,341.74V391.41M394.90,361.03V392.50M395.40,351.98V400.40M395.90,365.63V401.67M396.40,360.30V401.41M396.90,362.44V402.57M397.40,365.51V404.80M397.90,367.99V422.05M398.40,386.36V425.57M398.90,393.26V430.08M399.40,393.87V432.72M399.90,399.66V430.02M400.40,401.15V433.80M400.90,403.21V446.11M401.40,401.78V454.47M401.90,401.47V450.51M402.40,406.78V453.18M402.90,410.64V451.60M403.40,401.82V452.64M403.90,400.59V454.86M404.40,404.59V459.11M404.90,397.87V462.23M405.40,401.57V458.38M405.90,400.83V467.69M406.40,406.55V464.40M406.90,407.48V489.80M407.40,412.98V486.34M407.90,434.64V479.04M408.40,409.27V478.65M408.90,412.22V455.58M409.40,397.38V446.13M409.90,381.38V436.82M410.40,372.35V428.61M410.90,352.68V414.40M411.40,340.26V403.30M411.90,339.24V401.26M412.40,342.11V401.05M412.90,335.06V399.45M413.40,331.24V396.63M413.90,334.09V393.61M414.40,332.33V387.68M414.90,326.57V391.50M415.40,326.67V387.49M415.90,331.43V392.30M416.40,320.10V388.70M416.90,308.14V387.92M417.40,326.22V392.08M417.90,314.47V391.45M418.40,309.98V392.15M418.90,322.28V390.55M419.40,332.02V381.24M419.90,331.99V386.69M420.40,341.73V395.32M420.90,337.87V400.98M421.40,339.11V404.37M421.90,340.94V402.48M422.40,345.67V416.89M422.90,354.38V424.76M423.40,366.42V431.71M423.90,378.35V421.67M424.40,378.90V440.40M424.90,388.50V440.40M425.40,393.02V454.68M425.90,404.23V451.24M426.40,395.54V452.66M426.90,399.43V455.86M427.40,403.75V453.01M427.90,420.61V449.85M428.40,412.98V459.93M428.90,418.05V481.77M429.40,419.40V477.70M429.90,424.53V476.43M430.40,413.05V466.80M430.90,400.73V458.43M431.40,386.76V439.25M431.90,379.73V442.22M432.40,366.33V439.89M432.90,366.16V442.40M433.40,360.54V438.36M433.90,361.71V440.58M434.40,363.17V440.78M434.90,358.43V429.27M435.40,355.49V425.47M435.90,356.64V407.71M436.40,341.48V421.91M436.90,331.61V409.69M437.40,318.09V412.04M437.90,314.48V400.12M438.40,308.26V396.67M438.90,307.78V393.72M439.40,309.72V387.70M439.90,327.88V390.34M440.40,314.67V390.54M440.90,311.61V382.34M441.40,316.41V381.96M441.90,320.65V397.14M442.40,324.87V400.85M442.90,334.72V385.89M443.40,320.84V399.51M443.90,325.52V402.75M444.40,324.95V399.58M444.90,331.84V402.10M445.40,339.89V404.28M445.90,341.09V403.31M446.40,348.33V407.68M446.90,360.72V417.67M447.40,367.38V426.24M447.90,367.92V429.38M448.40,367.68V441.58M448.90,371.88V449.27M449.40,381.08V446.84M449.90,390.48V452.22M450.40,400.22V441.68M450.90,400.20V452.18M451.40,404.15V441.83M451.90,401.19V459.29M452.40,398.70V456.67M452.90,398.48V457.34M453.40,396.72V458.13M453.90,396.42V450.54M454.40,399.50V448.95M454.90,395.13V448.10M455.40,396.98V448.29M455.90,396.52V449.86M456.40,397.87V452.92M456.90,398.49V453.91M457.40,416.40V440.14M457.90,403.14V438.51M458.40,376.79V438.18M458.90,376.51V430.88M459.40,364.49V423.41M459.90,361.17V416.67M460.40,357.85V415.04M460.90,361.02V405.55M461.40,360.98V398.27M461.90,341.51V405.22M462.40,344.19V395.92M462.90,328.63V388.15M463.40,334.46V401.43M463.90,324.37V386.78M464.40,328.76V390.65M464.90,328.00V396.96M465.40,334.80V399.95M465.90,340.01V399.00M466.40,315.10V396.67M466.90,318.05V393.85M467.40,316.53V391.36M467.90,324.70V380.26M468.40,326.61V390.89M468.90,328.75V389.39M469.40,334.60V385.25M469.90,335.20V399.04M470.40,355.96V403.73M470.90,377.49V407.30M471.40,379.06V406.40M471.90,381.01V409.80M472.40,380.78V414.57M472.90,381.85V421.58M473.40,398.18V427.55M473.90,416.89V429.46M474.40,410.98V430.82M474.90,413.02V432.78M475.40,416.87V439.44M475.90,416.44V456.46M476.40,413.78V456.67M476.90,413.86V458.60M477.40,414.27V458.25M477.90,416.11V464.67M478.40,421.88V484.89M478.90,421.47V483.17M479.40,385.13V477.37M479.90,396.88V467.01M480.40,396.35V451.37M480.90,414.70V458.46M481.40,371.27V454.60M481.90,363.88V448.80M482.40,358.61V443.59M482.90,366.04V452.72M483.40,359.11V442.86M483.90,368.53V408.48M484.40,357.41V436.18M484.90,354.96V433.88M485.40,351.16V424.86M485.90,351.69V422.36M486.40,332.10V408.43M486.90,313.22V404.83M487.40,312.15V408.38M487.90,312.13V413.14M488.40,332.19V406.53M488.90,346.92V400.64M489.40,356.69V400.00M489.90,341.36V401.43M490.40,339.96V400.19M490.90,346.07V397.53M491.40,340.89V393.79M491.90,342.48V391.59M492.40,342.73V391.24M492.90,348.14V395.17M493.40,354.36V402.51M493.90,354.93V407.19M494.40,372.94V404.44M494.90,380.85V410.71M495.40,372.68V416.78M495.90,370.49V422.07M496.40,375.60V426.09" stroke="#0962c2" stroke-width="0.75" fill="none"/>
<circle cx="42.6" cy="398.5" r="0.6" fill="#0962c2"/>
<circle cx="43.5" cy="393.2" r="0.6" fill="#0962c2"/>
<circle cx="44.8" cy="400.5" r="0.6" fill="#0962c2"/>
<circle cx="45.6" cy="395.5" r="0.6" fill="#0962c2"/>
<circle cx="44.2" cy="396.8" r="0.6" fill="#0962c2"/>
<path d="M34.00,418.30 L34.25,417.20 L34.50,419.09 L34.75,423.04 L35.00,427.57 L35.25,427.85 L35.50,429.66 L35.75,430.07 L36.00,436.53 L36.25,436.83 L36.50,441.15 L36.75,439.81 L37.00,444.72 L37.25,446.96 L37.50,448.67 L37.75,448.09 L38.00,448.33 L38.25,449.38 L38.50,449.60 L38.75,450.66 L39.00,452.81 L39.25,453.27 L39.50,452.95 L39.75,453.59 L40.00,455.50 L40.25,455.18 L40.50,454.03 L40.75,455.10 L41.00,454.24 L41.25,450.54 L41.50,447.83 L41.75,448.01 L42.00,447.43 L42.25,444.21 L42.50,441.47 L42.75,438.91 L43.00,436.10 L43.25,433.71 L43.50,433.66 L43.75,432.62 L44.00,429.82 L44.25,424.77 L44.50,425.37 L44.75,424.88 L45.00,426.00 L45.25,424.77 L45.50,421.59 L45.75,417.49 L46.00,413.97 L46.25,410.04 L46.50,407.62 L46.75,403.51 L47.00,402.88 L47.25,400.11 L47.50,400.26 L47.75,396.61 L48.00,393.46 L48.25,390.07 L48.50,386.03 L48.75,382.77 L49.00,374.79 L49.25,372.74 L49.50,369.74 L49.75,368.45 L50.00,367.83 L50.25,366.19 L50.50,366.90 L50.75,364.74 L51.00,366.51 L51.25,364.63 L51.50,364.61 L51.75,364.39 L52.00,365.59 L52.25,365.19 L52.50,362.89 L52.75,367.33 L53.00,369.05 L53.25,372.23 L53.50,370.91 L53.75,374.83 L54.00,374.45 L54.25,377.08 L54.50,375.31 L54.75,375.88 L55.00,377.00 L55.25,379.18 L55.50,384.64 L55.75,383.61 L56.00,383.16 L56.25,380.84 L56.50,387.52 L56.75,394.84 L57.00,401.26 L57.25,400.30 L57.50,402.56 L57.75,408.17 L58.00,413.01 L58.25,416.00 L58.50,416.93 L58.75,419.84 L59.00,419.97 L59.25,419.93 L59.50,419.78 L59.75,421.70 L60.00,425.26 L60.25,427.03 L60.50,426.01 L60.75,425.61 L61.00,428.53 L61.25,429.75 L61.50,429.99 L61.75,425.73 L62.00,429.03 L62.25,431.85 L62.50,438.68 L62.75,437.85 L63.00,434.20 L63.25,434.34 L63.50,438.38 L63.75,442.09 L64.00,442.38 L64.25,441.72 L64.50,442.82 L64.75,440.49 L65.00,437.28 L65.25,435.51 L65.50,433.22 L65.75,434.56 L66.00,433.10 L66.25,437.03 L66.50,437.84 L66.75,436.37 L67.00,433.27 L67.25,429.44 L67.50,428.98 L67.75,424.85 L68.00,423.14 L68.25,420.81 L68.50,421.24 L68.75,421.56 L69.00,422.01 L69.25,420.30 L69.50,418.81 L69.75,416.50 L70.00,414.00 L70.25,410.08 L70.50,408.16 L70.75,409.61 L71.00,408.82 L71.25,406.62 L71.50,400.52 L71.75,398.08 L72.00,397.98 L72.25,399.31 L72.50,395.47 L72.75,391.62 L73.00,385.90 L73.25,384.02 L73.50,384.88 L73.75,385.66 L74.00,386.90 L74.25,383.45 L74.50,382.04 L74.75,381.39 L75.00,381.07 L75.25,383.41 L75.50,382.92 L75.75,383.01 L76.00,378.77 L76.25,377.27 L76.50,372.85 L76.75,369.18 L77.00,365.09 L77.25,362.57 L77.50,361.59 L77.75,361.53 L78.00,361.89 L78.25,363.29 L78.50,363.31 L78.75,365.23 L79.00,366.60 L79.25,372.37 L79.50,374.03 L79.75,379.03 L80.00,380.81 L80.25,385.08 L80.50,387.16 L80.75,387.78 L81.00,390.46 L81.25,393.21 L81.50,397.00 L81.75,396.22 L82.00,396.86 L82.25,399.97 L82.50,404.82 L82.75,410.35 L83.00,408.89 L83.25,414.67 L83.50,414.68 L83.75,419.63 L84.00,422.26 L84.25,425.04 L84.50,426.59 L84.75,425.59 L85.00,427.44 L85.25,429.21 L85.50,431.35 L85.75,432.74 L86.00,435.78 L86.25,436.23 L86.50,439.27 L86.75,438.70 L87.00,441.21 L87.25,442.04 L87.50,443.31 L87.75,440.40 L88.00,437.66 L88.25,439.48 L88.50,441.41 L88.75,443.94 L89.00,443.55 L89.25,444.67 L89.50,447.73 L89.75,447.27 L90.00,448.87 L90.25,445.94 L90.50,447.99 L90.75,447.98 L91.00,447.39 L91.25,442.57 L91.50,436.24 L91.75,433.30 L92.00,431.16 L92.25,432.26 L92.50,433.07 L92.75,432.15 L93.00,428.41 L93.25,423.21 L93.50,420.07 L93.75,417.13 L94.00,415.29 L94.25,415.78 L94.50,414.91 L94.75,411.98 L95.00,408.50 L95.25,405.10 L95.50,400.59 L95.75,399.24 L96.00,398.00 L96.25,397.31 L96.50,393.36 L96.75,390.41 L97.00,389.87 L97.25,386.95 L97.50,382.29 L97.75,377.44 L98.00,377.02 L98.25,377.06 L98.50,374.53 L98.75,371.56 L99.00,372.37 L99.25,371.28 L99.50,373.42 L99.75,371.39 L100.00,373.66 L100.25,373.53 L100.50,372.52 L100.75,372.22 L101.00,372.61 L101.25,374.18 L101.50,376.10 L101.75,377.87 L102.00,380.43 L102.25,379.77 L102.50,376.11 L102.75,375.02 L103.00,375.53 L103.25,375.87 L103.50,376.52 L103.75,374.96 L104.00,375.92 L104.25,375.78 L104.50,377.66 L104.75,380.65 L105.00,383.54 L105.25,383.50 L105.50,382.86 L105.75,383.75 L106.00,387.34 L106.25,390.52 L106.50,391.67 L106.75,395.47 L107.00,396.64 L107.25,402.10 L107.50,401.64 L107.75,405.58 L108.00,408.25 L108.25,413.27 L108.50,415.50 L108.75,415.11 L109.00,418.80 L109.25,419.72 L109.50,416.26 L109.75,418.41 L110.00,420.44 L110.25,428.62 L110.50,428.33 L110.75,433.83 L111.00,437.34 L111.25,439.16 L111.50,438.68 L111.75,436.67 L112.00,440.94 L112.25,442.66 L112.50,442.24 L112.75,443.46 L113.00,445.82 L113.25,450.67 L113.50,449.26 L113.75,445.77 L114.00,444.68 L114.25,445.06 L114.50,445.43 L114.75,440.95 L115.00,437.33 L115.25,441.75 L115.50,445.95 L115.75,449.25 L116.00,443.74 L116.25,443.27 L116.50,437.93 L116.75,436.15 L117.00,432.80 L117.25,433.50 L117.50,432.60 L117.75,430.72 L118.00,426.23 L118.25,422.56 L118.50,420.84 L118.75,418.01 L119.00,415.64 L119.25,412.26 L119.50,412.52 L119.75,410.67 L120.00,408.47 L120.25,408.63 L120.50,403.35 L120.75,398.87 L121.00,392.43 L121.25,390.22 L121.50,388.47 L121.75,385.80 L122.00,389.74 L122.25,389.00 L122.50,386.74 L122.75,378.07 L123.00,372.35 L123.25,368.28 L123.50,369.77 L123.75,373.05 L124.00,371.27 L124.25,366.80 L124.50,359.91 L124.75,359.80 L125.00,358.96 L125.25,363.01 L125.50,362.95 L125.75,365.53 L126.00,364.28 L126.25,365.93 L126.50,366.79 L126.75,367.95 L127.00,369.52 L127.25,368.67 L127.50,368.63 L127.75,369.44 L128.00,371.26 L128.25,369.13 L128.50,368.62 L128.75,366.68 L129.00,369.72 L129.25,371.72 L129.50,376.10 L129.75,378.52 L130.00,379.43 L130.25,379.49 L130.50,383.94 L130.75,387.65 L131.00,391.23 L131.25,389.27 L131.50,394.71 L131.75,396.63 L132.00,402.86 L132.25,401.24 L132.50,405.23 L132.75,406.06 L133.00,406.25 L133.25,406.63 L133.50,407.97 L133.75,411.04 L134.00,413.81 L134.25,414.65 L134.50,416.54 L134.75,417.52 L135.00,419.24 L135.25,419.98 L135.50,418.13 L135.75,418.67 L136.00,419.60 L136.25,418.90 L136.50,417.74 L136.75,415.44 L137.00,417.40 L137.25,419.83 L137.50,423.28 L137.75,425.53 L138.00,424.80 L138.25,424.93 L138.50,427.80 L138.75,429.96 L139.00,432.52 L139.25,429.61 L139.50,430.68 L139.75,429.22 L140.00,427.61 L140.25,423.70 L140.50,422.19 L140.75,419.16 L141.00,413.68 L141.25,411.55 L141.50,408.10 L141.75,410.95 L142.00,407.83 L142.25,409.42 L142.50,409.07 L142.75,404.75 L143.00,402.27 L143.25,399.82 L143.50,401.01 L143.75,402.94 L144.00,401.13 L144.25,398.10 L144.50,397.17 L144.75,395.88 L145.00,395.50 L145.25,389.31 L145.50,384.47 L145.75,383.21 L146.00,383.63 L146.25,382.56 L146.50,380.14 L146.75,377.56 L147.00,375.02 L147.25,370.60 L147.50,368.87 L147.75,370.43 L148.00,372.10 L148.25,375.56 L148.50,375.34 L148.75,377.92 L149.00,371.13 L149.25,369.87 L149.50,367.83 L149.75,371.71 L150.00,376.57 L150.25,375.37 L150.50,372.23 L150.75,369.42 L151.00,369.74 L151.25,371.72 L151.50,373.83 L151.75,374.51 L152.00,374.86 L152.25,373.61 L152.50,376.75 L152.75,379.23 L153.00,383.69 L153.25,385.18 L153.50,386.57 L153.75,387.98 L154.00,388.51 L154.25,392.87 L154.50,396.26 L154.75,400.06 L155.00,402.98 L155.25,401.22 L155.50,404.91 L155.75,403.70 L156.00,407.34 L156.25,406.88 L156.50,411.41 L156.75,412.69 L157.00,413.28 L157.25,413.85 L157.50,415.76 L157.75,421.36 L158.00,421.56 L158.25,421.41 L158.50,421.53 L158.75,424.53 L159.00,428.62 L159.25,430.76 L159.50,433.24 L159.75,431.61 L160.00,429.83 L160.25,429.74 L160.50,428.92 L160.75,427.93 L161.00,426.27 L161.25,425.62 L161.50,427.16 L161.75,427.50 L162.00,428.30 L162.25,427.85 L162.50,426.39 L162.75,429.12 L163.00,426.81 L163.25,429.27 L163.50,427.52 L163.75,431.89 L164.00,429.63 L164.25,427.27 L164.50,423.29 L164.75,422.80 L165.00,427.02 L165.25,429.48 L165.50,430.85 L165.75,428.99 L166.00,424.89 L166.25,422.56 L166.50,419.61 L166.75,419.02 L167.00,419.09 L167.25,418.55 L167.50,418.56 L167.75,413.92 L168.00,409.38 L168.25,404.31 L168.50,400.41 L168.75,400.02 L169.00,398.75 L169.25,397.36 L169.50,394.75 L169.75,392.36 L170.00,388.92 L170.25,383.23 L170.50,379.13 L170.75,379.36 L171.00,380.20 L171.25,378.97 L171.50,378.42 L171.75,376.36 L172.00,374.79 L172.25,373.63 L172.50,373.99 L172.75,374.97 L173.00,372.37 L173.25,369.80 L173.50,368.93 L173.75,368.61 L174.00,371.75 L174.25,373.44 L174.50,374.39 L174.75,373.83 L175.00,375.10 L175.25,377.89 L175.50,378.64 L175.75,377.72 L176.00,378.49 L176.25,377.87 L176.50,376.26 L176.75,376.37 L177.00,376.25 L177.25,380.03 L177.50,383.19 L177.75,387.32 L178.00,391.12 L178.25,390.00 L178.50,393.37 L178.75,391.75 L179.00,394.12 L179.25,397.56 L179.50,400.47 L179.75,400.98 L180.00,401.07 L180.25,402.77 L180.50,410.07 L180.75,410.43 L181.00,416.60 L181.25,415.06 L181.50,420.41 L181.75,424.16 L182.00,426.59 L182.25,422.53 L182.50,421.77 L182.75,423.61 L183.00,429.59 L183.25,431.56 L183.50,434.11 L183.75,433.72 L184.00,437.00 L184.25,438.73 L184.50,442.25 L184.75,443.83 L185.00,443.37 L185.25,441.78 L185.50,441.72 L185.75,441.95 L186.00,445.12 L186.25,443.79 L186.50,443.83 L186.75,443.02 L187.00,441.71 L187.25,441.08 L187.50,438.62 L187.75,436.76 L188.00,440.23 L188.25,443.43 L188.50,441.57 L188.75,439.15 L189.00,434.66 L189.25,436.26 L189.50,432.98 L189.75,432.89 L190.00,426.04 L190.25,424.55 L190.50,419.67 L190.75,419.26 L191.00,412.32 L191.25,411.22 L191.50,408.17 L191.75,407.94 L192.00,402.75 L192.25,400.19 L192.50,399.17 L192.75,398.55 L193.00,398.88 L193.25,396.38 L193.50,395.87 L193.75,395.23 L194.00,394.91 L194.25,393.05 L194.50,387.28 L194.75,386.84 L195.00,385.73 L195.25,385.72 L195.50,386.87 L195.75,388.68 L196.00,391.36 L196.25,386.67 L196.50,378.41 L196.75,374.19 L197.00,370.38 L197.25,372.93 L197.50,375.94 L197.75,380.16 L198.00,377.03 L198.25,371.84 L198.50,369.39 L198.75,368.54 L199.00,370.67 L199.25,366.36 L199.50,365.69 L199.75,364.63 L200.00,368.65 L200.25,370.41 L200.50,372.05 L200.75,370.37 L201.00,375.21 L201.25,373.98 L201.50,377.17 L201.75,378.15 L202.00,383.21 L202.25,385.56 L202.50,390.64 L202.75,392.64 L203.00,396.65 L203.25,395.61 L203.50,399.85 L203.75,398.91 L204.00,402.55 L204.25,404.13 L204.50,406.10 L204.75,404.13 L205.00,403.46 L205.25,407.88 L205.50,411.79 L205.75,414.37 L206.00,415.71 L206.25,416.02 L206.50,417.53 L206.75,420.51 L207.00,426.59 L207.25,431.36 L207.50,434.04 L207.75,436.68 L208.00,440.36 L208.25,444.43 L208.50,444.62 L208.75,445.70 L209.00,448.31 L209.25,451.04 L209.50,453.58 L209.75,456.48 L210.00,459.67 L210.25,461.69 L210.50,460.90 L210.75,461.17 L211.00,459.24 L211.25,458.77 L211.50,459.06 L211.75,458.38 L212.00,453.57 L212.25,451.74 L212.50,449.27 L212.75,445.12 L213.00,441.75 L213.25,435.26 L213.50,433.41 L213.75,430.05 L214.00,432.17 L214.25,431.31 L214.50,428.05 L214.75,422.57 L215.00,421.72 L215.25,419.42 L215.50,417.32 L215.75,417.72 L216.00,416.05 L216.25,416.72 L216.50,414.76 L216.75,416.40 L217.00,412.66 L217.25,409.20 L217.50,410.47 L217.75,411.99 L218.00,412.19 L218.25,407.82 L218.50,406.68 L218.75,406.42 L219.00,402.19 L219.25,400.06 L219.50,395.55 L219.75,395.04 L220.00,391.83 L220.25,387.15 L220.50,382.61 L220.75,379.48 L221.00,379.06 L221.25,377.26 L221.50,371.49 L221.75,367.15 L222.00,364.05 L222.25,364.77 L222.50,364.72 L222.75,364.74 L223.00,367.79 L223.25,366.16 L223.50,369.20 L223.75,368.64 L224.00,370.52 L224.25,370.39 L224.50,370.88 L224.75,375.38 L225.00,379.65 L225.25,380.89 L225.50,379.55 L225.75,379.97 L226.00,379.60 L226.25,384.80 L226.50,386.11 L226.75,389.07 L227.00,388.94 L227.25,388.38 L227.50,392.08 L227.75,395.45 L228.00,401.47 L228.25,404.41 L228.50,406.92 L228.75,408.90 L229.00,409.42 L229.25,411.91 L229.50,416.17 L229.75,416.11 L230.00,419.92 L230.25,422.45 L230.50,428.27 L230.75,429.12 L231.00,433.12 L231.25,441.74 L231.50,449.64 L231.75,450.16 L232.00,451.53 L232.25,453.51 L232.50,456.70 L232.75,454.76 L233.00,455.21 L233.25,454.38 L233.50,456.53 L233.75,448.97 L234.00,443.73 L234.25,438.56 L234.50,441.00 L234.75,441.92 L235.00,446.12 L235.25,445.13 L235.50,448.22 L235.75,447.06 L236.00,448.54 L236.25,446.70 L236.50,443.21 L236.75,440.28 L237.00,438.39 L237.25,439.65 L237.50,438.34 L237.75,437.52 L238.00,432.40 L238.25,432.83 L238.50,434.58 L238.75,434.45 L239.00,426.53 L239.25,418.03 L239.50,413.85 L239.75,412.12 L240.00,408.68 L240.25,404.59 L240.50,404.07 L240.75,402.37 L241.00,400.73 L241.25,399.23 L241.50,399.74 L241.75,398.47 L242.00,394.55 L242.25,390.38 L242.50,388.44 L242.75,387.78 L243.00,383.33 L243.25,382.30 L243.50,380.05 L243.75,379.64 L244.00,378.62 L244.25,378.58 L244.50,378.83 L244.75,375.15 L245.00,374.05 L245.25,374.18 L245.50,375.84 L245.75,377.41 L246.00,375.47 L246.25,375.42 M251.25,382.97 L251.50,386.70 L251.75,385.97 L252.00,390.17 L252.25,392.17 L252.50,397.96 L252.75,398.83 L253.00,401.43 L253.25,404.13 L253.50,406.51 L253.75,412.59 L254.00,416.01 L254.25,421.90 L254.50,421.17 L254.75,424.70 L255.00,425.54 L255.25,426.91 L255.50,423.36 L255.75,421.31 L256.00,421.12 L256.25,421.52 L256.50,424.39 L256.75,428.67 L257.00,432.11 L257.25,431.66 L257.50,427.07 L257.75,423.72 L258.00,426.09 L258.25,424.98 L258.50,426.93 L258.75,424.73 L259.00,429.47 L259.25,429.69 L259.50,432.66 L259.75,435.95 L260.00,441.55 L260.25,445.83 L260.50,445.54 L260.75,446.36 L261.00,443.32 L261.25,442.35 L261.50,441.93 L261.75,437.67 L262.00,436.35 L262.25,429.95 L262.50,431.63 L262.75,426.95 L263.00,427.56 L263.25,423.31 L263.50,423.67 L263.75,424.98 L264.00,426.22 L264.25,424.33 L264.50,418.78 L264.75,417.84 L265.00,419.42 L265.25,419.53 L265.50,414.91 L265.75,409.54 L266.00,406.20 L266.25,401.56 L266.50,396.41 L266.75,391.69 L267.00,392.58 L267.25,392.40 L267.50,392.63 L267.75,392.51 L268.00,390.41 L268.25,389.06 L268.50,386.59 L268.75,384.67 L269.00,382.44 L269.25,379.08 L269.50,378.08 L269.75,376.73 L270.00,378.64 L270.25,379.71 L270.50,377.86 L270.75,375.75 L271.00,373.83 L271.25,373.60 L271.50,369.00 L271.75,365.98 L272.00,364.22 L272.25,365.86 L272.50,365.96 L272.75,366.47 L273.00,366.79 L273.25,366.87 L273.50,368.14 L273.75,370.72 L274.00,372.94 L274.25,376.19 L274.50,376.20 L274.75,382.82 L275.00,384.72 L275.25,389.49 L275.50,391.03 L275.75,396.50 L276.00,394.17 L276.25,395.42 L276.50,394.50 L276.75,398.53 L277.00,400.81 L277.25,402.63 L277.50,408.70 L277.75,410.30 L278.00,413.80 L278.25,412.89 L278.50,414.86 L278.75,418.20 L279.00,423.57 L279.25,426.98 L279.50,425.00 L279.75,422.64 L280.00,421.49 M286.50,450.84 L286.75,445.83 L287.00,451.49 L287.25,453.28 L287.50,448.71 L287.75,447.23 L288.00,441.79 L288.25,437.98 L288.50,429.00 L288.75,423.32 L289.00,421.29 L289.25,414.51 L289.50,414.47 L289.75,413.93 L290.00,415.17 L290.25,409.34 L290.50,405.36 L290.75,402.27 L291.00,403.56 L291.25,403.59 L291.50,401.34 L291.75,396.39 L292.00,390.51 L292.25,391.85 L292.50,394.59 L292.75,397.21 L293.00,395.12 L293.25,390.52 L293.50,385.91 L293.75,385.75 L294.00,384.18 L294.25,382.67 L294.50,378.03 L294.75,376.48 L295.00,375.28 L295.25,373.28 L295.50,372.19 L295.75,371.00 L296.00,372.86 L296.25,372.54 L296.50,373.20 L296.75,375.63 L297.00,375.87 L297.25,376.68 L297.50,372.65 L297.75,374.64 L298.00,375.54 L298.25,378.03 L298.50,379.27 L298.75,381.30 L299.00,385.93 L299.25,384.46 L299.50,387.69 L299.75,386.82 L300.00,390.12 L300.25,388.43 L300.50,388.40 L300.75,389.61 L301.00,389.70 L301.25,391.73 L301.50,390.09 L301.75,395.55 L302.00,397.66 L302.25,404.94 L302.50,406.45 L302.75,408.66 L303.00,407.97 L303.25,410.28 L303.50,413.79 L303.75,416.75 L304.00,416.44 L304.25,413.77 L304.50,414.72 L304.75,416.63 L305.00,421.68 L305.25,424.40 L305.50,426.50 L305.75,429.61 L306.00,431.42 L306.25,432.91 L306.50,432.63 L306.75,434.83 L307.00,433.30 L307.25,432.84 L307.50,431.27 L307.75,435.06 L308.00,437.51 L308.25,438.76 L308.50,436.32 L308.75,433.82 L309.00,432.24 L309.25,429.68 L309.50,427.24 L309.75,427.08 L310.00,427.87 L310.25,427.97 L310.50,424.73 L310.75,424.50 L311.00,422.34 L311.25,420.13 L311.50,416.82 L311.75,416.55 L312.00,417.17 L312.25,415.56 L312.50,411.89 L312.75,408.12 L313.00,407.07 L313.25,408.56 L313.50,406.44 L313.75,404.72 L314.00,401.14 L314.25,402.21 L314.50,403.78 L314.75,404.56 L315.00,404.30 L315.25,400.56 L315.50,399.17 L315.75,403.38 L316.00,403.94 L316.25,401.71 L316.50,392.65 L316.75,388.72 L317.00,382.73 L317.25,379.91 L317.50,376.28 L317.75,376.10 L318.00,377.90 L318.25,376.06 L318.50,373.97 L318.75,369.98 L319.00,367.75 L319.25,365.40 L319.50,363.33 L319.75,363.14 L320.00,363.58 L320.25,362.50 L320.50,363.66 L320.75,363.73 L321.00,369.13 L321.25,370.92 L321.50,376.17 L321.75,375.34 L322.00,375.23 L322.25,373.40 L322.50,373.38 L322.75,374.38 L323.00,371.94 L323.25,373.64 L323.50,372.82 L323.75,378.50 L324.00,378.64 L324.25,381.27 L324.50,382.06 L324.75,383.16 L325.00,384.64 L325.25,387.56 L325.50,390.42 L325.75,394.61 L326.00,398.26 L326.25,400.95 L326.50,404.15 L326.75,401.55 L327.00,405.23 L327.25,403.88 L327.50,409.37 L327.75,407.41 L328.00,411.66 L328.25,412.47 L328.50,416.56 L328.75,418.24 L329.00,418.93 L329.25,419.65 L329.50,423.60 L329.75,429.54 L330.00,438.02 L330.25,439.40 L330.50,437.31 L330.75,433.37 L331.00,433.23 L331.25,435.63 L331.50,437.80 L331.75,438.89 L332.00,438.10 L332.25,440.15 L332.50,438.74 L332.75,441.75 L333.00,439.21 L333.25,441.29 L333.50,439.33 L333.75,440.31 L334.00,440.53 L334.25,439.54 L334.50,438.64 L334.75,431.81 L335.00,430.87 L335.25,428.96 L335.50,432.48 L335.75,432.29 L336.00,433.92 L336.25,432.24 L336.50,428.86 L336.75,426.16 L337.00,424.56 L337.25,425.78 L337.50,422.18 L337.75,420.23 L338.00,416.07 L338.25,413.74 L338.50,413.72 L338.75,411.31 L339.00,410.81 L339.25,407.25 L339.50,405.65 L339.75,403.56 L340.00,404.30 L340.25,402.62 L340.50,402.09 L340.75,399.68 L341.00,400.61 L341.25,395.74 L341.50,392.78 L341.75,392.74 L342.00,391.03 L342.25,385.58 L342.50,377.23 L342.75,377.30 L343.00,378.41 L343.25,378.42 L343.50,374.20 L343.75,372.56 L344.00,373.57 L344.25,372.47 L344.50,370.43 L344.75,369.88 L345.00,370.92 L345.25,370.82 L345.50,368.33 L345.75,366.98 L346.00,366.64 L346.25,366.72 L346.50,369.10 L346.75,374.30 L347.00,376.44 L347.25,376.48 L347.50,373.59 L347.75,376.90 L348.00,381.39 L348.25,384.38 L348.50,384.13 L348.75,385.55 L349.00,388.64 L349.25,394.05 L349.50,395.60 L349.75,399.91 L350.00,400.77 L350.25,403.67 L350.50,404.84 L350.75,409.63 L351.00,412.38 L351.25,412.71 L351.50,411.01 L351.75,411.59 L352.00,412.42 L352.25,411.93 L352.50,410.38 L352.75,412.47 L353.00,413.37 L353.25,414.86 L353.50,414.60 L353.75,416.85 L354.00,416.91 L354.25,417.92 L354.50,413.75 L354.75,415.92 L355.00,417.65 L355.25,425.01 L355.50,425.57 L355.75,429.88 L356.00,432.07 L356.25,438.20 L356.50,438.24 L356.75,438.75 L357.00,435.90 L357.25,437.41 L357.50,436.74 L357.75,435.28 L358.00,433.23 L358.25,432.87 L358.50,436.24 L358.75,439.01 L359.00,438.36 L359.25,434.59 L359.50,430.70 L359.75,432.96 L360.00,433.90 L360.25,432.49 L360.50,427.30 L360.75,425.45 L361.00,425.02 L361.25,424.84 L361.50,427.85 L361.75,424.26 L362.00,423.10 L362.25,416.97 L362.50,415.38 L362.75,414.35 L363.00,414.43 L363.25,415.51 L363.50,416.25 L363.75,414.05 L364.00,410.24 L364.25,406.42 L364.50,402.73 L364.75,400.35 L365.00,395.37 L365.25,395.05 L365.50,395.24 L365.75,391.88 L366.00,386.91 L366.25,381.86 L366.50,381.66 L366.75,381.34 L367.00,380.01 L367.25,379.13 L367.50,381.21 L367.75,379.37 L368.00,380.55 L368.25,377.53 L368.50,378.89 L368.75,375.77 L369.00,377.46 L369.25,374.74 L369.50,373.80 L369.75,369.73 L370.00,369.34 L370.25,371.36 L370.50,377.31 L370.75,378.63 L371.00,375.20 L371.25,368.38 L371.50,369.78 L371.75,372.08 L372.00,373.58 L372.25,376.03 L372.50,377.78 L372.75,380.47 L373.00,376.75 L373.25,378.75 L373.50,377.69 L373.75,383.00 L374.00,387.52 L374.25,389.40 L374.50,393.93 L374.75,393.34 L375.00,397.25 L375.25,399.73 L375.50,405.89 L375.75,410.24 L376.00,412.67 L376.25,416.04 L376.50,422.33 L376.75,425.54 L377.00,424.15 L377.25,424.52 L377.50,424.05 L377.75,423.72 L378.00,421.57 L378.25,420.76 L378.50,422.15 L378.75,427.71 L379.00,429.36 L379.25,432.39 L379.50,431.94 L379.75,437.78 L380.00,443.17 L380.25,446.90 L380.50,446.91 L380.75,447.45 L381.00,447.69 L381.25,448.84 L381.50,445.66 L381.75,444.07 L382.00,442.27 L382.25,440.04 L382.50,438.73 L382.75,436.04 L383.00,438.13 L383.25,435.27 L383.50,434.03 L383.75,429.92 L384.00,428.99 L384.25,428.79 L384.50,427.75 L384.75,426.19 L385.00,421.60 L385.25,418.57 L385.50,418.84 L385.75,418.81 L386.00,420.32 L386.25,416.72 L386.50,417.18 L386.75,417.17 L387.00,414.40 L387.25,410.75 L387.50,407.87 L387.75,409.74 L388.00,408.60 L388.25,405.94 L388.50,401.05 L388.75,396.87 L389.00,390.43 L389.25,388.28 L389.50,385.06 L389.75,383.60 L390.00,381.78 L390.25,384.74 L390.50,383.58 L390.75,380.48 L391.00,372.90 L391.25,370.95 L391.50,369.85 L391.75,370.27 L392.00,373.69 L392.25,374.15 L392.50,376.83 L392.75,372.05 L393.00,371.14 L393.25,375.26 L393.50,375.61 L393.75,377.74 L394.00,371.51 L394.25,374.45 L394.50,372.91 L394.75,373.67 L395.00,373.40 L395.25,376.35 L395.50,376.45 L395.75,377.69 L396.00,377.81 L396.25,380.38 L396.50,383.21 L396.75,381.46 L397.00,383.35 L397.25,382.94 L397.50,386.27 L397.75,388.87 L398.00,392.10 L398.25,393.24 L398.50,392.51 L398.75,390.11 L399.00,391.65 L399.25,396.16 L399.50,400.01 L399.75,402.30 L400.00,402.08 L400.25,405.39 L400.50,411.46 L400.75,413.88 L401.00,418.05 L401.25,417.53 L401.50,424.00 L401.75,423.61 L402.00,427.62 L402.25,425.14 L402.50,425.07 L402.75,423.30 L403.00,427.96 L403.25,433.15 L403.50,437.09 L403.75,434.71 L404.00,433.15 L404.25,432.14 L404.50,433.47 L404.75,434.05 L405.00,434.39 L405.25,433.50 L405.50,435.96 L405.75,438.29 L406.00,445.55 L406.25,449.21 L406.50,452.29 L406.75,452.59 L407.00,451.12 L407.25,448.98 L407.50,448.01 L407.75,448.96 L408.00,450.86 L408.25,449.04 L408.50,448.14 L408.75,445.11 L409.00,442.62 L409.25,438.32 L409.50,434.22 L409.75,430.40 L410.00,425.80 L410.25,418.63 L410.50,413.13 L410.75,406.96 L411.00,405.02 L411.25,401.53 L411.50,399.87 L411.75,398.11 L412.00,394.72 L412.25,392.71 L412.50,389.88 L412.75,386.05 L413.00,383.65 L413.25,379.79 L413.50,380.17 L413.75,377.74 L414.00,379.91 L414.25,379.72 L414.50,376.55 L414.75,373.82 L415.00,371.82 L415.25,374.77 L415.50,373.68 L415.75,375.87 L416.00,376.15 L416.25,375.20 L416.50,370.33 L416.75,368.10 L417.00,367.81 L417.25,368.68 L417.50,367.60 L417.75,368.73 L418.00,370.23 L418.25,370.13 L418.50,371.10 L418.75,370.71 L419.00,372.21 L419.25,371.98 L419.50,371.16 L419.75,372.19 L420.00,372.28 L420.25,376.14 L420.50,378.53 L420.75,379.47 L421.00,379.12 L421.25,380.45 L421.50,382.40 L421.75,384.34 L422.00,384.96 L422.25,384.58 L422.50,387.08 L422.75,388.34 L423.00,392.13 L423.25,394.07 L423.50,399.05 L423.75,401.37 L424.00,403.59 L424.25,404.95 L424.50,409.44 L424.75,413.10 L425.00,417.47 L425.25,419.52 L425.50,424.47 L425.75,424.78 L426.00,428.87 L426.25,427.45 L426.50,426.91 L426.75,425.66 L427.00,426.67 L427.25,427.88 L427.50,428.89 L427.75,429.86 L428.00,432.47 L428.25,430.94 L428.50,430.54 L428.75,430.46 L429.00,435.66 L429.25,436.30 L429.50,439.31 L429.75,436.52 L430.00,438.74 L430.25,432.74 L430.50,434.92 L430.75,429.99 L431.00,430.62 L431.25,429.63 L431.50,430.85 L431.75,428.81 L432.00,423.24 L432.25,424.55 L432.50,426.78 L432.75,429.54 L433.00,427.59 L433.25,426.79 L433.50,420.98 L433.75,418.05 L434.00,416.24 L434.25,418.47 L434.50,416.39 L434.75,413.71 L435.00,413.42 L435.25,410.99 L435.50,412.66 L435.75,410.56 L436.00,411.11 L436.25,405.70 L436.50,404.85 L436.75,404.16 L437.00,403.60 L437.25,400.44 L437.50,397.06 L437.75,395.00 L438.00,392.67 L438.25,390.12 L438.50,386.56 L438.75,383.09 L439.00,378.16 L439.25,379.88 L439.50,378.95 L439.75,377.39 L440.00,372.31 L440.25,371.13 L440.50,372.59 L440.75,371.34 L441.00,370.97 L441.25,370.07 L441.50,371.62 L441.75,370.50 L442.00,371.35 L442.25,368.86 L442.50,369.85 L442.75,369.67 L443.00,369.81 L443.25,369.80 L443.50,371.95 L443.75,372.74 L444.00,371.86 L444.25,371.05 L444.50,373.58 L444.75,377.30 L445.00,374.62 L445.25,378.50 L445.50,379.70 L445.75,388.54 L446.00,389.60 L446.25,388.40 L446.50,387.98 L446.75,388.21 L447.00,393.21 L447.25,392.35 L447.50,395.16 L447.75,398.68 L448.00,402.80 L448.25,406.29 L448.50,406.17 L448.75,410.15 L449.00,412.17 L449.25,415.64 L449.50,419.66 L449.75,424.45 L450.00,424.76 L450.25,424.82 L450.50,422.91 L450.75,425.73 L451.00,429.18 L451.25,432.06 L451.50,429.46 L451.75,427.77 L452.00,426.55 L452.25,431.18 L452.50,430.81 L452.75,430.76 L453.00,428.74 L453.25,427.97 L453.50,428.27 L453.75,428.67 L454.00,428.35 L454.25,426.58 L454.50,425.57 L454.75,422.42 L455.00,422.17 L455.25,421.29 L455.50,424.78 L455.75,423.28 L456.00,425.04 L456.25,426.54 L456.50,429.79 L456.75,427.38 L457.00,426.87 L457.25,423.41 L457.50,424.28 L457.75,424.45 L458.00,426.16 L458.25,422.34 L458.50,420.06 L458.75,420.25 L459.00,420.57 L459.25,415.52 L459.50,410.28 L459.75,410.10 L460.00,410.42 L460.25,410.13 L460.50,406.44 L460.75,402.09 L461.00,401.53 L461.25,399.91 L461.50,402.21 L461.75,399.24 L462.00,400.68 L462.25,399.03 L462.50,396.77 L462.75,393.96 L463.00,388.56 L463.25,387.28 L463.50,383.34 L463.75,382.85 L464.00,380.88 L464.25,379.56 L464.50,376.88 L464.75,371.00 L465.00,373.02 L465.25,374.11 L465.50,378.94 L465.75,377.96 L466.00,377.23 L466.25,377.39 L466.50,374.91 L466.75,372.05 L467.00,372.37 L467.25,370.62 L467.50,371.24 L467.75,369.52 L468.00,369.66 L468.25,370.98 L468.50,371.80 L468.75,373.09 L469.00,378.45 L469.25,379.57 L469.50,384.46 L469.75,386.59 L470.00,390.33 L470.25,392.89 L470.50,392.23 L470.75,396.53 L471.00,398.49 L471.25,402.71 L471.50,400.01 L471.75,403.53 L472.00,403.14 L472.25,410.32 L472.50,409.87 L472.75,413.55 L473.00,411.90 L473.25,415.27 L473.50,419.92 L473.75,424.81 L474.00,423.55 L474.25,422.12 L474.50,423.10 L474.75,425.87 L475.00,429.57 L475.25,431.51 L475.50,436.88 L475.75,435.77 L476.00,433.33 L476.25,434.65 L476.50,437.66 L476.75,440.72 L477.00,437.29 L477.25,442.82 L477.50,445.22 L477.75,448.42 L478.00,447.66 L478.25,447.73 L478.50,448.73 L478.75,445.35 L479.00,446.97 L479.25,446.68 L479.50,448.59 L479.75,446.28 L480.00,446.01 L480.25,444.73 L480.50,446.75 L480.75,442.99 L481.00,438.98 L481.25,433.70 L481.50,435.84 L481.75,436.79 L482.00,434.33 L482.25,431.03 L482.50,430.91 L482.75,432.70 L483.00,433.03 L483.25,431.31 L483.50,432.01 L483.75,429.23 L484.00,426.80 L484.25,424.27 L484.50,427.22 L484.75,427.39 L485.00,425.31 L485.25,419.68 L485.50,417.41 L485.75,413.48 L486.00,412.21 L486.25,410.14 L486.50,413.39 L486.75,412.31 L487.00,410.09 L487.25,402.43 L487.50,396.73 L487.75,389.15 L488.00,386.20 L488.25,386.12 L488.50,382.46 L488.75,380.10 L489.00,377.13 L489.25,379.82 L489.50,381.19 L489.75,378.69 L490.00,376.78 L490.25,371.42 L490.50,370.13 L490.75,368.98 L491.00,369.31 L491.25,371.34 L491.50,373.32 L491.75,375.37 L492.00,376.95 L492.25,376.60 L492.50,377.24 L492.75,374.50 L493.00,374.61 L493.25,377.42 L493.50,378.94 L493.75,377.51 L494.00,378.54 L494.25,381.24 L494.50,385.23 L494.75,386.53 L495.00,388.61 L495.25,391.09 L495.50,393.26 L495.75,393.74 L496.00,395.19" stroke="#34e834" stroke-width="1.2" fill="none" stroke-linejoin="round"/>
<circle cx="33.20" cy="414.60" r="0.9" fill="#000"/>
<circle cx="35.40" cy="427.39" r="0.9" fill="#000"/>
<circle cx="37.30" cy="450.12" r="0.9" fill="#000"/>
<circle cx="39.50" cy="450.12" r="0.9" fill="#000"/>
<circle cx="41.70" cy="450.12" r="0.9" fill="#000"/>
<circle cx="43.70" cy="431.65" r="0.9" fill="#000"/>
<circle cx="45.60" cy="416.97" r="0.9" fill="#000"/>
<circle cx="47.60" cy="401.34" r="0.9" fill="#000"/>
<circle cx="49.50" cy="366.30" r="0.9" fill="#000"/>
<circle cx="52.00" cy="366.30" r="0.9" fill="#000"/>
<circle cx="53.90" cy="374.82" r="0.9" fill="#000"/>
<circle cx="55.90" cy="379.56" r="0.9" fill="#000"/>
<circle cx="58.00" cy="416.02" r="0.9" fill="#000"/>
<circle cx="60.00" cy="422.18" r="0.9" fill="#000"/>
<circle cx="62.00" cy="433.55" r="0.9" fill="#000"/>
<circle cx="64.10" cy="443.02" r="0.9" fill="#000"/>
<circle cx="66.10" cy="433.55" r="0.9" fill="#000"/>
<circle cx="68.00" cy="428.81" r="0.9" fill="#000"/>
<circle cx="70.00" cy="410.34" r="0.9" fill="#000"/>
<circle cx="72.00" cy="399.92" r="0.9" fill="#000"/>
<circle cx="74.10" cy="385.71" r="0.9" fill="#000"/>
<circle cx="76.10" cy="378.61" r="0.9" fill="#000"/>
<circle cx="78.00" cy="355.88" r="0.9" fill="#000"/>
<circle cx="80.20" cy="382.87" r="0.9" fill="#000"/>
<circle cx="82.20" cy="398.50" r="0.9" fill="#000"/>
<circle cx="84.10" cy="424.08" r="0.9" fill="#000"/>
<circle cx="86.20" cy="438.28" r="0.9" fill="#000"/>
<circle cx="88.40" cy="443.49" r="0.9" fill="#000"/>
<circle cx="90.40" cy="444.44" r="0.9" fill="#000"/>
<circle cx="92.30" cy="434.50" r="0.9" fill="#000"/>
<circle cx="94.30" cy="411.29" r="0.9" fill="#000"/>
<circle cx="96.50" cy="398.50" r="0.9" fill="#000"/>
<circle cx="98.40" cy="374.82" r="0.9" fill="#000"/>
<circle cx="100.40" cy="371.51" r="0.9" fill="#000"/>
<circle cx="102.30" cy="376.72" r="0.9" fill="#000"/>
<circle cx="104.30" cy="377.19" r="0.9" fill="#000"/>
<circle cx="106.50" cy="390.92" r="0.9" fill="#000"/>
<circle cx="108.70" cy="414.60" r="0.9" fill="#000"/>
<circle cx="110.90" cy="431.65" r="0.9" fill="#000"/>
<circle cx="112.80" cy="450.12" r="0.9" fill="#000"/>
<circle cx="114.80" cy="443.49" r="0.9" fill="#000"/>
<circle cx="116.70" cy="443.02" r="0.9" fill="#000"/>
<circle cx="118.90" cy="418.87" r="0.9" fill="#000"/>
<circle cx="120.90" cy="394.24" r="0.9" fill="#000"/>
<circle cx="122.80" cy="381.93" r="0.9" fill="#000"/>
<circle cx="124.80" cy="356.82" r="0.9" fill="#000"/>
<circle cx="127.00" cy="371.51" r="0.9" fill="#000"/>
<circle cx="128.90" cy="369.14" r="0.9" fill="#000"/>
<circle cx="131.10" cy="388.56" r="0.9" fill="#000"/>
<circle cx="132.90" cy="409.39" r="0.9" fill="#000"/>
<circle cx="135.10" cy="418.39" r="0.9" fill="#000"/>
<circle cx="137.10" cy="421.71" r="0.9" fill="#000"/>
<circle cx="139.30" cy="430.23" r="0.9" fill="#000"/>
<circle cx="141.00" cy="415.08" r="0.9" fill="#000"/>
<circle cx="143.20" cy="401.34" r="0.9" fill="#000"/>
<circle cx="145.10" cy="392.82" r="0.9" fill="#000"/>
<circle cx="147.10" cy="372.93" r="0.9" fill="#000"/>
<circle cx="149.30" cy="373.40" r="0.9" fill="#000"/>
<circle cx="151.20" cy="371.03" r="0.9" fill="#000"/>
<circle cx="153.40" cy="384.77" r="0.9" fill="#000"/>
<circle cx="155.40" cy="401.34" r="0.9" fill="#000"/>
<circle cx="157.60" cy="418.39" r="0.9" fill="#000"/>
<circle cx="159.50" cy="430.23" r="0.9" fill="#000"/>
<circle cx="161.70" cy="428.34" r="0.9" fill="#000"/>
<circle cx="163.70" cy="428.34" r="0.9" fill="#000"/>
<circle cx="165.60" cy="427.39" r="0.9" fill="#000"/>
<circle cx="167.60" cy="414.60" r="0.9" fill="#000"/>
<circle cx="169.80" cy="387.61" r="0.9" fill="#000"/>
<circle cx="171.70" cy="378.14" r="0.9" fill="#000"/>
<circle cx="173.70" cy="369.14" r="0.9" fill="#000"/>
<circle cx="175.80" cy="373.40" r="0.9" fill="#000"/>
<circle cx="177.90" cy="386.19" r="0.9" fill="#000"/>
<circle cx="179.90" cy="402.76" r="0.9" fill="#000"/>
<circle cx="181.80" cy="417.92" r="0.9" fill="#000"/>
<circle cx="183.80" cy="438.28" r="0.9" fill="#000"/>
<circle cx="185.70" cy="447.76" r="0.9" fill="#000"/>
<circle cx="187.90" cy="443.02" r="0.9" fill="#000"/>
<circle cx="189.90" cy="428.81" r="0.9" fill="#000"/>
<circle cx="191.80" cy="402.76" r="0.9" fill="#000"/>
<circle cx="193.80" cy="394.71" r="0.9" fill="#000"/>
<circle cx="195.70" cy="385.71" r="0.9" fill="#000"/>
<circle cx="197.90" cy="370.56" r="0.9" fill="#000"/>
<circle cx="199.90" cy="365.82" r="0.9" fill="#000"/>
<circle cx="201.80" cy="378.14" r="0.9" fill="#000"/>
<circle cx="204.00" cy="404.66" r="0.9" fill="#000"/>
<circle cx="206.00" cy="411.29" r="0.9" fill="#000"/>
<circle cx="207.90" cy="443.02" r="0.9" fill="#000"/>
<circle cx="210.10" cy="461.96" r="0.9" fill="#000"/>
<circle cx="212.10" cy="454.86" r="0.9" fill="#000"/>
<circle cx="214.00" cy="430.23" r="0.9" fill="#000"/>
<circle cx="216.20" cy="417.45" r="0.9" fill="#000"/>
<circle cx="218.20" cy="409.39" r="0.9" fill="#000"/>
<circle cx="220.40" cy="384.77" r="0.9" fill="#000"/>
<circle cx="222.30" cy="360.61" r="0.9" fill="#000"/>
<circle cx="224.50" cy="373.40" r="0.9" fill="#000"/>
<circle cx="226.60" cy="385.71" r="0.9" fill="#000"/>
<circle cx="228.50" cy="398.98" r="0.9" fill="#000"/>
<circle cx="230.50" cy="425.97" r="0.9" fill="#000"/>
<circle cx="232.40" cy="460.07" r="0.9" fill="#000"/>
<circle cx="234.60" cy="443.02" r="0.9" fill="#000"/>
<circle cx="236.60" cy="443.49" r="0.9" fill="#000"/>
<circle cx="238.50" cy="432.60" r="0.9" fill="#000"/>
<circle cx="240.50" cy="402.76" r="0.9" fill="#000"/>
<circle cx="242.40" cy="392.34" r="0.9" fill="#000"/>
<circle cx="244.60" cy="380.03" r="0.9" fill="#000"/>
<circle cx="252.70" cy="399.92" r="0.9" fill="#000"/>
<circle cx="254.60" cy="422.66" r="0.9" fill="#000"/>
<circle cx="256.80" cy="425.97" r="0.9" fill="#000"/>
<circle cx="258.80" cy="431.65" r="0.9" fill="#000"/>
<circle cx="261.00" cy="449.18" r="0.9" fill="#000"/>
<circle cx="262.90" cy="422.66" r="0.9" fill="#000"/>
<circle cx="264.90" cy="417.92" r="0.9" fill="#000"/>
<circle cx="266.80" cy="393.29" r="0.9" fill="#000"/>
<circle cx="268.80" cy="386.66" r="0.9" fill="#000"/>
<circle cx="271.10" cy="373.40" r="0.9" fill="#000"/>
<circle cx="273.00" cy="366.30" r="0.9" fill="#000"/>
<circle cx="275.00" cy="382.87" r="0.9" fill="#000"/>
<circle cx="277.00" cy="403.24" r="0.9" fill="#000"/>
<circle cx="279.10" cy="420.29" r="0.9" fill="#000"/>
<circle cx="287.20" cy="453.68" r="0.9" fill="#000"/>
<circle cx="289.10" cy="418.87" r="0.9" fill="#000"/>
<circle cx="291.10" cy="403.24" r="0.9" fill="#000"/>
<circle cx="293.30" cy="389.50" r="0.9" fill="#000"/>
<circle cx="295.20" cy="371.98" r="0.9" fill="#000"/>
<circle cx="297.40" cy="372.93" r="0.9" fill="#000"/>
<circle cx="299.40" cy="384.77" r="0.9" fill="#000"/>
<circle cx="301.60" cy="397.08" r="0.9" fill="#000"/>
<circle cx="303.50" cy="414.60" r="0.9" fill="#000"/>
<circle cx="305.50" cy="425.97" r="0.9" fill="#000"/>
<circle cx="307.70" cy="439.23" r="0.9" fill="#000"/>
<circle cx="309.60" cy="428.34" r="0.9" fill="#000"/>
<circle cx="311.80" cy="416.02" r="0.9" fill="#000"/>
<circle cx="313.80" cy="404.18" r="0.9" fill="#000"/>
<circle cx="315.90" cy="401.34" r="0.9" fill="#000"/>
<circle cx="317.80" cy="381.45" r="0.9" fill="#000"/>
<circle cx="320.00" cy="358.25" r="0.9" fill="#000"/>
<circle cx="322.00" cy="374.35" r="0.9" fill="#000"/>
<circle cx="323.90" cy="374.35" r="0.9" fill="#000"/>
<circle cx="325.90" cy="393.29" r="0.9" fill="#000"/>
<circle cx="328.00" cy="415.08" r="0.9" fill="#000"/>
<circle cx="330.00" cy="432.60" r="0.9" fill="#000"/>
<circle cx="332.00" cy="437.81" r="0.9" fill="#000"/>
<circle cx="333.90" cy="437.81" r="0.9" fill="#000"/>
<circle cx="336.10" cy="426.92" r="0.9" fill="#000"/>
<circle cx="338.00" cy="417.92" r="0.9" fill="#000"/>
<circle cx="340.00" cy="402.76" r="0.9" fill="#000"/>
<circle cx="342.00" cy="388.56" r="0.9" fill="#000"/>
<circle cx="344.10" cy="371.51" r="0.9" fill="#000"/>
<circle cx="346.10" cy="366.30" r="0.9" fill="#000"/>
<circle cx="348.00" cy="384.77" r="0.9" fill="#000"/>
<circle cx="350.20" cy="401.82" r="0.9" fill="#000"/>
<circle cx="352.20" cy="414.60" r="0.9" fill="#000"/>
<circle cx="354.40" cy="411.29" r="0.9" fill="#000"/>
<circle cx="356.30" cy="439.23" r="0.9" fill="#000"/>
<circle cx="358.50" cy="433.55" r="0.9" fill="#000"/>
<circle cx="360.90" cy="428.81" r="0.9" fill="#000"/>
<circle cx="362.80" cy="417.45" r="0.9" fill="#000"/>
<circle cx="364.80" cy="399.92" r="0.9" fill="#000"/>
<circle cx="366.70" cy="378.14" r="0.9" fill="#000"/>
<circle cx="368.90" cy="374.82" r="0.9" fill="#000"/>
<circle cx="370.90" cy="372.45" r="0.9" fill="#000"/>
<circle cx="372.80" cy="373.40" r="0.9" fill="#000"/>
<circle cx="375.00" cy="398.98" r="0.9" fill="#000"/>
<circle cx="377.00" cy="425.97" r="0.9" fill="#000"/>
<circle cx="378.90" cy="428.34" r="0.9" fill="#000"/>
<circle cx="380.90" cy="447.28" r="0.9" fill="#000"/>
<circle cx="382.80" cy="439.23" r="0.9" fill="#000"/>
<circle cx="384.80" cy="421.71" r="0.9" fill="#000"/>
<circle cx="386.70" cy="416.97" r="0.9" fill="#000"/>
<circle cx="388.70" cy="395.19" r="0.9" fill="#000"/>
<circle cx="390.90" cy="378.14" r="0.9" fill="#000"/>
<circle cx="392.80" cy="374.35" r="0.9" fill="#000"/>
<circle cx="394.80" cy="372.93" r="0.9" fill="#000"/>
<circle cx="396.70" cy="385.24" r="0.9" fill="#000"/>
<circle cx="398.90" cy="392.34" r="0.9" fill="#000"/>
<circle cx="400.90" cy="416.97" r="0.9" fill="#000"/>
<circle cx="402.80" cy="431.18" r="0.9" fill="#000"/>
<circle cx="404.80" cy="434.97" r="0.9" fill="#000"/>
<circle cx="407.30" cy="451.54" r="0.9" fill="#000"/>
<circle cx="409.30" cy="443.49" r="0.9" fill="#000"/>
<circle cx="411.20" cy="399.92" r="0.9" fill="#000"/>
<circle cx="413.20" cy="381.93" r="0.9" fill="#000"/>
<circle cx="415.40" cy="378.61" r="0.9" fill="#000"/>
<circle cx="417.30" cy="365.35" r="0.9" fill="#000"/>
<circle cx="419.30" cy="366.30" r="0.9" fill="#000"/>
<circle cx="421.20" cy="380.98" r="0.9" fill="#000"/>
<circle cx="423.40" cy="394.71" r="0.9" fill="#000"/>
<circle cx="425.40" cy="422.18" r="0.9" fill="#000"/>
<circle cx="427.30" cy="426.92" r="0.9" fill="#000"/>
<circle cx="429.50" cy="438.28" r="0.9" fill="#000"/>
<circle cx="431.50" cy="428.34" r="0.9" fill="#000"/>
<circle cx="433.40" cy="421.71" r="0.9" fill="#000"/>
<circle cx="435.60" cy="410.82" r="0.9" fill="#000"/>
<circle cx="437.60" cy="403.24" r="0.9" fill="#000"/>
<circle cx="439.50" cy="373.40" r="0.9" fill="#000"/>
<circle cx="441.70" cy="371.51" r="0.9" fill="#000"/>
<circle cx="443.70" cy="366.30" r="0.9" fill="#000"/>
<circle cx="445.60" cy="382.87" r="0.9" fill="#000"/>
<circle cx="447.80" cy="398.98" r="0.9" fill="#000"/>
<circle cx="449.80" cy="423.13" r="0.9" fill="#000"/>
<circle cx="451.80" cy="426.92" r="0.9" fill="#000"/>
<circle cx="454.00" cy="426.44" r="0.9" fill="#000"/>
<circle cx="455.90" cy="423.13" r="0.9" fill="#000"/>
<circle cx="457.90" cy="425.02" r="0.9" fill="#000"/>
<circle cx="459.80" cy="412.24" r="0.9" fill="#000"/>
<circle cx="461.80" cy="402.29" r="0.9" fill="#000"/>
<circle cx="464.00" cy="377.66" r="0.9" fill="#000"/>
<circle cx="465.90" cy="377.19" r="0.9" fill="#000"/>
<circle cx="467.90" cy="365.35" r="0.9" fill="#000"/>
<circle cx="469.80" cy="386.19" r="0.9" fill="#000"/>
<circle cx="472.00" cy="405.61" r="0.9" fill="#000"/>
<circle cx="474.00" cy="419.34" r="0.9" fill="#000"/>
<circle cx="475.90" cy="435.92" r="0.9" fill="#000"/>
<circle cx="477.80" cy="446.81" r="0.9" fill="#000"/>
<circle cx="480.00" cy="447.28" r="0.9" fill="#000"/>
<circle cx="482.00" cy="434.02" r="0.9" fill="#000"/>
<circle cx="483.90" cy="429.29" r="0.9" fill="#000"/>
<circle cx="486.10" cy="413.66" r="0.9" fill="#000"/>
<circle cx="488.10" cy="385.71" r="0.9" fill="#000"/>
<circle cx="490.00" cy="374.82" r="0.9" fill="#000"/>
<circle cx="491.90" cy="373.40" r="0.9" fill="#000"/>
<circle cx="494.10" cy="376.24" r="0.9" fill="#000"/>
<circle cx="496.10" cy="396.61" r="0.9" fill="#000"/>
<path d="M33.20,702.62 L35.40,724.00 L37.30,762.00 L39.50,762.00 L41.70,762.00 L43.70,731.12 L45.60,706.58 L47.60,680.46 L49.50,621.88 L52.00,621.88 L53.90,636.12 L55.90,644.04 L58.00,705.00 L60.00,715.29 L62.00,734.29 L64.10,750.12 L66.10,734.29 L68.00,726.38 L70.00,695.50 L72.00,678.08 L74.10,654.33 L76.10,642.46 L78.00,604.46 L80.20,649.58 L82.20,675.71 L84.10,718.46 L86.20,742.21 L88.40,750.92 L90.40,752.50 L92.30,735.88 L94.30,697.08 L96.50,675.71 L98.40,636.12 L100.40,630.58 L102.30,639.29 L104.30,640.08 L106.50,663.04 L108.70,702.62 L110.90,731.12 L112.80,762.00 L114.80,750.92 L116.70,750.12 L118.90,709.75 L120.90,668.58 L122.80,648.00 L124.80,606.04 L127.00,630.58 L128.90,626.62 L131.10,659.08 L132.90,693.92 L135.10,708.96 L137.10,714.50 L139.30,728.75 L141.00,703.42 L143.20,680.46 L145.10,666.21 L147.10,632.96 L149.30,633.75 L151.20,629.79 L153.40,652.75 L155.40,680.46 L157.60,708.96 L159.50,728.75 L161.70,725.58 L163.70,725.58 L165.60,724.00 L167.60,702.62 L169.80,657.50 L171.70,641.67 L173.70,626.62 L175.80,633.75 L177.90,655.12 L179.90,682.83 L181.80,708.17 L183.80,742.21 L185.70,758.04 L187.90,750.12 L189.90,726.38 L191.80,682.83 L193.80,669.38 L195.70,654.33 L197.90,629.00 L199.90,621.08 L201.80,641.67 L204.00,686.00 L206.00,697.08 L207.90,750.12 L210.10,781.79 L212.10,769.92 L214.00,728.75 L216.20,707.38 L218.20,693.92 L220.40,652.75 L222.30,612.38 L224.50,633.75 L226.60,654.33 L228.50,676.50 L230.50,721.62 L232.40,778.62 L234.60,750.12 L236.60,750.92 L238.50,732.71 L240.50,682.83 L242.40,665.42 L244.60,644.83 L246.60,633.75 L248.50,636.12 L250.70,640.88 L252.70,678.08 L254.60,716.08 L256.80,721.62 L258.80,731.12 L261.00,760.42 L262.90,716.08 L264.90,708.17 L266.80,667.00 L268.80,655.92 L271.10,633.75 L273.00,621.88 L275.00,649.58 L277.00,683.62 L279.10,712.12 M287.20,767.94 L289.10,709.75 L291.10,683.62 L293.30,660.67 L295.20,631.38 L297.40,632.96 L299.40,652.75 L301.60,673.33 L303.50,702.62 L305.50,721.62 L307.70,743.79 L309.60,725.58 L311.80,705.00 L313.80,685.21 L315.90,680.46 L317.80,647.21 L320.00,608.42 L322.00,635.33 L323.90,635.33 L325.90,667.00 L328.00,703.42 L330.00,732.71 L332.00,741.42 L333.90,741.42 L336.10,723.21 L338.00,708.17 L340.00,682.83 L342.00,659.08 L344.10,630.58 L346.10,621.88 L348.00,652.75 L350.20,681.25 L352.20,702.62 L354.40,697.08 L356.30,743.79 L358.50,734.29 L360.90,726.38 L362.80,707.38 L364.80,678.08 L366.70,641.67 L368.90,636.12 L370.90,632.17 L372.80,633.75 L375.00,676.50 L377.00,721.62 L378.90,725.58 L380.90,757.25 L382.80,743.79 L384.80,714.50 L386.70,706.58 L388.70,670.17 L390.90,641.67 L392.80,635.33 L394.80,632.96 L396.70,653.54 L398.90,665.42 L400.90,706.58 L402.80,730.33 L404.80,736.67 L407.30,764.38 L409.30,750.92 L411.20,678.08 L413.20,648.00 L415.40,642.46 L417.30,620.29 L419.30,621.88 L421.20,646.42 L423.40,669.38 L425.40,715.29 L427.30,723.21 L429.50,742.21 L431.50,725.58 L433.40,714.50 L435.60,696.29 L437.60,683.62 L439.50,633.75 L441.70,630.58 L443.70,621.88 L445.60,649.58 L447.80,676.50 L449.80,716.88 L451.80,723.21 L454.00,722.42 L455.90,716.88 L457.90,720.04 L459.80,698.67 L461.80,682.04 L464.00,640.88 L465.90,640.08 L467.90,620.29 L469.80,655.12 L472.00,687.58 L474.00,710.54 L475.90,738.25 L477.80,756.46 L480.00,757.25 L482.00,735.08 L483.90,727.17 L486.10,701.04 L488.10,654.33 L490.00,636.12 L491.90,633.75 L494.10,638.50 L496.10,672.54" stroke="#222" stroke-width="0.65" fill="none"/>
<circle cx="33.20" cy="702.62" r="1.05" fill="#111"/>
<circle cx="35.40" cy="724.00" r="1.05" fill="#111"/>
<circle cx="37.30" cy="762.00" r="1.05" fill="#111"/>
<circle cx="39.50" cy="762.00" r="1.05" fill="#111"/>
<circle cx="41.70" cy="762.00" r="1.05" fill="#111"/>
<circle cx="43.70" cy="731.12" r="1.05" fill="#111"/>
<circle cx="45.60" cy="706.58" r="1.05" fill="#111"/>
<circle cx="47.60" cy="680.46" r="1.05" fill="#111"/>
<circle cx="49.50" cy="621.88" r="1.05" fill="#111"/>
<circle cx="52.00" cy="621.88" r="1.05" fill="#111"/>
<circle cx="53.90" cy="636.12" r="1.05" fill="#111"/>
<circle cx="55.90" cy="644.04" r="1.05" fill="#111"/>
<circle cx="58.00" cy="705.00" r="1.05" fill="#111"/>
<circle cx="60.00" cy="715.29" r="1.05" fill="#111"/>
<circle cx="62.00" cy="734.29" r="1.05" fill="#111"/>
<circle cx="64.10" cy="750.12" r="1.05" fill="#111"/>
<circle cx="66.10" cy="734.29" r="1.05" fill="#111"/>
<circle cx="68.00" cy="726.38" r="1.05" fill="#111"/>
<circle cx="70.00" cy="695.50" r="1.05" fill="#111"/>
<circle cx="72.00" cy="678.08" r="1.05" fill="#111"/>
<circle cx="74.10" cy="654.33" r="1.05" fill="#111"/>
<circle cx="76.10" cy="642.46" r="1.05" fill="#111"/>
<circle cx="78.00" cy="604.46" r="1.05" fill="#111"/>
<circle cx="80.20" cy="649.58" r="1.05" fill="#111"/>
<circle cx="82.20" cy="675.71" r="1.05" fill="#111"/>
<circle cx="84.10" cy="718.46" r="1.05" fill="#111"/>
<circle cx="86.20" cy="742.21" r="1.05" fill="#111"/>
<circle cx="88.40" cy="750.92" r="1.05" fill="#111"/>
<circle cx="90.40" cy="752.50" r="1.05" fill="#111"/>
<circle cx="92.30" cy="735.88" r="1.05" fill="#111"/>
<circle cx="94.30" cy="697.08" r="1.05" fill="#111"/>
<circle cx="96.50" cy="675.71" r="1.05" fill="#111"/>
<circle cx="98.40" cy="636.12" r="1.05" fill="#111"/>
<circle cx="100.40" cy="630.58" r="1.05" fill="#111"/>
<circle cx="102.30" cy="639.29" r="1.05" fill="#111"/>
<circle cx="104.30" cy="640.08" r="1.05" fill="#111"/>
<circle cx="106.50" cy="663.04" r="1.05" fill="#111"/>
<circle cx="108.70" cy="702.62" r="1.05" fill="#111"/>
<circle cx="110.90" cy="731.12" r="1.05" fill="#111"/>
<circle cx="112.80" cy="762.00" r="1.05" fill="#111"/>
<circle cx="114.80" cy="750.92" r="1.05" fill="#111"/>
<circle cx="116.70" cy="750.12" r="1.05" fill="#111"/>
<circle cx="118.90" cy="709.75" r="1.05" fill="#111"/>
<circle cx="120.90" cy="668.58" r="1.05" fill="#111"/>
<circle cx="122.80" cy="648.00" r="1.05" fill="#111"/>
<circle cx="124.80" cy="606.04" r="1.05" fill="#111"/>
<circle cx="127.00" cy="630.58" r="1.05" fill="#111"/>
<circle cx="128.90" cy="626.62" r="1.05" fill="#111"/>
<circle cx="131.10" cy="659.08" r="1.05" fill="#111"/>
<circle cx="132.90" cy="693.92" r="1.05" fill="#111"/>
<circle cx="135.10" cy="708.96" r="1.05" fill="#111"/>
<circle cx="137.10" cy="714.50" r="1.05" fill="#111"/>
<circle cx="139.30" cy="728.75" r="1.05" fill="#111"/>
<circle cx="141.00" cy="703.42" r="1.05" fill="#111"/>
<circle cx="143.20" cy="680.46" r="1.05" fill="#111"/>
<circle cx="145.10" cy="666.21" r="1.05" fill="#111"/>
<circle cx="147.10" cy="632.96" r="1.05" fill="#111"/>
<circle cx="149.30" cy="633.75" r="1.05" fill="#111"/>
<circle cx="151.20" cy="629.79" r="1.05" fill="#111"/>
<circle cx="153.40" cy="652.75" r="1.05" fill="#111"/>
<circle cx="155.40" cy="680.46" r="1.05" fill="#111"/>
<circle cx="157.60" cy="708.96" r="1.05" fill="#111"/>
<circle cx="159.50" cy="728.75" r="1.05" fill="#111"/>
<circle cx="161.70" cy="725.58" r="1.05" fill="#111"/>
<circle cx="163.70" cy="725.58" r="1.05" fill="#111"/>
<circle cx="165.60" cy="724.00" r="1.05" fill="#111"/>
<circle cx="167.60" cy="702.62" r="1.05" fill="#111"/>
<circle cx="169.80" cy="657.50" r="1.05" fill="#111"/>
<circle cx="171.70" cy="641.67" r="1.05" fill="#111"/>
<circle cx="173.70" cy="626.62" r="1.05" fill="#111"/>
<circle cx="175.80" cy="633.75" r="1.05" fill="#111"/>
<circle cx="177.90" cy="655.12" r="1.05" fill="#111"/>
<circle cx="179.90" cy="682.83" r="1.05" fill="#111"/>
<circle cx="181.80" cy="708.17" r="1.05" fill="#111"/>
<circle cx="183.80" cy="742.21" r="1.05" fill="#111"/>
<circle cx="185.70" cy="758.04" r="1.05" fill="#111"/>
<circle cx="187.90" cy="750.12" r="1.05" fill="#111"/>
<circle cx="189.90" cy="726.38" r="1.05" fill="#111"/>
<circle cx="191.80" cy="682.83" r="1.05" fill="#111"/>
<circle cx="193.80" cy="669.38" r="1.05" fill="#111"/>
<circle cx="195.70" cy="654.33" r="1.05" fill="#111"/>
<circle cx="197.90" cy="629.00" r="1.05" fill="#111"/>
<circle cx="199.90" cy="621.08" r="1.05" fill="#111"/>
<circle cx="201.80" cy="641.67" r="1.05" fill="#111"/>
<circle cx="204.00" cy="686.00" r="1.05" fill="#111"/>
<circle cx="206.00" cy="697.08" r="1.05" fill="#111"/>
<circle cx="207.90" cy="750.12" r="1.05" fill="#111"/>
<circle cx="210.10" cy="781.79" r="1.05" fill="#111"/>
<circle cx="212.10" cy="769.92" r="1.05" fill="#111"/>
<circle cx="214.00" cy="728.75" r="1.05" fill="#111"/>
<circle cx="216.20" cy="707.38" r="1.05" fill="#111"/>
<circle cx="218.20" cy="693.92" r="1.05" fill="#111"/>
<circle cx="220.40" cy="652.75" r="1.05" fill="#111"/>
<circle cx="222.30" cy="612.38" r="1.05" fill="#111"/>
<circle cx="224.50" cy="633.75" r="1.05" fill="#111"/>
<circle cx="226.60" cy="654.33" r="1.05" fill="#111"/>
<circle cx="228.50" cy="676.50" r="1.05" fill="#111"/>
<circle cx="230.50" cy="721.62" r="1.05" fill="#111"/>
<circle cx="232.40" cy="778.62" r="1.05" fill="#111"/>
<circle cx="234.60" cy="750.12" r="1.05" fill="#111"/>
<circle cx="236.60" cy="750.92" r="1.05" fill="#111"/>
<circle cx="238.50" cy="732.71" r="1.05" fill="#111"/>
<circle cx="240.50" cy="682.83" r="1.05" fill="#111"/>
<circle cx="242.40" cy="665.42" r="1.05" fill="#111"/>
<circle cx="244.60" cy="644.83" r="1.05" fill="#111"/>
<circle cx="246.60" cy="633.75" r="1.05" fill="#111"/>
<circle cx="248.50" cy="636.12" r="1.05" fill="#111"/>
<circle cx="250.70" cy="640.88" r="1.05" fill="#111"/>
<circle cx="252.70" cy="678.08" r="1.05" fill="#111"/>
<circle cx="254.60" cy="716.08" r="1.05" fill="#111"/>
<circle cx="256.80" cy="721.62" r="1.05" fill="#111"/>
<circle cx="258.80" cy="731.12" r="1.05" fill="#111"/>
<circle cx="261.00" cy="760.42" r="1.05" fill="#111"/>
<circle cx="262.90" cy="716.08" r="1.05" fill="#111"/>
<circle cx="264.90" cy="708.17" r="1.05" fill="#111"/>
<circle cx="266.80" cy="667.00" r="1.05" fill="#111"/>
<circle cx="268.80" cy="655.92" r="1.05" fill="#111"/>
<circle cx="271.10" cy="633.75" r="1.05" fill="#111"/>
<circle cx="273.00" cy="621.88" r="1.05" fill="#111"/>
<circle cx="275.00" cy="649.58" r="1.05" fill="#111"/>
<circle cx="277.00" cy="683.62" r="1.05" fill="#111"/>
<circle cx="279.10" cy="712.12" r="1.05" fill="#111"/>
<circle cx="287.20" cy="767.94" r="1.05" fill="#111"/>
<circle cx="289.10" cy="709.75" r="1.05" fill="#111"/>
<circle cx="291.10" cy="683.62" r="1.05" fill="#111"/>
<circle cx="293.30" cy="660.67" r="1.05" fill="#111"/>
<circle cx="295.20" cy="631.38" r="1.05" fill="#111"/>
<circle cx="297.40" cy="632.96" r="1.05" fill="#111"/>
<circle cx="299.40" cy="652.75" r="1.05" fill="#111"/>
<circle cx="301.60" cy="673.33" r="1.05" fill="#111"/>
<circle cx="303.50" cy="702.62" r="1.05" fill="#111"/>
<circle cx="305.50" cy="721.62" r="1.05" fill="#111"/>
<circle cx="307.70" cy="743.79" r="1.05" fill="#111"/>
<circle cx="309.60" cy="725.58" r="1.05" fill="#111"/>
<circle cx="311.80" cy="705.00" r="1.05" fill="#111"/>
<circle cx="313.80" cy="685.21" r="1.05" fill="#111"/>
<circle cx="315.90" cy="680.46" r="1.05" fill="#111"/>
<circle cx="317.80" cy="647.21" r="1.05" fill="#111"/>
<circle cx="320.00" cy="608.42" r="1.05" fill="#111"/>
<circle cx="322.00" cy="635.33" r="1.05" fill="#111"/>
<circle cx="323.90" cy="635.33" r="1.05" fill="#111"/>
<circle cx="325.90" cy="667.00" r="1.05" fill="#111"/>
<circle cx="328.00" cy="703.42" r="1.05" fill="#111"/>
<circle cx="330.00" cy="732.71" r="1.05" fill="#111"/>
<circle cx="332.00" cy="741.42" r="1.05" fill="#111"/>
<circle cx="333.90" cy="741.42" r="1.05" fill="#111"/>
<circle cx="336.10" cy="723.21" r="1.05" fill="#111"/>
<circle cx="338.00" cy="708.17" r="1.05" fill="#111"/>
<circle cx="340.00" cy="682.83" r="1.05" fill="#111"/>
<circle cx="342.00" cy="659.08" r="1.05" fill="#111"/>
<circle cx="344.10" cy="630.58" r="1.05" fill="#111"/>
<circle cx="346.10" cy="621.88" r="1.05" fill="#111"/>
<circle cx="348.00" cy="652.75" r="1.05" fill="#111"/>
<circle cx="350.20" cy="681.25" r="1.05" fill="#111"/>
<circle cx="352.20" cy="702.62" r="1.05" fill="#111"/>
<circle cx="354.40" cy="697.08" r="1.05" fill="#111"/>
<circle cx="356.30" cy="743.79" r="1.05" fill="#111"/>
<circle cx="358.50" cy="734.29" r="1.05" fill="#111"/>
<circle cx="360.90" cy="726.38" r="1.05" fill="#111"/>
<circle cx="362.80" cy="707.38" r="1.05" fill="#111"/>
<circle cx="364.80" cy="678.08" r="1.05" fill="#111"/>
<circle cx="366.70" cy="641.67" r="1.05" fill="#111"/>
<circle cx="368.90" cy="636.12" r="1.05" fill="#111"/>
<circle cx="370.90" cy="632.17" r="1.05" fill="#111"/>
<circle cx="372.80" cy="633.75" r="1.05" fill="#111"/>
<circle cx="375.00" cy="676.50" r="1.05" fill="#111"/>
<circle cx="377.00" cy="721.62" r="1.05" fill="#111"/>
<circle cx="378.90" cy="725.58" r="1.05" fill="#111"/>
<circle cx="380.90" cy="757.25" r="1.05" fill="#111"/>
<circle cx="382.80" cy="743.79" r="1.05" fill="#111"/>
<circle cx="384.80" cy="714.50" r="1.05" fill="#111"/>
<circle cx="386.70" cy="706.58" r="1.05" fill="#111"/>
<circle cx="388.70" cy="670.17" r="1.05" fill="#111"/>
<circle cx="390.90" cy="641.67" r="1.05" fill="#111"/>
<circle cx="392.80" cy="635.33" r="1.05" fill="#111"/>
<circle cx="394.80" cy="632.96" r="1.05" fill="#111"/>
<circle cx="396.70" cy="653.54" r="1.05" fill="#111"/>
<circle cx="398.90" cy="665.42" r="1.05" fill="#111"/>
<circle cx="400.90" cy="706.58" r="1.05" fill="#111"/>
<circle cx="402.80" cy="730.33" r="1.05" fill="#111"/>
<circle cx="404.80" cy="736.67" r="1.05" fill="#111"/>
<circle cx="407.30" cy="764.38" r="1.05" fill="#111"/>
<circle cx="409.30" cy="750.92" r="1.05" fill="#111"/>
<circle cx="411.20" cy="678.08" r="1.05" fill="#111"/>
<circle cx="413.20" cy="648.00" r="1.05" fill="#111"/>
<circle cx="415.40" cy="642.46" r="1.05" fill="#111"/>
<circle cx="417.30" cy="620.29" r="1.05" fill="#111"/>
<circle cx="419.30" cy="621.88" r="1.05" fill="#111"/>
<circle cx="421.20" cy="646.42" r="1.05" fill="#111"/>
<circle cx="423.40" cy="669.38" r="1.05" fill="#111"/>
<circle cx="425.40" cy="715.29" r="1.05" fill="#111"/>
<circle cx="427.30" cy="723.21" r="1.05" fill="#111"/>
<circle cx="429.50" cy="742.21" r="1.05" fill="#111"/>
<circle cx="431.50" cy="725.58" r="1.05" fill="#111"/>
<circle cx="433.40" cy="714.50" r="1.05" fill="#111"/>
<circle cx="435.60" cy="696.29" r="1.05" fill="#111"/>
<circle cx="437.60" cy="683.62" r="1.05" fill="#111"/>
<circle cx="439.50" cy="633.75" r="1.05" fill="#111"/>
<circle cx="441.70" cy="630.58" r="1.05" fill="#111"/>
<circle cx="443.70" cy="621.88" r="1.05" fill="#111"/>
<circle cx="445.60" cy="649.58" r="1.05" fill="#111"/>
<circle cx="447.80" cy="676.50" r="1.05" fill="#111"/>
<circle cx="449.80" cy="716.88" r="1.05" fill="#111"/>
<circle cx="451.80" cy="723.21" r="1.05" fill="#111"/>
<circle cx="454.00" cy="722.42" r="1.05" fill="#111"/>
<circle cx="455.90" cy="716.88" r="1.05" fill="#111"/>
<circle cx="457.90" cy="720.04" r="1.05" fill="#111"/>
<circle cx="459.80" cy="698.67" r="1.05" fill="#111"/>
<circle cx="461.80" cy="682.04" r="1.05" fill="#111"/>
<circle cx="464.00" cy="640.88" r="1.05" fill="#111"/>
<circle cx="465.90" cy="640.08" r="1.05" fill="#111"/>
<circle cx="467.90" cy="620.29" r="1.05" fill="#111"/>
<circle cx="469.80" cy="655.12" r="1.05" fill="#111"/>
<circle cx="472.00" cy="687.58" r="1.05" fill="#111"/>
<circle cx="474.00" cy="710.54" r="1.05" fill="#111"/>
<circle cx="475.90" cy="738.25" r="1.05" fill="#111"/>
<circle cx="477.80" cy="756.46" r="1.05" fill="#111"/>
<circle cx="480.00" cy="757.25" r="1.05" fill="#111"/>
<circle cx="482.00" cy="735.08" r="1.05" fill="#111"/>
<circle cx="483.90" cy="727.17" r="1.05" fill="#111"/>
<circle cx="486.10" cy="701.04" r="1.05" fill="#111"/>
<circle cx="488.10" cy="654.33" r="1.05" fill="#111"/>
<circle cx="490.00" cy="636.12" r="1.05" fill="#111"/>
<circle cx="491.90" cy="633.75" r="1.05" fill="#111"/>
<circle cx="494.10" cy="638.50" r="1.05" fill="#111"/>
<circle cx="496.10" cy="672.54" r="1.05" fill="#111"/>
<path d="M33.20,697.08 L35.40,717.67 L37.30,750.12 L39.50,755.67 L41.70,758.83 L43.70,731.12 L45.60,705.79 L47.60,670.96 L49.50,621.08 L52.00,613.96 L53.90,625.83 L55.90,637.71 L58.00,692.33 L60.00,715.29 L62.00,733.50 L64.10,748.54 L66.10,734.29 L68.00,731.12 L70.00,694.71 L72.00,667.00 L74.10,640.88 L76.10,632.96 L78.00,602.08 L80.20,644.83 L82.20,681.25 L84.10,706.58 L86.30,734.29 L88.40,734.29 L90.40,750.92 L92.30,735.88 L94.30,710.54 L96.50,675.71 L98.40,621.88 L100.40,620.29 L102.30,629.00 L104.30,620.29 L106.50,663.04 L108.70,706.58 L110.90,733.50 L112.80,758.04 L114.80,750.92 L116.70,750.92 L118.90,707.38 L120.90,668.58 L122.80,641.67 L124.80,602.08 L127.00,615.54 L128.90,628.21 L131.10,654.33 L132.90,693.92 L135.10,712.12 L137.10,714.50 L139.30,730.33 L141.00,705.00 L143.20,680.46 L145.10,655.92 L147.10,625.83 L149.30,622.67 L151.20,622.67 L153.40,649.58 L155.40,674.92 L157.60,708.96 L159.50,729.54 L161.70,733.50 L163.70,730.33 L165.60,724.00 L167.60,702.62 L169.80,656.71 L171.70,630.58 L173.70,621.88 L175.80,622.67 L177.90,645.62 L179.90,676.50 L181.80,706.58 L183.80,737.46 L185.70,755.67 L187.90,754.88 L189.90,727.96 L191.80,687.58 L193.80,662.25 L195.70,641.67 L197.90,620.29 L199.90,613.96 L201.80,640.08 L204.00,682.83 L206.00,701.04 L207.90,738.25 L210.10,769.92 L212.10,772.29 L214.00,742.21 L216.20,707.38 L218.20,682.83 L220.40,640.08 L222.30,607.62 L224.50,621.88 L226.60,648.79 L228.50,693.92 L230.50,710.54 L232.40,763.58 L234.60,758.04 L236.60,753.29 L238.50,739.04 L240.50,687.58 L242.40,663.04 L244.60,636.12 L246.60,633.75 L248.50,628.21 L250.70,640.88 L252.70,659.08 L254.60,708.17 L256.80,725.58 L258.80,726.38 L261.00,748.54 L262.90,720.04 L264.90,708.17 L266.80,665.42 L268.80,649.58 L271.10,628.21 L273.00,614.75 L275.00,644.04 L277.00,679.67 L279.10,708.17 M287.20,755.67 L289.10,711.33 L291.10,678.08 L293.30,648.00 L295.20,620.29 L297.40,614.75 L299.40,639.29 L301.60,673.33 L303.50,698.67 L305.50,716.88 L307.70,738.25 L309.60,743.79 L311.80,718.46 L313.80,678.88 L315.90,670.17 L317.80,629.00 L320.00,595.75 L322.00,620.29 L323.90,631.38 L325.90,663.04 L328.00,695.50 L330.00,727.96 L332.00,730.33 L333.90,741.42 L336.10,723.21 L338.00,696.29 L340.00,670.17 L342.00,646.42 L344.10,621.08 L346.10,615.54 L348.00,642.46 L350.20,672.54 L352.20,705.79 L354.40,707.38 L356.30,748.54 L358.50,731.12 L360.90,724.00 L362.80,697.08 L364.80,663.83 L366.70,630.58 L368.90,627.42 L370.90,621.88 L372.80,613.17 L375.00,670.96 L377.00,722.42 L378.90,724.00 L380.90,747.75 L382.80,748.54 L384.80,720.04 L386.70,695.50 L388.70,670.17 L390.90,632.17 L392.80,620.29 L394.80,620.29 L396.70,640.08 L398.90,660.67 L400.90,697.08 L402.80,727.96 L405.10,735.88 L407.30,748.54 L409.30,749.33 L411.20,682.04 L413.20,651.96 L415.40,628.21 L417.30,607.62 L419.30,606.83 L421.20,634.54 L423.40,663.83 L425.40,707.38 L427.30,725.58 L429.50,736.67 L431.50,736.67 L433.40,712.92 L435.60,691.54 L437.60,670.17 L439.50,625.83 L441.70,620.29 L443.70,612.38 L445.60,636.12 L447.80,668.58 L449.80,706.58 L451.80,722.42 L454.00,725.58 L455.90,720.83 L457.90,716.08 L459.80,692.33 L461.80,663.83 L464.00,627.42 L465.90,622.67 L467.90,602.88 L469.80,633.75 L472.00,669.38 L474.00,693.92 L475.90,724.00 L477.80,738.25 L480.00,747.75 L482.00,735.08 L483.90,702.62 L486.10,674.92 L488.10,630.58 L490.00,610.79 L491.90,620.29 L494.10,628.21 L496.10,665.42" stroke="#d04848" stroke-width="0.7" stroke-dasharray="2,1.2" fill="none"/>
<circle cx="33.20" cy="697.08" r="1.6" fill="none" stroke="#d05050" stroke-width="0.6"/>
<circle cx="35.40" cy="717.67" r="1.6" fill="none" stroke="#d05050" stroke-width="0.6"/>
<circle cx="37.30" cy="750.12" r="1.6" fill="none" stroke="#d05050" stroke-width="0.6"/>
<circle cx="39.50" cy="755.67" r="1.6" fill="none" stroke="#d05050" stroke-width="0.6"/>
<circle cx="41.70" cy="758.83" r="1.6" fill="none" stroke="#d05050" stroke-width="0.6"/>
<circle cx="43.70" cy="731.12" r="1.6" fill="none" stroke="#d05050" stroke-width="0.6"/>
<circle cx="45.60" cy="705.79" r="1.6" fill="none" stroke="#d05050" stroke-width="0.6"/>
<circle cx="47.60" cy="670.96" r="1.6" fill="none" stroke="#d05050" stroke-width="0.6"/>
<circle cx="49.50" cy="621.08" r="1.6" fill="none" stroke="#d05050" stroke-width="0.6"/>
<circle cx="52.00" cy="613.96" r="1.6" fill="none" stroke="#d05050" stroke-width="0.6"/>
<circle cx="53.90" cy="625.83" r="1.6" fill="none" stroke="#d05050" stroke-width="0.6"/>
<circle cx="55.90" cy="637.71" r="1.6" fill="none" stroke="#d05050" stroke-width="0.6"/>
<circle cx="58.00" cy="692.33" r="1.6" fill="none" stroke="#d05050" stroke-width="0.6"/>
<circle cx="60.00" cy="715.29" r="1.6" fill="none" stroke="#d05050" stroke-width="0.6"/>
<circle cx="62.00" cy="733.50" r="1.6" fill="none" stroke="#d05050" stroke-width="0.6"/>
<circle cx="64.10" cy="748.54" r="1.6" fill="none" stroke="#d05050" stroke-width="0.6"/>
<circle cx="66.10" cy="734.29" r="1.6" fill="none" stroke="#d05050" stroke-width="0.6"/>
<circle cx="68.00" cy="731.12" r="1.6" fill="none" stroke="#d05050" stroke-width="0.6"/>
<circle cx="70.00" cy="694.71" r="1.6" fill="none" stroke="#d05050" stroke-width="0.6"/>
<circle cx="72.00" cy="667.00" r="1.6" fill="none" stroke="#d05050" stroke-width="0.6"/>
<circle cx="74.10" cy="640.88" r="1.6" fill="none" stroke="#d05050" stroke-width="0.6"/>
<circle cx="76.10" cy="632.96" r="1.6" fill="none" stroke="#d05050" stroke-width="0.6"/>
<circle cx="78.00" cy="602.08" r="1.6" fill="none" stroke="#d05050" stroke-width="0.6"/>
<circle cx="80.20" cy="644.83" r="1.6" fill="none" stroke="#d05050" stroke-width="0.6"/>
<circle cx="82.20" cy="681.25" r="1.6" fill="none" stroke="#d05050" stroke-width="0.6"/>
<circle cx="84.10" cy="706.58" r="1.6" fill="none" stroke="#d05050" stroke-width="0.6"/>
<circle cx="86.30" cy="734.29" r="1.6" fill="none" stroke="#d05050" stroke-width="0.6"/>
<circle cx="88.40" cy="734.29" r="1.6" fill="none" stroke="#d05050" stroke-width="0.6"/>
<circle cx="90.40" cy="750.92" r="1.6" fill="none" stroke="#d05050" stroke-width="0.6"/>
<circle cx="92.30" cy="735.88" r="1.6" fill="none" stroke="#d05050" stroke-width="0.6"/>
<circle cx="94.30" cy="710.54" r="1.6" fill="none" stroke="#d05050" stroke-width="0.6"/>
<circle cx="96.50" cy="675.71" r="1.6" fill="none" stroke="#d05050" stroke-width="0.6"/>
<circle cx="98.40" cy="621.88" r="1.6" fill="none" stroke="#d05050" stroke-width="0.6"/>
<circle cx="100.40" cy="620.29" r="1.6" fill="none" stroke="#d05050" stroke-width="0.6"/>
<circle cx="102.30" cy="629.00" r="1.6" fill="none" stroke="#d05050" stroke-width="0.6"/>
<circle cx="104.30" cy="620.29" r="1.6" fill="none" stroke="#d05050" stroke-width="0.6"/>
<circle cx="106.50" cy="663.04" r="1.6" fill="none" stroke="#d05050" stroke-width="0.6"/>
<circle cx="108.70" cy="706.58" r="1.6" fill="none" stroke="#d05050" stroke-width="0.6"/>
<circle cx="110.90" cy="733.50" r="1.6" fill="none" stroke="#d05050" stroke-width="0.6"/>
<circle cx="112.80" cy="758.04" r="1.6" fill="none" stroke="#d05050" stroke-width="0.6"/>
<circle cx="114.80" cy="750.92" r="1.6" fill="none" stroke="#d05050" stroke-width="0.6"/>
<circle cx="116.70" cy="750.92" r="1.6" fill="none" stroke="#d05050" stroke-width="0.6"/>
<circle cx="118.90" cy="707.38" r="1.6" fill="none" stroke="#d05050" stroke-width="0.6"/>
<circle cx="120.90" cy="668.58" r="1.6" fill="none" stroke="#d05050" stroke-width="0.6"/>
<circle cx="122.80" cy="641.67" r="1.6" fill="none" stroke="#d05050" stroke-width="0.6"/>
<circle cx="124.80" cy="602.08" r="1.6" fill="none" stroke="#d05050" stroke-width="0.6"/>
<circle cx="127.00" cy="615.54" r="1.6" fill="none" stroke="#d05050" stroke-width="0.6"/>
<circle cx="128.90" cy="628.21" r="1.6" fill="none" stroke="#d05050" stroke-width="0.6"/>
<circle cx="131.10" cy="654.33" r="1.6" fill="none" stroke="#d05050" stroke-width="0.6"/>
<circle cx="132.90" cy="693.92" r="1.6" fill="none" stroke="#d05050" stroke-width="0.6"/>
<circle cx="135.10" cy="712.12" r="1.6" fill="none" stroke="#d05050" stroke-width="0.6"/>
<circle cx="137.10" cy="714.50" r="1.6" fill="none" stroke="#d05050" stroke-width="0.6"/>
<circle cx="139.30" cy="730.33" r="1.6" fill="none" stroke="#d05050" stroke-width="0.6"/>
<circle cx="141.00" cy="705.00" r="1.6" fill="none" stroke="#d05050" stroke-width="0.6"/>
<circle cx="143.20" cy="680.46" r="1.6" fill="none" stroke="#d05050" stroke-width="0.6"/>
<circle cx="145.10" cy="655.92" r="1.6" fill="none" stroke="#d05050" stroke-width="0.6"/>
<circle cx="147.10" cy="625.83" r="1.6" fill="none" stroke="#d05050" stroke-width="0.6"/>
<circle cx="149.30" cy="622.67" r="1.6" fill="none" stroke="#d05050" stroke-width="0.6"/>
<circle cx="151.20" cy="622.67" r="1.6" fill="none" stroke="#d05050" stroke-width="0.6"/>
<circle cx="153.40" cy="649.58" r="1.6" fill="none" stroke="#d05050" stroke-width="0.6"/>
<circle cx="155.40" cy="674.92" r="1.6" fill="none" stroke="#d05050" stroke-width="0.6"/>
<circle cx="157.60" cy="708.96" r="1.6" fill="none" stroke="#d05050" stroke-width="0.6"/>
<circle cx="159.50" cy="729.54" r="1.6" fill="none" stroke="#d05050" stroke-width="0.6"/>
<circle cx="161.70" cy="733.50" r="1.6" fill="none" stroke="#d05050" stroke-width="0.6"/>
<circle cx="163.70" cy="730.33" r="1.6" fill="none" stroke="#d05050" stroke-width="0.6"/>
<circle cx="165.60" cy="724.00" r="1.6" fill="none" stroke="#d05050" stroke-width="0.6"/>
<circle cx="167.60" cy="702.62" r="1.6" fill="none" stroke="#d05050" stroke-width="0.6"/>
<circle cx="169.80" cy="656.71" r="1.6" fill="none" stroke="#d05050" stroke-width="0.6"/>
<circle cx="171.70" cy="630.58" r="1.6" fill="none" stroke="#d05050" stroke-width="0.6"/>
<circle cx="173.70" cy="621.88" r="1.6" fill="none" stroke="#d05050" stroke-width="0.6"/>
<circle cx="175.80" cy="622.67" r="1.6" fill="none" stroke="#d05050" stroke-width="0.6"/>
<circle cx="177.90" cy="645.62" r="1.6" fill="none" stroke="#d05050" stroke-width="0.6"/>
<circle cx="179.90" cy="676.50" r="1.6" fill="none" stroke="#d05050" stroke-width="0.6"/>
<circle cx="181.80" cy="706.58" r="1.6" fill="none" stroke="#d05050" stroke-width="0.6"/>
<circle cx="183.80" cy="737.46" r="1.6" fill="none" stroke="#d05050" stroke-width="0.6"/>
<circle cx="185.70" cy="755.67" r="1.6" fill="none" stroke="#d05050" stroke-width="0.6"/>
<circle cx="187.90" cy="754.88" r="1.6" fill="none" stroke="#d05050" stroke-width="0.6"/>
<circle cx="189.90" cy="727.96" r="1.6" fill="none" stroke="#d05050" stroke-width="0.6"/>
<circle cx="191.80" cy="687.58" r="1.6" fill="none" stroke="#d05050" stroke-width="0.6"/>
<circle cx="193.80" cy="662.25" r="1.6" fill="none" stroke="#d05050" stroke-width="0.6"/>
<circle cx="195.70" cy="641.67" r="1.6" fill="none" stroke="#d05050" stroke-width="0.6"/>
<circle cx="197.90" cy="620.29" r="1.6" fill="none" stroke="#d05050" stroke-width="0.6"/>
<circle cx="199.90" cy="613.96" r="1.6" fill="none" stroke="#d05050" stroke-width="0.6"/>
<circle cx="201.80" cy="640.08" r="1.6" fill="none" stroke="#d05050" stroke-width="0.6"/>
<circle cx="204.00" cy="682.83" r="1.6" fill="none" stroke="#d05050" stroke-width="0.6"/>
<circle cx="206.00" cy="701.04" r="1.6" fill="none" stroke="#d05050" stroke-width="0.6"/>
<circle cx="207.90" cy="738.25" r="1.6" fill="none" stroke="#d05050" stroke-width="0.6"/>
<circle cx="210.10" cy="769.92" r="1.6" fill="none" stroke="#d05050" stroke-width="0.6"/>
<circle cx="212.10" cy="772.29" r="1.6" fill="none" stroke="#d05050" stroke-width="0.6"/>
<circle cx="214.00" cy="742.21" r="1.6" fill="none" stroke="#d05050" stroke-width="0.6"/>
<circle cx="216.20" cy="707.38" r="1.6" fill="none" stroke="#d05050" stroke-width="0.6"/>
<circle cx="218.20" cy="682.83" r="1.6" fill="none" stroke="#d05050" stroke-width="0.6"/>
<circle cx="220.40" cy="640.08" r="1.6" fill="none" stroke="#d05050" stroke-width="0.6"/>
<circle cx="222.30" cy="607.62" r="1.6" fill="none" stroke="#d05050" stroke-width="0.6"/>
<circle cx="224.50" cy="621.88" r="1.6" fill="none" stroke="#d05050" stroke-width="0.6"/>
<circle cx="226.60" cy="648.79" r="1.6" fill="none" stroke="#d05050" stroke-width="0.6"/>
<circle cx="228.50" cy="693.92" r="1.6" fill="none" stroke="#d05050" stroke-width="0.6"/>
<circle cx="230.50" cy="710.54" r="1.6" fill="none" stroke="#d05050" stroke-width="0.6"/>
<circle cx="232.40" cy="763.58" r="1.6" fill="none" stroke="#d05050" stroke-width="0.6"/>
<circle cx="234.60" cy="758.04" r="1.6" fill="none" stroke="#d05050" stroke-width="0.6"/>
<circle cx="236.60" cy="753.29" r="1.6" fill="none" stroke="#d05050" stroke-width="0.6"/>
<circle cx="238.50" cy="739.04" r="1.6" fill="none" stroke="#d05050" stroke-width="0.6"/>
<circle cx="240.50" cy="687.58" r="1.6" fill="none" stroke="#d05050" stroke-width="0.6"/>
<circle cx="242.40" cy="663.04" r="1.6" fill="none" stroke="#d05050" stroke-width="0.6"/>
<circle cx="244.60" cy="636.12" r="1.6" fill="none" stroke="#d05050" stroke-width="0.6"/>
<circle cx="246.60" cy="633.75" r="1.6" fill="none" stroke="#d05050" stroke-width="0.6"/>
<circle cx="248.50" cy="628.21" r="1.6" fill="none" stroke="#d05050" stroke-width="0.6"/>
<circle cx="250.70" cy="640.88" r="1.6" fill="none" stroke="#d05050" stroke-width="0.6"/>
<circle cx="252.70" cy="659.08" r="1.6" fill="none" stroke="#d05050" stroke-width="0.6"/>
<circle cx="254.60" cy="708.17" r="1.6" fill="none" stroke="#d05050" stroke-width="0.6"/>
<circle cx="256.80" cy="725.58" r="1.6" fill="none" stroke="#d05050" stroke-width="0.6"/>
<circle cx="258.80" cy="726.38" r="1.6" fill="none" stroke="#d05050" stroke-width="0.6"/>
<circle cx="261.00" cy="748.54" r="1.6" fill="none" stroke="#d05050" stroke-width="0.6"/>
<circle cx="262.90" cy="720.04" r="1.6" fill="none" stroke="#d05050" stroke-width="0.6"/>
<circle cx="264.90" cy="708.17" r="1.6" fill="none" stroke="#d05050" stroke-width="0.6"/>
<circle cx="266.80" cy="665.42" r="1.6" fill="none" stroke="#d05050" stroke-width="0.6"/>
<circle cx="268.80" cy="649.58" r="1.6" fill="none" stroke="#d05050" stroke-width="0.6"/>
<circle cx="271.10" cy="628.21" r="1.6" fill="none" stroke="#d05050" stroke-width="0.6"/>
<circle cx="273.00" cy="614.75" r="1.6" fill="none" stroke="#d05050" stroke-width="0.6"/>
<circle cx="275.00" cy="644.04" r="1.6" fill="none" stroke="#d05050" stroke-width="0.6"/>
<circle cx="277.00" cy="679.67" r="1.6" fill="none" stroke="#d05050" stroke-width="0.6"/>
<circle cx="279.10" cy="708.17" r="1.6" fill="none" stroke="#d05050" stroke-width="0.6"/>
<circle cx="287.20" cy="755.67" r="1.6" fill="none" stroke="#d05050" stroke-width="0.6"/>
<circle cx="289.10" cy="711.33" r="1.6" fill="none" stroke="#d05050" stroke-width="0.6"/>
<circle cx="291.10" cy="678.08" r="1.6" fill="none" stroke="#d05050" stroke-width="0.6"/>
<circle cx="293.30" cy="648.00" r="1.6" fill="none" stroke="#d05050" stroke-width="0.6"/>
<circle cx="295.20" cy="620.29" r="1.6" fill="none" stroke="#d05050" stroke-width="0.6"/>
<circle cx="297.40" cy="614.75" r="1.6" fill="none" stroke="#d05050" stroke-width="0.6"/>
<circle cx="299.40" cy="639.29" r="1.6" fill="none" stroke="#d05050" stroke-width="0.6"/>
<circle cx="301.60" cy="673.33" r="1.6" fill="none" stroke="#d05050" stroke-width="0.6"/>
<circle cx="303.50" cy="698.67" r="1.6" fill="none" stroke="#d05050" stroke-width="0.6"/>
<circle cx="305.50" cy="716.88" r="1.6" fill="none" stroke="#d05050" stroke-width="0.6"/>
<circle cx="307.70" cy="738.25" r="1.6" fill="none" stroke="#d05050" stroke-width="0.6"/>
<circle cx="309.60" cy="743.79" r="1.6" fill="none" stroke="#d05050" stroke-width="0.6"/>
<circle cx="311.80" cy="718.46" r="1.6" fill="none" stroke="#d05050" stroke-width="0.6"/>
<circle cx="313.80" cy="678.88" r="1.6" fill="none" stroke="#d05050" stroke-width="0.6"/>
<circle cx="315.90" cy="670.17" r="1.6" fill="none" stroke="#d05050" stroke-width="0.6"/>
<circle cx="317.80" cy="629.00" r="1.6" fill="none" stroke="#d05050" stroke-width="0.6"/>
<circle cx="320.00" cy="595.75" r="1.6" fill="none" stroke="#d05050" stroke-width="0.6"/>
<circle cx="322.00" cy="620.29" r="1.6" fill="none" stroke="#d05050" stroke-width="0.6"/>
<circle cx="323.90" cy="631.38" r="1.6" fill="none" stroke="#d05050" stroke-width="0.6"/>
<circle cx="325.90" cy="663.04" r="1.6" fill="none" stroke="#d05050" stroke-width="0.6"/>
<circle cx="328.00" cy="695.50" r="1.6" fill="none" stroke="#d05050" stroke-width="0.6"/>
<circle cx="330.00" cy="727.96" r="1.6" fill="none" stroke="#d05050" stroke-width="0.6"/>
<circle cx="332.00" cy="730.33" r="1.6" fill="none" stroke="#d05050" stroke-width="0.6"/>
<circle cx="333.90" cy="741.42" r="1.6" fill="none" stroke="#d05050" stroke-width="0.6"/>
<circle cx="336.10" cy="723.21" r="1.6" fill="none" stroke="#d05050" stroke-width="0.6"/>
<circle cx="338.00" cy="696.29" r="1.6" fill="none" stroke="#d05050" stroke-width="0.6"/>
<circle cx="340.00" cy="670.17" r="1.6" fill="none" stroke="#d05050" stroke-width="0.6"/>
<circle cx="342.00" cy="646.42" r="1.6" fill="none" stroke="#d05050" stroke-width="0.6"/>
<circle cx="344.10" cy="621.08" r="1.6" fill="none" stroke="#d05050" stroke-width="0.6"/>
<circle cx="346.10" cy="615.54" r="1.6" fill="none" stroke="#d05050" stroke-width="0.6"/>
<circle cx="348.00" cy="642.46" r="1.6" fill="none" stroke="#d05050" stroke-width="0.6"/>
<circle cx="350.20" cy="672.54" r="1.6" fill="none" stroke="#d05050" stroke-width="0.6"/>
<circle cx="352.20" cy="705.79" r="1.6" fill="none" stroke="#d05050" stroke-width="0.6"/>
<circle cx="354.40" cy="707.38" r="1.6" fill="none" stroke="#d05050" stroke-width="0.6"/>
<circle cx="356.30" cy="748.54" r="1.6" fill="none" stroke="#d05050" stroke-width="0.6"/>
<circle cx="358.50" cy="731.12" r="1.6" fill="none" stroke="#d05050" stroke-width="0.6"/>
<circle cx="360.90" cy="724.00" r="1.6" fill="none" stroke="#d05050" stroke-width="0.6"/>
<circle cx="362.80" cy="697.08" r="1.6" fill="none" stroke="#d05050" stroke-width="0.6"/>
<circle cx="364.80" cy="663.83" r="1.6" fill="none" stroke="#d05050" stroke-width="0.6"/>
<circle cx="366.70" cy="630.58" r="1.6" fill="none" stroke="#d05050" stroke-width="0.6"/>
<circle cx="368.90" cy="627.42" r="1.6" fill="none" stroke="#d05050" stroke-width="0.6"/>
<circle cx="370.90" cy="621.88" r="1.6" fill="none" stroke="#d05050" stroke-width="0.6"/>
<circle cx="372.80" cy="613.17" r="1.6" fill="none" stroke="#d05050" stroke-width="0.6"/>
<circle cx="375.00" cy="670.96" r="1.6" fill="none" stroke="#d05050" stroke-width="0.6"/>
<circle cx="377.00" cy="722.42" r="1.6" fill="none" stroke="#d05050" stroke-width="0.6"/>
<circle cx="378.90" cy="724.00" r="1.6" fill="none" stroke="#d05050" stroke-width="0.6"/>
<circle cx="380.90" cy="747.75" r="1.6" fill="none" stroke="#d05050" stroke-width="0.6"/>
<circle cx="382.80" cy="748.54" r="1.6" fill="none" stroke="#d05050" stroke-width="0.6"/>
<circle cx="384.80" cy="720.04" r="1.6" fill="none" stroke="#d05050" stroke-width="0.6"/>
<circle cx="386.70" cy="695.50" r="1.6" fill="none" stroke="#d05050" stroke-width="0.6"/>
<circle cx="388.70" cy="670.17" r="1.6" fill="none" stroke="#d05050" stroke-width="0.6"/>
<circle cx="390.90" cy="632.17" r="1.6" fill="none" stroke="#d05050" stroke-width="0.6"/>
<circle cx="392.80" cy="620.29" r="1.6" fill="none" stroke="#d05050" stroke-width="0.6"/>
<circle cx="394.80" cy="620.29" r="1.6" fill="none" stroke="#d05050" stroke-width="0.6"/>
<circle cx="396.70" cy="640.08" r="1.6" fill="none" stroke="#d05050" stroke-width="0.6"/>
<circle cx="398.90" cy="660.67" r="1.6" fill="none" stroke="#d05050" stroke-width="0.6"/>
<circle cx="400.90" cy="697.08" r="1.6" fill="none" stroke="#d05050" stroke-width="0.6"/>
<circle cx="402.80" cy="727.96" r="1.6" fill="none" stroke="#d05050" stroke-width="0.6"/>
<circle cx="405.10" cy="735.88" r="1.6" fill="none" stroke="#d05050" stroke-width="0.6"/>
<circle cx="407.30" cy="748.54" r="1.6" fill="none" stroke="#d05050" stroke-width="0.6"/>
<circle cx="409.30" cy="749.33" r="1.6" fill="none" stroke="#d05050" stroke-width="0.6"/>
<circle cx="411.20" cy="682.04" r="1.6" fill="none" stroke="#d05050" stroke-width="0.6"/>
<circle cx="413.20" cy="651.96" r="1.6" fill="none" stroke="#d05050" stroke-width="0.6"/>
<circle cx="415.40" cy="628.21" r="1.6" fill="none" stroke="#d05050" stroke-width="0.6"/>
<circle cx="417.30" cy="607.62" r="1.6" fill="none" stroke="#d05050" stroke-width="0.6"/>
<circle cx="419.30" cy="606.83" r="1.6" fill="none" stroke="#d05050" stroke-width="0.6"/>
<circle cx="421.20" cy="634.54" r="1.6" fill="none" stroke="#d05050" stroke-width="0.6"/>
<circle cx="423.40" cy="663.83" r="1.6" fill="none" stroke="#d05050" stroke-width="0.6"/>
<circle cx="425.40" cy="707.38" r="1.6" fill="none" stroke="#d05050" stroke-width="0.6"/>
<circle cx="427.30" cy="725.58" r="1.6" fill="none" stroke="#d05050" stroke-width="0.6"/>
<circle cx="429.50" cy="736.67" r="1.6" fill="none" stroke="#d05050" stroke-width="0.6"/>
<circle cx="431.50" cy="736.67" r="1.6" fill="none" stroke="#d05050" stroke-width="0.6"/>
<circle cx="433.40" cy="712.92" r="1.6" fill="none" stroke="#d05050" stroke-width="0.6"/>
<circle cx="435.60" cy="691.54" r="1.6" fill="none" stroke="#d05050" stroke-width="0.6"/>
<circle cx="437.60" cy="670.17" r="1.6" fill="none" stroke="#d05050" stroke-width="0.6"/>
<circle cx="439.50" cy="625.83" r="1.6" fill="none" stroke="#d05050" stroke-width="0.6"/>
<circle cx="441.70" cy="620.29" r="1.6" fill="none" stroke="#d05050" stroke-width="0.6"/>
<circle cx="443.70" cy="612.38" r="1.6" fill="none" stroke="#d05050" stroke-width="0.6"/>
<circle cx="445.60" cy="636.12" r="1.6" fill="none" stroke="#d05050" stroke-width="0.6"/>
<circle cx="447.80" cy="668.58" r="1.6" fill="none" stroke="#d05050" stroke-width="0.6"/>
<circle cx="449.80" cy="706.58" r="1.6" fill="none" stroke="#d05050" stroke-width="0.6"/>
<circle cx="451.80" cy="722.42" r="1.6" fill="none" stroke="#d05050" stroke-width="0.6"/>
<circle cx="454.00" cy="725.58" r="1.6" fill="none" stroke="#d05050" stroke-width="0.6"/>
<circle cx="455.90" cy="720.83" r="1.6" fill="none" stroke="#d05050" stroke-width="0.6"/>
<circle cx="457.90" cy="716.08" r="1.6" fill="none" stroke="#d05050" stroke-width="0.6"/>
<circle cx="459.80" cy="692.33" r="1.6" fill="none" stroke="#d05050" stroke-width="0.6"/>
<circle cx="461.80" cy="663.83" r="1.6" fill="none" stroke="#d05050" stroke-width="0.6"/>
<circle cx="464.00" cy="627.42" r="1.6" fill="none" stroke="#d05050" stroke-width="0.6"/>
<circle cx="465.90" cy="622.67" r="1.6" fill="none" stroke="#d05050" stroke-width="0.6"/>
<circle cx="467.90" cy="602.88" r="1.6" fill="none" stroke="#d05050" stroke-width="0.6"/>
<circle cx="469.80" cy="633.75" r="1.6" fill="none" stroke="#d05050" stroke-width="0.6"/>
<circle cx="472.00" cy="669.38" r="1.6" fill="none" stroke="#d05050" stroke-width="0.6"/>
<circle cx="474.00" cy="693.92" r="1.6" fill="none" stroke="#d05050" stroke-width="0.6"/>
<circle cx="475.90" cy="724.00" r="1.6" fill="none" stroke="#d05050" stroke-width="0.6"/>
<circle cx="477.80" cy="738.25" r="1.6" fill="none" stroke="#d05050" stroke-width="0.6"/>
<circle cx="480.00" cy="747.75" r="1.6" fill="none" stroke="#d05050" stroke-width="0.6"/>
<circle cx="482.00" cy="735.08" r="1.6" fill="none" stroke="#d05050" stroke-width="0.6"/>
<circle cx="483.90" cy="702.62" r="1.6" fill="none" stroke="#d05050" stroke-width="0.6"/>
<circle cx="486.10" cy="674.92" r="1.6" fill="none" stroke="#d05050" stroke-width="0.6"/>
<circle cx="488.10" cy="630.58" r="1.6" fill="none" stroke="#d05050" stroke-width="0.6"/>
<circle cx="490.00" cy="610.79" r="1.6" fill="none" stroke="#d05050" stroke-width="0.6"/>
<circle cx="491.90" cy="620.29" r="1.6" fill="none" stroke="#d05050" stroke-width="0.6"/>
<circle cx="494.10" cy="628.21" r="1.6" fill="none" stroke="#d05050" stroke-width="0.6"/>
<circle cx="496.10" cy="665.42" r="1.6" fill="none" stroke="#d05050" stroke-width="0.6"/>
<rect x="33.70" y="5.80" width="462.70" height="236.80" fill="none" stroke="#8c8c8c" stroke-width="1.1"/>
<line x1="63.10" y1="242.60" x2="63.10" y2="238.10" stroke="#8c8c8c" stroke-width="0.9"/>
<line x1="63.10" y1="5.80" x2="63.10" y2="10.30" stroke="#8c8c8c" stroke-width="0.9"/>
<text transform="translate(63.10,252.80) scale(1,1.13)" font-family="Liberation Sans, sans-serif" font-size="7.4" fill="#3a3a3a" stroke="#3a3a3a" stroke-width="0.3" text-anchor="middle">2004</text>
<line x1="111.80" y1="242.60" x2="111.80" y2="238.10" stroke="#8c8c8c" stroke-width="0.9"/>
<line x1="111.80" y1="5.80" x2="111.80" y2="10.30" stroke="#8c8c8c" stroke-width="0.9"/>
<text transform="translate(111.80,252.80) scale(1,1.13)" font-family="Liberation Sans, sans-serif" font-size="7.4" fill="#3a3a3a" stroke="#3a3a3a" stroke-width="0.3" text-anchor="middle">2006</text>
<line x1="160.50" y1="242.60" x2="160.50" y2="238.10" stroke="#8c8c8c" stroke-width="0.9"/>
<line x1="160.50" y1="5.80" x2="160.50" y2="10.30" stroke="#8c8c8c" stroke-width="0.9"/>
<text transform="translate(160.50,252.80) scale(1,1.13)" font-family="Liberation Sans, sans-serif" font-size="7.4" fill="#3a3a3a" stroke="#3a3a3a" stroke-width="0.3" text-anchor="middle">2008</text>
<line x1="209.20" y1="242.60" x2="209.20" y2="238.10" stroke="#8c8c8c" stroke-width="0.9"/>
<line x1="209.20" y1="5.80" x2="209.20" y2="10.30" stroke="#8c8c8c" stroke-width="0.9"/>
<text transform="translate(209.20,252.80) scale(1,1.13)" font-family="Liberation Sans, sans-serif" font-size="7.4" fill="#3a3a3a" stroke="#3a3a3a" stroke-width="0.3" text-anchor="middle">2010</text>
<line x1="257.90" y1="242.60" x2="257.90" y2="238.10" stroke="#8c8c8c" stroke-width="0.9"/>
<line x1="257.90" y1="5.80" x2="257.90" y2="10.30" stroke="#8c8c8c" stroke-width="0.9"/>
<text transform="translate(257.90,252.80) scale(1,1.13)" font-family="Liberation Sans, sans-serif" font-size="7.4" fill="#3a3a3a" stroke="#3a3a3a" stroke-width="0.3" text-anchor="middle">2012</text>
<line x1="306.60" y1="242.60" x2="306.60" y2="238.10" stroke="#8c8c8c" stroke-width="0.9"/>
<line x1="306.60" y1="5.80" x2="306.60" y2="10.30" stroke="#8c8c8c" stroke-width="0.9"/>
<text transform="translate(306.60,252.80) scale(1,1.13)" font-family="Liberation Sans, sans-serif" font-size="7.4" fill="#3a3a3a" stroke="#3a3a3a" stroke-width="0.3" text-anchor="middle">2014</text>
<line x1="355.30" y1="242.60" x2="355.30" y2="238.10" stroke="#8c8c8c" stroke-width="0.9"/>
<line x1="355.30" y1="5.80" x2="355.30" y2="10.30" stroke="#8c8c8c" stroke-width="0.9"/>
<text transform="translate(355.30,252.80) scale(1,1.13)" font-family="Liberation Sans, sans-serif" font-size="7.4" fill="#3a3a3a" stroke="#3a3a3a" stroke-width="0.3" text-anchor="middle">2016</text>
<line x1="404.00" y1="242.60" x2="404.00" y2="238.10" stroke="#8c8c8c" stroke-width="0.9"/>
<line x1="404.00" y1="5.80" x2="404.00" y2="10.30" stroke="#8c8c8c" stroke-width="0.9"/>
<text transform="translate(404.00,252.80) scale(1,1.13)" font-family="Liberation Sans, sans-serif" font-size="7.4" fill="#3a3a3a" stroke="#3a3a3a" stroke-width="0.3" text-anchor="middle">2018</text>
<line x1="452.70" y1="242.60" x2="452.70" y2="238.10" stroke="#8c8c8c" stroke-width="0.9"/>
<line x1="452.70" y1="5.80" x2="452.70" y2="10.30" stroke="#8c8c8c" stroke-width="0.9"/>
<text transform="translate(452.70,252.80) scale(1,1.13)" font-family="Liberation Sans, sans-serif" font-size="7.4" fill="#3a3a3a" stroke="#3a3a3a" stroke-width="0.3" text-anchor="middle">2020</text>
<line x1="33.70" y1="242.60" x2="38.20" y2="242.60" stroke="#8c8c8c" stroke-width="0.9"/>
<line x1="496.40" y1="242.60" x2="491.90" y2="242.60" stroke="#8c8c8c" stroke-width="0.9"/>
<text transform="translate(31.30,245.50) scale(1,1.13)" font-family="Liberation Sans, sans-serif" font-size="7.4" fill="#3a3a3a" stroke="#3a3a3a" stroke-width="0.3" text-anchor="end">-5</text>
<line x1="33.70" y1="208.77" x2="38.20" y2="208.77" stroke="#8c8c8c" stroke-width="0.9"/>
<line x1="496.40" y1="208.77" x2="491.90" y2="208.77" stroke="#8c8c8c" stroke-width="0.9"/>
<text transform="translate(31.30,211.67) scale(1,1.13)" font-family="Liberation Sans, sans-serif" font-size="7.4" fill="#3a3a3a" stroke="#3a3a3a" stroke-width="0.3" text-anchor="end">0</text>
<line x1="33.70" y1="174.94" x2="38.20" y2="174.94" stroke="#8c8c8c" stroke-width="0.9"/>
<line x1="496.40" y1="174.94" x2="491.90" y2="174.94" stroke="#8c8c8c" stroke-width="0.9"/>
<text transform="translate(31.30,177.84) scale(1,1.13)" font-family="Liberation Sans, sans-serif" font-size="7.4" fill="#3a3a3a" stroke="#3a3a3a" stroke-width="0.3" text-anchor="end">5</text>
<line x1="33.70" y1="141.11" x2="38.20" y2="141.11" stroke="#8c8c8c" stroke-width="0.9"/>
<line x1="496.40" y1="141.11" x2="491.90" y2="141.11" stroke="#8c8c8c" stroke-width="0.9"/>
<text transform="translate(31.30,144.01) scale(1,1.13)" font-family="Liberation Sans, sans-serif" font-size="7.4" fill="#3a3a3a" stroke="#3a3a3a" stroke-width="0.3" text-anchor="end">10</text>
<line x1="33.70" y1="107.29" x2="38.20" y2="107.29" stroke="#8c8c8c" stroke-width="0.9"/>
<line x1="496.40" y1="107.29" x2="491.90" y2="107.29" stroke="#8c8c8c" stroke-width="0.9"/>
<text transform="translate(31.30,110.19) scale(1,1.13)" font-family="Liberation Sans, sans-serif" font-size="7.4" fill="#3a3a3a" stroke="#3a3a3a" stroke-width="0.3" text-anchor="end">15</text>
<line x1="33.70" y1="73.46" x2="38.20" y2="73.46" stroke="#8c8c8c" stroke-width="0.9"/>
<line x1="496.40" y1="73.46" x2="491.90" y2="73.46" stroke="#8c8c8c" stroke-width="0.9"/>
<text transform="translate(31.30,76.36) scale(1,1.13)" font-family="Liberation Sans, sans-serif" font-size="7.4" fill="#3a3a3a" stroke="#3a3a3a" stroke-width="0.3" text-anchor="end">20</text>
<line x1="33.70" y1="39.63" x2="38.20" y2="39.63" stroke="#8c8c8c" stroke-width="0.9"/>
<line x1="496.40" y1="39.63" x2="491.90" y2="39.63" stroke="#8c8c8c" stroke-width="0.9"/>
<text transform="translate(31.30,42.53) scale(1,1.13)" font-family="Liberation Sans, sans-serif" font-size="7.4" fill="#3a3a3a" stroke="#3a3a3a" stroke-width="0.3" text-anchor="end">25</text>
<line x1="33.70" y1="5.80" x2="38.20" y2="5.80" stroke="#8c8c8c" stroke-width="0.9"/>
<line x1="496.40" y1="5.80" x2="491.90" y2="5.80" stroke="#8c8c8c" stroke-width="0.9"/>
<text transform="translate(31.30,8.70) scale(1,1.13)" font-family="Liberation Sans, sans-serif" font-size="7.4" fill="#3a3a3a" stroke="#3a3a3a" stroke-width="0.3" text-anchor="end">30</text>
<text transform="translate(19.20,124.20) rotate(-90)" font-family="Liberation Sans, sans-serif" font-size="8.1" fill="#2a2a2a" stroke="#2a2a2a" stroke-width="0.3" text-anchor="middle">Water Temperature / °C</text>
<text x="3.0" y="12.70" font-family="Liberation Sans, sans-serif" font-size="12.2" font-weight="bold" fill="#000" stroke="#000" stroke-width="0.45">A</text>
<rect x="33.70" y="289.10" width="462.70" height="236.80" fill="none" stroke="#8c8c8c" stroke-width="1.1"/>
<line x1="63.10" y1="525.90" x2="63.10" y2="521.40" stroke="#8c8c8c" stroke-width="0.9"/>
<line x1="63.10" y1="289.10" x2="63.10" y2="293.60" stroke="#8c8c8c" stroke-width="0.9"/>
<text transform="translate(63.10,536.60) scale(1,1.13)" font-family="Liberation Sans, sans-serif" font-size="7.4" fill="#3a3a3a" stroke="#3a3a3a" stroke-width="0.3" text-anchor="middle">2004</text>
<line x1="111.80" y1="525.90" x2="111.80" y2="521.40" stroke="#8c8c8c" stroke-width="0.9"/>
<line x1="111.80" y1="289.10" x2="111.80" y2="293.60" stroke="#8c8c8c" stroke-width="0.9"/>
<text transform="translate(111.80,536.60) scale(1,1.13)" font-family="Liberation Sans, sans-serif" font-size="7.4" fill="#3a3a3a" stroke="#3a3a3a" stroke-width="0.3" text-anchor="middle">2006</text>
<line x1="160.50" y1="525.90" x2="160.50" y2="521.40" stroke="#8c8c8c" stroke-width="0.9"/>
<line x1="160.50" y1="289.10" x2="160.50" y2="293.60" stroke="#8c8c8c" stroke-width="0.9"/>
<text transform="translate(160.50,536.60) scale(1,1.13)" font-family="Liberation Sans, sans-serif" font-size="7.4" fill="#3a3a3a" stroke="#3a3a3a" stroke-width="0.3" text-anchor="middle">2008</text>
<line x1="209.20" y1="525.90" x2="209.20" y2="521.40" stroke="#8c8c8c" stroke-width="0.9"/>
<line x1="209.20" y1="289.10" x2="209.20" y2="293.60" stroke="#8c8c8c" stroke-width="0.9"/>
<text transform="translate(209.20,536.60) scale(1,1.13)" font-family="Liberation Sans, sans-serif" font-size="7.4" fill="#3a3a3a" stroke="#3a3a3a" stroke-width="0.3" text-anchor="middle">2010</text>
<line x1="257.90" y1="525.90" x2="257.90" y2="521.40" stroke="#8c8c8c" stroke-width="0.9"/>
<line x1="257.90" y1="289.10" x2="257.90" y2="293.60" stroke="#8c8c8c" stroke-width="0.9"/>
<text transform="translate(257.90,536.60) scale(1,1.13)" font-family="Liberation Sans, sans-serif" font-size="7.4" fill="#3a3a3a" stroke="#3a3a3a" stroke-width="0.3" text-anchor="middle">2012</text>
<line x1="306.60" y1="525.90" x2="306.60" y2="521.40" stroke="#8c8c8c" stroke-width="0.9"/>
<line x1="306.60" y1="289.10" x2="306.60" y2="293.60" stroke="#8c8c8c" stroke-width="0.9"/>
<text transform="translate(306.60,536.60) scale(1,1.13)" font-family="Liberation Sans, sans-serif" font-size="7.4" fill="#3a3a3a" stroke="#3a3a3a" stroke-width="0.3" text-anchor="middle">2014</text>
<line x1="355.30" y1="525.90" x2="355.30" y2="521.40" stroke="#8c8c8c" stroke-width="0.9"/>
<line x1="355.30" y1="289.10" x2="355.30" y2="293.60" stroke="#8c8c8c" stroke-width="0.9"/>
<text transform="translate(355.30,536.60) scale(1,1.13)" font-family="Liberation Sans, sans-serif" font-size="7.4" fill="#3a3a3a" stroke="#3a3a3a" stroke-width="0.3" text-anchor="middle">2016</text>
<line x1="404.00" y1="525.90" x2="404.00" y2="521.40" stroke="#8c8c8c" stroke-width="0.9"/>
<line x1="404.00" y1="289.10" x2="404.00" y2="293.60" stroke="#8c8c8c" stroke-width="0.9"/>
<text transform="translate(404.00,536.60) scale(1,1.13)" font-family="Liberation Sans, sans-serif" font-size="7.4" fill="#3a3a3a" stroke="#3a3a3a" stroke-width="0.3" text-anchor="middle">2018</text>
<line x1="452.70" y1="525.90" x2="452.70" y2="521.40" stroke="#8c8c8c" stroke-width="0.9"/>
<line x1="452.70" y1="289.10" x2="452.70" y2="293.60" stroke="#8c8c8c" stroke-width="0.9"/>
<text transform="translate(452.70,536.60) scale(1,1.13)" font-family="Liberation Sans, sans-serif" font-size="7.4" fill="#3a3a3a" stroke="#3a3a3a" stroke-width="0.3" text-anchor="middle">2020</text>
<line x1="33.70" y1="525.90" x2="38.20" y2="525.90" stroke="#8c8c8c" stroke-width="0.9"/>
<line x1="496.40" y1="525.90" x2="491.90" y2="525.90" stroke="#8c8c8c" stroke-width="0.9"/>
<text transform="translate(31.30,528.80) scale(1,1.13)" font-family="Liberation Sans, sans-serif" font-size="7.4" fill="#3a3a3a" stroke="#3a3a3a" stroke-width="0.3" text-anchor="end">-15</text>
<line x1="33.70" y1="502.22" x2="38.20" y2="502.22" stroke="#8c8c8c" stroke-width="0.9"/>
<line x1="496.40" y1="502.22" x2="491.90" y2="502.22" stroke="#8c8c8c" stroke-width="0.9"/>
<text transform="translate(31.30,505.12) scale(1,1.13)" font-family="Liberation Sans, sans-serif" font-size="7.4" fill="#3a3a3a" stroke="#3a3a3a" stroke-width="0.3" text-anchor="end">-10</text>
<line x1="33.70" y1="478.54" x2="38.20" y2="478.54" stroke="#8c8c8c" stroke-width="0.9"/>
<line x1="496.40" y1="478.54" x2="491.90" y2="478.54" stroke="#8c8c8c" stroke-width="0.9"/>
<text transform="translate(31.30,481.44) scale(1,1.13)" font-family="Liberation Sans, sans-serif" font-size="7.4" fill="#3a3a3a" stroke="#3a3a3a" stroke-width="0.3" text-anchor="end">-5</text>
<line x1="33.70" y1="454.86" x2="38.20" y2="454.86" stroke="#8c8c8c" stroke-width="0.9"/>
<line x1="496.40" y1="454.86" x2="491.90" y2="454.86" stroke="#8c8c8c" stroke-width="0.9"/>
<text transform="translate(31.30,457.76) scale(1,1.13)" font-family="Liberation Sans, sans-serif" font-size="7.4" fill="#3a3a3a" stroke="#3a3a3a" stroke-width="0.3" text-anchor="end">0</text>
<line x1="33.70" y1="431.18" x2="38.20" y2="431.18" stroke="#8c8c8c" stroke-width="0.9"/>
<line x1="496.40" y1="431.18" x2="491.90" y2="431.18" stroke="#8c8c8c" stroke-width="0.9"/>
<text transform="translate(31.30,434.08) scale(1,1.13)" font-family="Liberation Sans, sans-serif" font-size="7.4" fill="#3a3a3a" stroke="#3a3a3a" stroke-width="0.3" text-anchor="end">5</text>
<line x1="33.70" y1="407.50" x2="38.20" y2="407.50" stroke="#8c8c8c" stroke-width="0.9"/>
<line x1="496.40" y1="407.50" x2="491.90" y2="407.50" stroke="#8c8c8c" stroke-width="0.9"/>
<text transform="translate(31.30,410.40) scale(1,1.13)" font-family="Liberation Sans, sans-serif" font-size="7.4" fill="#3a3a3a" stroke="#3a3a3a" stroke-width="0.3" text-anchor="end">10</text>
<line x1="33.70" y1="383.82" x2="38.20" y2="383.82" stroke="#8c8c8c" stroke-width="0.9"/>
<line x1="496.40" y1="383.82" x2="491.90" y2="383.82" stroke="#8c8c8c" stroke-width="0.9"/>
<text transform="translate(31.30,386.72) scale(1,1.13)" font-family="Liberation Sans, sans-serif" font-size="7.4" fill="#3a3a3a" stroke="#3a3a3a" stroke-width="0.3" text-anchor="end">15</text>
<line x1="33.70" y1="360.14" x2="38.20" y2="360.14" stroke="#8c8c8c" stroke-width="0.9"/>
<line x1="496.40" y1="360.14" x2="491.90" y2="360.14" stroke="#8c8c8c" stroke-width="0.9"/>
<text transform="translate(31.30,363.04) scale(1,1.13)" font-family="Liberation Sans, sans-serif" font-size="7.4" fill="#3a3a3a" stroke="#3a3a3a" stroke-width="0.3" text-anchor="end">20</text>
<line x1="33.70" y1="336.46" x2="38.20" y2="336.46" stroke="#8c8c8c" stroke-width="0.9"/>
<line x1="496.40" y1="336.46" x2="491.90" y2="336.46" stroke="#8c8c8c" stroke-width="0.9"/>
<text transform="translate(31.30,339.36) scale(1,1.13)" font-family="Liberation Sans, sans-serif" font-size="7.4" fill="#3a3a3a" stroke="#3a3a3a" stroke-width="0.3" text-anchor="end">25</text>
<line x1="33.70" y1="312.78" x2="38.20" y2="312.78" stroke="#8c8c8c" stroke-width="0.9"/>
<line x1="496.40" y1="312.78" x2="491.90" y2="312.78" stroke="#8c8c8c" stroke-width="0.9"/>
<text transform="translate(31.30,315.68) scale(1,1.13)" font-family="Liberation Sans, sans-serif" font-size="7.4" fill="#3a3a3a" stroke="#3a3a3a" stroke-width="0.3" text-anchor="end">30</text>
<line x1="33.70" y1="289.10" x2="38.20" y2="289.10" stroke="#8c8c8c" stroke-width="0.9"/>
<line x1="496.40" y1="289.10" x2="491.90" y2="289.10" stroke="#8c8c8c" stroke-width="0.9"/>
<text transform="translate(31.30,292.00) scale(1,1.13)" font-family="Liberation Sans, sans-serif" font-size="7.4" fill="#3a3a3a" stroke="#3a3a3a" stroke-width="0.3" text-anchor="end">35</text>
<text transform="translate(17.20,407.50) rotate(-90)" font-family="Liberation Sans, sans-serif" font-size="8.1" fill="#2a2a2a" stroke="#2a2a2a" stroke-width="0.3" text-anchor="middle">Air Temperature / °C</text>
<text x="3.0" y="293.50" font-family="Liberation Sans, sans-serif" font-size="12.2" font-weight="bold" fill="#000" stroke="#000" stroke-width="0.45">B</text>
<rect x="33.70" y="572.00" width="462.70" height="237.50" fill="none" stroke="#8c8c8c" stroke-width="1.1"/>
<line x1="63.10" y1="809.50" x2="63.10" y2="805.00" stroke="#8c8c8c" stroke-width="0.9"/>
<line x1="63.10" y1="572.00" x2="63.10" y2="576.50" stroke="#8c8c8c" stroke-width="0.9"/>
<text transform="translate(63.10,819.70) scale(1,1.13)" font-family="Liberation Sans, sans-serif" font-size="7.4" fill="#3a3a3a" stroke="#3a3a3a" stroke-width="0.3" text-anchor="middle">2004</text>
<line x1="111.80" y1="809.50" x2="111.80" y2="805.00" stroke="#8c8c8c" stroke-width="0.9"/>
<line x1="111.80" y1="572.00" x2="111.80" y2="576.50" stroke="#8c8c8c" stroke-width="0.9"/>
<text transform="translate(111.80,819.70) scale(1,1.13)" font-family="Liberation Sans, sans-serif" font-size="7.4" fill="#3a3a3a" stroke="#3a3a3a" stroke-width="0.3" text-anchor="middle">2006</text>
<line x1="160.50" y1="809.50" x2="160.50" y2="805.00" stroke="#8c8c8c" stroke-width="0.9"/>
<line x1="160.50" y1="572.00" x2="160.50" y2="576.50" stroke="#8c8c8c" stroke-width="0.9"/>
<text transform="translate(160.50,819.70) scale(1,1.13)" font-family="Liberation Sans, sans-serif" font-size="7.4" fill="#3a3a3a" stroke="#3a3a3a" stroke-width="0.3" text-anchor="middle">2008</text>
<line x1="209.20" y1="809.50" x2="209.20" y2="805.00" stroke="#8c8c8c" stroke-width="0.9"/>
<line x1="209.20" y1="572.00" x2="209.20" y2="576.50" stroke="#8c8c8c" stroke-width="0.9"/>
<text transform="translate(209.20,819.70) scale(1,1.13)" font-family="Liberation Sans, sans-serif" font-size="7.4" fill="#3a3a3a" stroke="#3a3a3a" stroke-width="0.3" text-anchor="middle">2010</text>
<line x1="257.90" y1="809.50" x2="257.90" y2="805.00" stroke="#8c8c8c" stroke-width="0.9"/>
<line x1="257.90" y1="572.00" x2="257.90" y2="576.50" stroke="#8c8c8c" stroke-width="0.9"/>
<text transform="translate(257.90,819.70) scale(1,1.13)" font-family="Liberation Sans, sans-serif" font-size="7.4" fill="#3a3a3a" stroke="#3a3a3a" stroke-width="0.3" text-anchor="middle">2012</text>
<line x1="306.60" y1="809.50" x2="306.60" y2="805.00" stroke="#8c8c8c" stroke-width="0.9"/>
<line x1="306.60" y1="572.00" x2="306.60" y2="576.50" stroke="#8c8c8c" stroke-width="0.9"/>
<text transform="translate(306.60,819.70) scale(1,1.13)" font-family="Liberation Sans, sans-serif" font-size="7.4" fill="#3a3a3a" stroke="#3a3a3a" stroke-width="0.3" text-anchor="middle">2014</text>
<line x1="355.30" y1="809.50" x2="355.30" y2="805.00" stroke="#8c8c8c" stroke-width="0.9"/>
<line x1="355.30" y1="572.00" x2="355.30" y2="576.50" stroke="#8c8c8c" stroke-width="0.9"/>
<text transform="translate(355.30,819.70) scale(1,1.13)" font-family="Liberation Sans, sans-serif" font-size="7.4" fill="#3a3a3a" stroke="#3a3a3a" stroke-width="0.3" text-anchor="middle">2016</text>
<line x1="404.00" y1="809.50" x2="404.00" y2="805.00" stroke="#8c8c8c" stroke-width="0.9"/>
<line x1="404.00" y1="572.00" x2="404.00" y2="576.50" stroke="#8c8c8c" stroke-width="0.9"/>
<text transform="translate(404.00,819.70) scale(1,1.13)" font-family="Liberation Sans, sans-serif" font-size="7.4" fill="#3a3a3a" stroke="#3a3a3a" stroke-width="0.3" text-anchor="middle">2018</text>
<line x1="452.70" y1="809.50" x2="452.70" y2="805.00" stroke="#8c8c8c" stroke-width="0.9"/>
<line x1="452.70" y1="572.00" x2="452.70" y2="576.50" stroke="#8c8c8c" stroke-width="0.9"/>
<text transform="translate(452.70,819.70) scale(1,1.13)" font-family="Liberation Sans, sans-serif" font-size="7.4" fill="#3a3a3a" stroke="#3a3a3a" stroke-width="0.3" text-anchor="middle">2020</text>
<line x1="33.70" y1="809.50" x2="38.20" y2="809.50" stroke="#8c8c8c" stroke-width="0.9"/>
<line x1="496.40" y1="809.50" x2="491.90" y2="809.50" stroke="#8c8c8c" stroke-width="0.9"/>
<text transform="translate(31.30,812.40) scale(1,1.13)" font-family="Liberation Sans, sans-serif" font-size="7.4" fill="#3a3a3a" stroke="#3a3a3a" stroke-width="0.3" text-anchor="end">-5</text>
<line x1="33.70" y1="769.92" x2="38.20" y2="769.92" stroke="#8c8c8c" stroke-width="0.9"/>
<line x1="496.40" y1="769.92" x2="491.90" y2="769.92" stroke="#8c8c8c" stroke-width="0.9"/>
<text transform="translate(31.30,772.82) scale(1,1.13)" font-family="Liberation Sans, sans-serif" font-size="7.4" fill="#3a3a3a" stroke="#3a3a3a" stroke-width="0.3" text-anchor="end">0</text>
<line x1="33.70" y1="730.33" x2="38.20" y2="730.33" stroke="#8c8c8c" stroke-width="0.9"/>
<line x1="496.40" y1="730.33" x2="491.90" y2="730.33" stroke="#8c8c8c" stroke-width="0.9"/>
<text transform="translate(31.30,733.23) scale(1,1.13)" font-family="Liberation Sans, sans-serif" font-size="7.4" fill="#3a3a3a" stroke="#3a3a3a" stroke-width="0.3" text-anchor="end">5</text>
<line x1="33.70" y1="690.75" x2="38.20" y2="690.75" stroke="#8c8c8c" stroke-width="0.9"/>
<line x1="496.40" y1="690.75" x2="491.90" y2="690.75" stroke="#8c8c8c" stroke-width="0.9"/>
<text transform="translate(31.30,693.65) scale(1,1.13)" font-family="Liberation Sans, sans-serif" font-size="7.4" fill="#3a3a3a" stroke="#3a3a3a" stroke-width="0.3" text-anchor="end">10</text>
<line x1="33.70" y1="651.17" x2="38.20" y2="651.17" stroke="#8c8c8c" stroke-width="0.9"/>
<line x1="496.40" y1="651.17" x2="491.90" y2="651.17" stroke="#8c8c8c" stroke-width="0.9"/>
<text transform="translate(31.30,654.07) scale(1,1.13)" font-family="Liberation Sans, sans-serif" font-size="7.4" fill="#3a3a3a" stroke="#3a3a3a" stroke-width="0.3" text-anchor="end">15</text>
<line x1="33.70" y1="611.58" x2="38.20" y2="611.58" stroke="#8c8c8c" stroke-width="0.9"/>
<line x1="496.40" y1="611.58" x2="491.90" y2="611.58" stroke="#8c8c8c" stroke-width="0.9"/>
<text transform="translate(31.30,614.48) scale(1,1.13)" font-family="Liberation Sans, sans-serif" font-size="7.4" fill="#3a3a3a" stroke="#3a3a3a" stroke-width="0.3" text-anchor="end">20</text>
<line x1="33.70" y1="572.00" x2="38.20" y2="572.00" stroke="#8c8c8c" stroke-width="0.9"/>
<line x1="496.40" y1="572.00" x2="491.90" y2="572.00" stroke="#8c8c8c" stroke-width="0.9"/>
<text transform="translate(31.30,574.90) scale(1,1.13)" font-family="Liberation Sans, sans-serif" font-size="7.4" fill="#3a3a3a" stroke="#3a3a3a" stroke-width="0.3" text-anchor="end">25</text>
<text transform="translate(19.20,690.75) rotate(-90)" font-family="Liberation Sans, sans-serif" font-size="8.1" fill="#2a2a2a" stroke="#2a2a2a" stroke-width="0.3" text-anchor="middle">Temperature / °C</text>
<text x="3.0" y="575.60" font-family="Liberation Sans, sans-serif" font-size="12.2" font-weight="bold" fill="#000" stroke="#000" stroke-width="0.45">C</text>
<rect x="393.5" y="208.7" width="99.6" height="29.5" fill="#fff" stroke="#8c8c8c" stroke-width="0.8"/>
<text x="411.4" y="217.10" font-family="Liberation Sans, sans-serif" font-size="7.3" fill="#111" stroke="#111" stroke-width="0.25">Rawdata</text>
<text x="411.4" y="226.30" font-family="Liberation Sans, sans-serif" font-size="7.3" fill="#111" stroke="#111" stroke-width="0.25">Moving average 30 days</text>
<text x="411.4" y="235.60" font-family="Liberation Sans, sans-serif" font-size="7.3" fill="#111" stroke="#111" stroke-width="0.25">Monthly mean values</text>
<circle cx="403" cy="214.40" r="0.7" fill="#1f6fbf"/>
<circle cx="403" cy="223.60" r="0.7" fill="#19d419"/>
<line x1="395.5" y1="232.90" x2="410" y2="232.90" stroke="#222" stroke-width="0.85"/>
<circle cx="403" cy="232.90" r="0.9" fill="#000"/>
<rect x="393.5" y="492.2" width="99.6" height="29.6" fill="#fff" stroke="#8c8c8c" stroke-width="0.8"/>
<text x="411.4" y="500.60" font-family="Liberation Sans, sans-serif" font-size="7.3" fill="#111" stroke="#111" stroke-width="0.25">Rawdata</text>
<text x="411.4" y="509.80" font-family="Liberation Sans, sans-serif" font-size="7.3" fill="#111" stroke="#111" stroke-width="0.25">Moving average 30 days</text>
<text x="411.4" y="519.10" font-family="Liberation Sans, sans-serif" font-size="7.3" fill="#111" stroke="#111" stroke-width="0.25">Monthly mean values</text>
<circle cx="403" cy="497.90" r="0.7" fill="#1f6fbf"/>
<circle cx="403" cy="507.10" r="0.7" fill="#19d419"/>
<line x1="395.5" y1="516.40" x2="410" y2="516.40" stroke="#bbb" stroke-width="0.6" stroke-dasharray="1,1"/>
<circle cx="403" cy="516.40" r="0.9" fill="#000"/>
<rect x="409.4" y="785.0" width="82.9" height="19.8" fill="#fff" stroke="#8c8c8c" stroke-width="0.8"/>
<line x1="411" y1="791.00" x2="425.5" y2="791.00" stroke="#222" stroke-width="0.85"/>
<circle cx="418.3" cy="791.00" r="0.9" fill="#000"/>
<line x1="411" y1="800.30" x2="425.5" y2="800.30" stroke="#e06060" stroke-width="0.6" stroke-dasharray="2,1.2"/>
<circle cx="418.3" cy="800.30" r="1.5" fill="none" stroke="#e06060" stroke-width="0.5"/>
<text x="427.5" y="793.70" font-family="Liberation Sans, sans-serif" font-size="7.3" fill="#111" stroke="#111" stroke-width="0.25">Air Temperature</text>
<text x="427.5" y="803.00" font-family="Liberation Sans, sans-serif" font-size="7.3" fill="#111" stroke="#111" stroke-width="0.25">Water Temperature</text>
</svg>
</body></html>
